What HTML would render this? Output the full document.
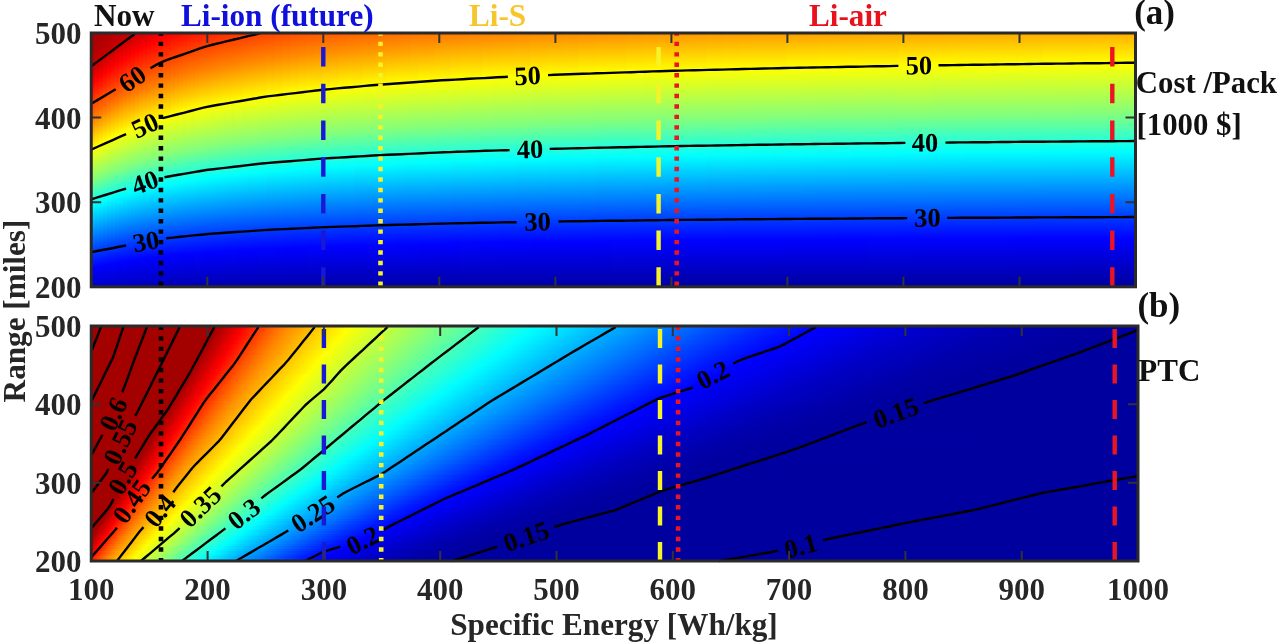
<!DOCTYPE html><html><head><meta charset="utf-8"><title>fig</title><style>html,body{margin:0;padding:0;background:#fff}body{width:1280px;height:644px;position:relative;overflow:hidden}</style></head><body><svg width="1280" height="644" viewBox="0 0 1280 644" style="position:absolute;left:0;top:0">
<defs><linearGradient id="t0" x1="0" y1="0" x2="0" y2="1"><stop offset="0" stop-color="#a60000"/><stop offset="0.07087" stop-color="#b10000"/><stop offset="0.1181" stop-color="#c20000"/><stop offset="0.1496" stop-color="#d30000"/><stop offset="0.1969" stop-color="#fd0000"/><stop offset="0.3307" stop-color="#ff7500"/><stop offset="0.4567" stop-color="#fdff02"/><stop offset="0.5827" stop-color="#80ff7f"/><stop offset="0.6772" stop-color="#03fffc"/><stop offset="0.8583" stop-color="#003eff"/><stop offset="0.9213" stop-color="#0003ff"/><stop offset="0.9291" stop-color="#0000fc"/><stop offset="1" stop-color="#0000cd"/></linearGradient><linearGradient id="t1" x1="0" y1="0" x2="0" y2="1"><stop offset="0" stop-color="#a80000"/><stop offset="0.06299" stop-color="#b40000"/><stop offset="0.1024" stop-color="#c20000"/><stop offset="0.1339" stop-color="#d30000"/><stop offset="0.189" stop-color="#ff0300"/><stop offset="0.3228" stop-color="#ff7900"/><stop offset="0.4409" stop-color="#fffb00"/><stop offset="0.4488" stop-color="#fbff04"/><stop offset="0.5748" stop-color="#80ff7f"/><stop offset="0.6614" stop-color="#0efff1"/><stop offset="0.6772" stop-color="#00faff"/><stop offset="0.8504" stop-color="#0042ff"/><stop offset="0.9213" stop-color="#0001ff"/><stop offset="1" stop-color="#0000cb"/></linearGradient><linearGradient id="t2" x1="0" y1="0" x2="0" y2="1"><stop offset="0" stop-color="#ab0000"/><stop offset="0.05512" stop-color="#b60000"/><stop offset="0.1024" stop-color="#c90000"/><stop offset="0.126" stop-color="#d70000"/><stop offset="0.1732" stop-color="#ff0100"/><stop offset="0.3071" stop-color="#ff7500"/><stop offset="0.4331" stop-color="#fffc00"/><stop offset="0.4409" stop-color="#faff05"/><stop offset="0.5669" stop-color="#81ff7e"/><stop offset="0.6535" stop-color="#10ffef"/><stop offset="0.6693" stop-color="#00fcff"/><stop offset="0.8504" stop-color="#003eff"/><stop offset="0.9134" stop-color="#0004ff"/><stop offset="0.9213" stop-color="#0000fd"/><stop offset="1" stop-color="#0000ca"/></linearGradient><linearGradient id="t3" x1="0" y1="0" x2="0" y2="1"><stop offset="0" stop-color="#ad0000"/><stop offset="0.04724" stop-color="#b80000"/><stop offset="0.09449" stop-color="#cc0000"/><stop offset="0.1575" stop-color="#fe0000"/><stop offset="0.2992" stop-color="#ff7700"/><stop offset="0.4252" stop-color="#fffd00"/><stop offset="0.4331" stop-color="#f9ff06"/><stop offset="0.5591" stop-color="#82ff7d"/><stop offset="0.6614" stop-color="#00ffff"/><stop offset="0.8425" stop-color="#0042ff"/><stop offset="0.9134" stop-color="#0001ff"/><stop offset="1" stop-color="#0000c8"/></linearGradient><linearGradient id="t4" x1="0" y1="0" x2="0" y2="1"><stop offset="0" stop-color="#b00000"/><stop offset="0.03937" stop-color="#ba0000"/><stop offset="0.07874" stop-color="#cb0000"/><stop offset="0.1496" stop-color="#ff0300"/><stop offset="0.2913" stop-color="#ff7900"/><stop offset="0.4173" stop-color="#fffe00"/><stop offset="0.4252" stop-color="#f8ff07"/><stop offset="0.5512" stop-color="#83ff7c"/><stop offset="0.6535" stop-color="#02fffd"/><stop offset="0.8425" stop-color="#003eff"/><stop offset="0.9055" stop-color="#0005ff"/><stop offset="0.9134" stop-color="#0000fe"/><stop offset="1" stop-color="#0000c6"/></linearGradient><linearGradient id="t5" x1="0" y1="0" x2="0" y2="1"><stop offset="0" stop-color="#b30000"/><stop offset="0.07087" stop-color="#cd0000"/><stop offset="0.1339" stop-color="#ff0000"/><stop offset="0.2756" stop-color="#ff7400"/><stop offset="0.4094" stop-color="#fffe00"/><stop offset="0.4173" stop-color="#f8ff07"/><stop offset="0.5433" stop-color="#84ff7b"/><stop offset="0.6378" stop-color="#0ffff0"/><stop offset="0.6535" stop-color="#00fbff"/><stop offset="0.8346" stop-color="#0043ff"/><stop offset="0.9055" stop-color="#0003ff"/><stop offset="1" stop-color="#0000c5"/></linearGradient><linearGradient id="t6" x1="0" y1="0" x2="0" y2="1"><stop offset="0" stop-color="#b60000"/><stop offset="0.06299" stop-color="#d00000"/><stop offset="0.126" stop-color="#ff0300"/><stop offset="0.2677" stop-color="#ff7500"/><stop offset="0.4016" stop-color="#fffe00"/><stop offset="0.4094" stop-color="#f9ff06"/><stop offset="0.5433" stop-color="#7eff81"/><stop offset="0.6457" stop-color="#00ffff"/><stop offset="0.8346" stop-color="#003fff"/><stop offset="0.9055" stop-color="#0001ff"/><stop offset="1" stop-color="#0000c3"/></linearGradient><linearGradient id="t7" x1="0" y1="0" x2="0" y2="1"><stop offset="0" stop-color="#ba0000"/><stop offset="0.04724" stop-color="#ce0000"/><stop offset="0.1102" stop-color="#fe0000"/><stop offset="0.1181" stop-color="#ff0500"/><stop offset="0.2598" stop-color="#ff7600"/><stop offset="0.3937" stop-color="#fffd00"/><stop offset="0.4016" stop-color="#f9ff06"/><stop offset="0.5276" stop-color="#88ff77"/><stop offset="0.5591" stop-color="#65ff9a"/><stop offset="0.6378" stop-color="#03fffc"/><stop offset="0.6457" stop-color="#00f9ff"/><stop offset="0.8346" stop-color="#003cff"/><stop offset="0.8976" stop-color="#0005ff"/><stop offset="0.9055" stop-color="#0000fe"/><stop offset="1" stop-color="#0000c2"/></linearGradient><linearGradient id="t8" x1="0" y1="0" x2="0" y2="1"><stop offset="0" stop-color="#be0000"/><stop offset="0.04724" stop-color="#d50000"/><stop offset="0.1024" stop-color="#ff0100"/><stop offset="0.252" stop-color="#ff7700"/><stop offset="0.3858" stop-color="#fffd00"/><stop offset="0.3937" stop-color="#faff05"/><stop offset="0.5276" stop-color="#83ff7c"/><stop offset="0.6378" stop-color="#00fdff"/><stop offset="0.8268" stop-color="#0041ff"/><stop offset="0.8976" stop-color="#0003ff"/><stop offset="1" stop-color="#0000c1"/></linearGradient><linearGradient id="t9" x1="0" y1="0" x2="0" y2="1"><stop offset="0" stop-color="#c30000"/><stop offset="0.0315" stop-color="#d10000"/><stop offset="0.09449" stop-color="#ff0200"/><stop offset="0.2441" stop-color="#ff7700"/><stop offset="0.378" stop-color="#fffb00"/><stop offset="0.3858" stop-color="#fbff04"/><stop offset="0.5276" stop-color="#7dff82"/><stop offset="0.6299" stop-color="#02fffd"/><stop offset="0.8346" stop-color="#0037ff"/><stop offset="0.8976" stop-color="#0001ff"/><stop offset="1" stop-color="#0000bf"/></linearGradient><linearGradient id="t10" x1="0" y1="0" x2="0" y2="1"><stop offset="0" stop-color="#c70000"/><stop offset="0.0315" stop-color="#d80000"/><stop offset="0.07874" stop-color="#fd0000"/><stop offset="0.08661" stop-color="#ff0400"/><stop offset="0.2441" stop-color="#ff7e00"/><stop offset="0.378" stop-color="#fcff03"/><stop offset="0.5197" stop-color="#80ff7f"/><stop offset="0.6142" stop-color="#0ffff0"/><stop offset="0.6299" stop-color="#00fcff"/><stop offset="0.8189" stop-color="#0043ff"/><stop offset="0.8898" stop-color="#0005ff"/><stop offset="0.8976" stop-color="#0000fe"/><stop offset="1" stop-color="#0000be"/></linearGradient><linearGradient id="t11" x1="0" y1="0" x2="0" y2="1"><stop offset="0" stop-color="#cc0000"/><stop offset="0.07087" stop-color="#fe0000"/><stop offset="0.07874" stop-color="#ff0500"/><stop offset="0.2362" stop-color="#ff7e00"/><stop offset="0.3701" stop-color="#feff01"/><stop offset="0.5118" stop-color="#83ff7c"/><stop offset="0.622" stop-color="#02fffd"/><stop offset="0.8268" stop-color="#0039ff"/><stop offset="0.8898" stop-color="#0003ff"/><stop offset="0.8976" stop-color="#0000fd"/><stop offset="1" stop-color="#0000bd"/></linearGradient><linearGradient id="t12" x1="0" y1="0" x2="0" y2="1"><stop offset="0" stop-color="#d10000"/><stop offset="0.06299" stop-color="#ff0000"/><stop offset="0.2205" stop-color="#ff7600"/><stop offset="0.3622" stop-color="#fffe00"/><stop offset="0.3701" stop-color="#f9ff06"/><stop offset="0.5118" stop-color="#7eff81"/><stop offset="0.6063" stop-color="#0ffff0"/><stop offset="0.622" stop-color="#00fdff"/><stop offset="0.8189" stop-color="#003eff"/><stop offset="0.8898" stop-color="#0002ff"/><stop offset="1" stop-color="#0000bc"/></linearGradient><linearGradient id="t13" x1="0" y1="0" x2="0" y2="1"><stop offset="0" stop-color="#d60000"/><stop offset="0.05512" stop-color="#ff0000"/><stop offset="0.2205" stop-color="#ff7c00"/><stop offset="0.3543" stop-color="#fffc00"/><stop offset="0.3622" stop-color="#fbff04"/><stop offset="0.5039" stop-color="#82ff7d"/><stop offset="0.6142" stop-color="#02fffd"/><stop offset="0.8189" stop-color="#003cff"/><stop offset="0.8898" stop-color="#0000ff"/><stop offset="1" stop-color="#0000bb"/></linearGradient><linearGradient id="t14" x1="0" y1="0" x2="0" y2="1"><stop offset="0" stop-color="#dc0000"/><stop offset="0.04724" stop-color="#ff0100"/><stop offset="0.1181" stop-color="#ff3300"/><stop offset="0.2283" stop-color="#ff8900"/><stop offset="0.3543" stop-color="#fdff02"/><stop offset="0.4961" stop-color="#85ff7a"/><stop offset="0.6142" stop-color="#00fdff"/><stop offset="0.811" stop-color="#0041ff"/><stop offset="0.8819" stop-color="#0005ff"/><stop offset="0.8898" stop-color="#0000fe"/><stop offset="1" stop-color="#0000ba"/></linearGradient><linearGradient id="t15" x1="0" y1="0" x2="0" y2="1"><stop offset="0" stop-color="#e20000"/><stop offset="0.03937" stop-color="#ff0100"/><stop offset="0.1181" stop-color="#ff3800"/><stop offset="0.2126" stop-color="#ff8100"/><stop offset="0.3465" stop-color="#ffff00"/><stop offset="0.3543" stop-color="#f8ff07"/><stop offset="0.4961" stop-color="#81ff7e"/><stop offset="0.5984" stop-color="#0cfff3"/><stop offset="0.6142" stop-color="#00faff"/><stop offset="0.811" stop-color="#003fff"/><stop offset="0.8819" stop-color="#0003ff"/><stop offset="0.8898" stop-color="#0000fd"/><stop offset="1" stop-color="#0000b9"/></linearGradient><linearGradient id="t16" x1="0" y1="0" x2="0" y2="1"><stop offset="0" stop-color="#e80000"/><stop offset="0.0315" stop-color="#ff0100"/><stop offset="0.1417" stop-color="#ff4e00"/><stop offset="0.2126" stop-color="#ff8600"/><stop offset="0.3307" stop-color="#fff500"/><stop offset="0.3465" stop-color="#fbff04"/><stop offset="0.4961" stop-color="#7dff82"/><stop offset="0.6063" stop-color="#00ffff"/><stop offset="0.811" stop-color="#003dff"/><stop offset="0.8819" stop-color="#0002ff"/><stop offset="1" stop-color="#0000b8"/></linearGradient><linearGradient id="t17" x1="0" y1="0" x2="0" y2="1"><stop offset="0" stop-color="#ee0000"/><stop offset="0.02362" stop-color="#ff0000"/><stop offset="0.1575" stop-color="#ff5f00"/><stop offset="0.2205" stop-color="#ff9200"/><stop offset="0.3386" stop-color="#fdff02"/><stop offset="0.4882" stop-color="#81ff7e"/><stop offset="0.5906" stop-color="#0dfff2"/><stop offset="0.6063" stop-color="#00fbff"/><stop offset="0.811" stop-color="#003bff"/><stop offset="0.8819" stop-color="#0001ff"/><stop offset="1" stop-color="#0000b7"/></linearGradient><linearGradient id="t18" x1="0" y1="0" x2="0" y2="1"><stop offset="0" stop-color="#f40000"/><stop offset="0.01575" stop-color="#ff0000"/><stop offset="0.1575" stop-color="#ff6400"/><stop offset="0.2205" stop-color="#ff9700"/><stop offset="0.3307" stop-color="#fffe00"/><stop offset="0.3386" stop-color="#f9ff06"/><stop offset="0.4882" stop-color="#7eff81"/><stop offset="0.5984" stop-color="#01fffe"/><stop offset="0.811" stop-color="#0039ff"/><stop offset="0.8819" stop-color="#0000ff"/><stop offset="1" stop-color="#0000b7"/></linearGradient><linearGradient id="t19" x1="0" y1="0" x2="0" y2="1"><stop offset="0" stop-color="#f90000"/><stop offset="0.01575" stop-color="#ff0500"/><stop offset="0.1654" stop-color="#ff6e00"/><stop offset="0.3307" stop-color="#fcff03"/><stop offset="0.4803" stop-color="#82ff7d"/><stop offset="0.5984" stop-color="#00fdff"/><stop offset="0.8031" stop-color="#003fff"/><stop offset="0.874" stop-color="#0004ff"/><stop offset="0.8819" stop-color="#0000fe"/><stop offset="1" stop-color="#0000b6"/></linearGradient><linearGradient id="t20" x1="0" y1="0" x2="0" y2="1"><stop offset="0" stop-color="#fe0000"/><stop offset="0.1654" stop-color="#ff7200"/><stop offset="0.2126" stop-color="#ff9900"/><stop offset="0.3228" stop-color="#ffff00"/><stop offset="0.3307" stop-color="#f8ff07"/><stop offset="0.4724" stop-color="#86ff79"/><stop offset="0.5039" stop-color="#66ff99"/><stop offset="0.5827" stop-color="#0cfff3"/><stop offset="0.5984" stop-color="#00faff"/><stop offset="0.8031" stop-color="#003dff"/><stop offset="0.874" stop-color="#0003ff"/><stop offset="1" stop-color="#0000b5"/></linearGradient><linearGradient id="t21" x1="0" y1="0" x2="0" y2="1"><stop offset="0" stop-color="#ff0300"/><stop offset="0.1732" stop-color="#ff7c00"/><stop offset="0.315" stop-color="#fffc00"/><stop offset="0.4173" stop-color="#b1ff4e"/><stop offset="0.4724" stop-color="#83ff7c"/><stop offset="0.5906" stop-color="#01fffe"/><stop offset="0.8031" stop-color="#003cff"/><stop offset="0.874" stop-color="#0002ff"/><stop offset="1" stop-color="#0000b5"/></linearGradient><linearGradient id="t22" x1="0" y1="0" x2="0" y2="1"><stop offset="0" stop-color="#ff0700"/><stop offset="0.1732" stop-color="#ff8000"/><stop offset="0.315" stop-color="#ffff00"/><stop offset="0.4724" stop-color="#80ff7f"/><stop offset="0.5827" stop-color="#06fff9"/><stop offset="0.5906" stop-color="#00fdff"/><stop offset="0.8031" stop-color="#003aff"/><stop offset="0.874" stop-color="#0001ff"/><stop offset="1" stop-color="#0000b4"/></linearGradient><linearGradient id="t23" x1="0" y1="0" x2="0" y2="1"><stop offset="0" stop-color="#ff0b00"/><stop offset="0.1654" stop-color="#ff7e00"/><stop offset="0.3071" stop-color="#fffc00"/><stop offset="0.4646" stop-color="#84ff7b"/><stop offset="0.5827" stop-color="#03fffc"/><stop offset="0.5906" stop-color="#00faff"/><stop offset="0.811" stop-color="#0032ff"/><stop offset="0.874" stop-color="#0000ff"/><stop offset="1" stop-color="#0000b3"/></linearGradient><linearGradient id="t24" x1="0" y1="0" x2="0" y2="1"><stop offset="0" stop-color="#ff0f00"/><stop offset="0.1654" stop-color="#ff8200"/><stop offset="0.3071" stop-color="#ffff00"/><stop offset="0.4646" stop-color="#81ff7e"/><stop offset="0.5827" stop-color="#01fffe"/><stop offset="0.7953" stop-color="#003eff"/><stop offset="0.8661" stop-color="#0005ff"/><stop offset="0.874" stop-color="#0000fe"/><stop offset="1" stop-color="#0000b3"/></linearGradient><linearGradient id="t25" x1="0" y1="0" x2="0" y2="1"><stop offset="0" stop-color="#ff1300"/><stop offset="0.1575" stop-color="#ff7f00"/><stop offset="0.2992" stop-color="#fffc00"/><stop offset="0.4567" stop-color="#86ff79"/><stop offset="0.4882" stop-color="#67ff98"/><stop offset="0.5748" stop-color="#06fff9"/><stop offset="0.5827" stop-color="#00feff"/><stop offset="0.7953" stop-color="#003dff"/><stop offset="0.8661" stop-color="#0004ff"/><stop offset="0.874" stop-color="#0000fd"/><stop offset="1" stop-color="#0000b2"/></linearGradient><linearGradient id="t26" x1="0" y1="0" x2="0" y2="1"><stop offset="0" stop-color="#ff1600"/><stop offset="0.1575" stop-color="#ff8300"/><stop offset="0.2992" stop-color="#ffff00"/><stop offset="0.4567" stop-color="#83ff7c"/><stop offset="0.5748" stop-color="#04fffb"/><stop offset="0.5827" stop-color="#00fbff"/><stop offset="0.8031" stop-color="#0035ff"/><stop offset="0.8661" stop-color="#0003ff"/><stop offset="1" stop-color="#0000b2"/></linearGradient><linearGradient id="t27" x1="0" y1="0" x2="0" y2="1"><stop offset="0" stop-color="#ff1a00"/><stop offset="0.1496" stop-color="#ff8000"/><stop offset="0.2835" stop-color="#fff500"/><stop offset="0.2992" stop-color="#fcff03"/><stop offset="0.4567" stop-color="#81ff7e"/><stop offset="0.5748" stop-color="#02fffd"/><stop offset="0.7953" stop-color="#003aff"/><stop offset="0.8661" stop-color="#0002ff"/><stop offset="1" stop-color="#0000b1"/></linearGradient><linearGradient id="t28" x1="0" y1="0" x2="0" y2="1"><stop offset="0" stop-color="#ff1d00"/><stop offset="0.1496" stop-color="#ff8300"/><stop offset="0.2913" stop-color="#fffe00"/><stop offset="0.4488" stop-color="#85ff7a"/><stop offset="0.4803" stop-color="#67ff98"/><stop offset="0.5669" stop-color="#08fff7"/><stop offset="0.5748" stop-color="#00ffff"/><stop offset="0.7953" stop-color="#0039ff"/><stop offset="0.8661" stop-color="#0001ff"/><stop offset="1" stop-color="#0000b1"/></linearGradient><linearGradient id="t29" x1="0" y1="0" x2="0" y2="1"><stop offset="0" stop-color="#ff2000"/><stop offset="0.1417" stop-color="#ff8000"/><stop offset="0.2913" stop-color="#fdff02"/><stop offset="0.4488" stop-color="#83ff7c"/><stop offset="0.5669" stop-color="#05fffa"/><stop offset="0.5748" stop-color="#00fdff"/><stop offset="0.7953" stop-color="#0038ff"/><stop offset="0.8661" stop-color="#0000ff"/><stop offset="1" stop-color="#0000b0"/></linearGradient><linearGradient id="t30" x1="0" y1="0" x2="0" y2="1"><stop offset="0" stop-color="#ff2300"/><stop offset="0.1417" stop-color="#ff8300"/><stop offset="0.2835" stop-color="#fffd00"/><stop offset="0.3937" stop-color="#aeff51"/><stop offset="0.4488" stop-color="#81ff7e"/><stop offset="0.5669" stop-color="#03fffc"/><stop offset="0.5748" stop-color="#00fbff"/><stop offset="0.8031" stop-color="#0030ff"/><stop offset="0.8661" stop-color="#0000ff"/><stop offset="1" stop-color="#0000b0"/></linearGradient><linearGradient id="t31" x1="0" y1="0" x2="0" y2="1"><stop offset="0" stop-color="#ff2600"/><stop offset="0.1417" stop-color="#ff8600"/><stop offset="0.2835" stop-color="#feff01"/><stop offset="0.4488" stop-color="#7fff80"/><stop offset="0.5669" stop-color="#01fffe"/><stop offset="0.7953" stop-color="#0036ff"/><stop offset="0.8583" stop-color="#0004ff"/><stop offset="0.8661" stop-color="#0000fe"/><stop offset="1" stop-color="#0000b0"/></linearGradient><linearGradient id="t32" x1="0" y1="0" x2="0" y2="1"><stop offset="0" stop-color="#ff2900"/><stop offset="0.1339" stop-color="#ff8300"/><stop offset="0.2677" stop-color="#fff500"/><stop offset="0.2835" stop-color="#fcff03"/><stop offset="0.4409" stop-color="#83ff7c"/><stop offset="0.5591" stop-color="#07fff8"/><stop offset="0.5669" stop-color="#00ffff"/><stop offset="0.7874" stop-color="#003cff"/><stop offset="0.8583" stop-color="#0004ff"/><stop offset="0.8661" stop-color="#0000fd"/><stop offset="1" stop-color="#0000af"/></linearGradient><linearGradient id="t33" x1="0" y1="0" x2="0" y2="1"><stop offset="0" stop-color="#ff2b00"/><stop offset="0.1339" stop-color="#ff8600"/><stop offset="0.2756" stop-color="#fffe00"/><stop offset="0.4409" stop-color="#81ff7e"/><stop offset="0.5591" stop-color="#05fffa"/><stop offset="0.5669" stop-color="#00fdff"/><stop offset="0.7874" stop-color="#003aff"/><stop offset="0.8583" stop-color="#0003ff"/><stop offset="1" stop-color="#0000af"/></linearGradient><linearGradient id="t34" x1="0" y1="0" x2="0" y2="1"><stop offset="0" stop-color="#ff2e00"/><stop offset="0.126" stop-color="#ff8200"/><stop offset="0.2756" stop-color="#feff01"/><stop offset="0.4409" stop-color="#7fff80"/><stop offset="0.5591" stop-color="#04fffb"/><stop offset="0.5669" stop-color="#00fbff"/><stop offset="0.7953" stop-color="#0033ff"/><stop offset="0.8583" stop-color="#0002ff"/><stop offset="1" stop-color="#0000ae"/></linearGradient><linearGradient id="t35" x1="0" y1="0" x2="0" y2="1"><stop offset="0" stop-color="#ff3000"/><stop offset="0.126" stop-color="#ff8500"/><stop offset="0.2677" stop-color="#fffc00"/><stop offset="0.4331" stop-color="#84ff7b"/><stop offset="0.5591" stop-color="#02fffd"/><stop offset="0.7874" stop-color="#0039ff"/><stop offset="0.8583" stop-color="#0002ff"/><stop offset="1" stop-color="#0000ae"/></linearGradient><linearGradient id="t36" x1="0" y1="0" x2="0" y2="1"><stop offset="0" stop-color="#ff3300"/><stop offset="0.126" stop-color="#ff8700"/><stop offset="0.2677" stop-color="#ffff00"/><stop offset="0.4331" stop-color="#83ff7c"/><stop offset="0.5591" stop-color="#00ffff"/><stop offset="0.7874" stop-color="#0038ff"/><stop offset="0.8583" stop-color="#0001ff"/><stop offset="1" stop-color="#0000ae"/></linearGradient><linearGradient id="t37" x1="0" y1="0" x2="0" y2="1"><stop offset="0" stop-color="#ff3500"/><stop offset="0.1181" stop-color="#ff8400"/><stop offset="0.2677" stop-color="#fdff02"/><stop offset="0.4331" stop-color="#81ff7e"/><stop offset="0.5512" stop-color="#06fff9"/><stop offset="0.5591" stop-color="#00feff"/><stop offset="0.7874" stop-color="#0037ff"/><stop offset="0.8583" stop-color="#0000ff"/><stop offset="1" stop-color="#0000ad"/></linearGradient><linearGradient id="t38" x1="0" y1="0" x2="0" y2="1"><stop offset="0" stop-color="#ff3700"/><stop offset="0.1181" stop-color="#ff8600"/><stop offset="0.2598" stop-color="#fffd00"/><stop offset="0.4252" stop-color="#86ff79"/><stop offset="0.4646" stop-color="#61ff9e"/><stop offset="0.5512" stop-color="#05fffa"/><stop offset="0.5591" stop-color="#00fcff"/><stop offset="0.7953" stop-color="#002fff"/><stop offset="0.8583" stop-color="#0000ff"/><stop offset="1" stop-color="#0000ad"/></linearGradient><linearGradient id="t39" x1="0" y1="0" x2="0" y2="1"><stop offset="0" stop-color="#ff3900"/><stop offset="0.1181" stop-color="#ff8900"/><stop offset="0.2598" stop-color="#ffff00"/><stop offset="0.4252" stop-color="#84ff7b"/><stop offset="0.5512" stop-color="#03fffc"/><stop offset="0.7953" stop-color="#002fff"/><stop offset="0.8583" stop-color="#0000fe"/><stop offset="1" stop-color="#0000ad"/></linearGradient><linearGradient id="t40" x1="0" y1="0" x2="0" y2="1"><stop offset="0" stop-color="#ff3c00"/><stop offset="0.1181" stop-color="#ff8b00"/><stop offset="0.2598" stop-color="#feff01"/><stop offset="0.4252" stop-color="#83ff7c"/><stop offset="0.5512" stop-color="#02fffd"/><stop offset="0.7874" stop-color="#0034ff"/><stop offset="0.8504" stop-color="#0004ff"/><stop offset="0.8583" stop-color="#0000fe"/><stop offset="1" stop-color="#0000ad"/></linearGradient><linearGradient id="t41" x1="0" y1="0" x2="0" y2="1"><stop offset="0" stop-color="#ff3e00"/><stop offset="0.1102" stop-color="#ff8700"/><stop offset="0.2441" stop-color="#fff600"/><stop offset="0.2598" stop-color="#fcff03"/><stop offset="0.4252" stop-color="#81ff7e"/><stop offset="0.5512" stop-color="#00ffff"/><stop offset="0.7795" stop-color="#003aff"/><stop offset="0.8504" stop-color="#0004ff"/><stop offset="0.8583" stop-color="#0000fd"/><stop offset="1" stop-color="#0000ac"/></linearGradient><linearGradient id="t42" x1="0" y1="0" x2="0" y2="1"><stop offset="0" stop-color="#ff4000"/><stop offset="0.1102" stop-color="#ff8900"/><stop offset="0.252" stop-color="#fffe00"/><stop offset="0.4252" stop-color="#7fff80"/><stop offset="0.5433" stop-color="#06fff9"/><stop offset="0.5512" stop-color="#00feff"/><stop offset="0.7795" stop-color="#0039ff"/><stop offset="0.8504" stop-color="#0003ff"/><stop offset="1" stop-color="#0000ac"/></linearGradient><linearGradient id="t43" x1="0" y1="0" x2="0" y2="1"><stop offset="0" stop-color="#ff4200"/><stop offset="0.1102" stop-color="#ff8b00"/><stop offset="0.252" stop-color="#feff01"/><stop offset="0.4173" stop-color="#85ff7a"/><stop offset="0.5433" stop-color="#05fffa"/><stop offset="0.5512" stop-color="#00fdff"/><stop offset="0.7795" stop-color="#0039ff"/><stop offset="0.8504" stop-color="#0002ff"/><stop offset="1" stop-color="#0000ac"/></linearGradient><linearGradient id="t44" x1="0" y1="0" x2="0" y2="1"><stop offset="0" stop-color="#ff4400"/><stop offset="0.1024" stop-color="#ff8800"/><stop offset="0.2362" stop-color="#fff600"/><stop offset="0.252" stop-color="#fcff03"/><stop offset="0.4173" stop-color="#82ff7d"/><stop offset="0.5433" stop-color="#03fffc"/><stop offset="0.7874" stop-color="#0031ff"/><stop offset="0.8504" stop-color="#0002ff"/><stop offset="1" stop-color="#0000ab"/></linearGradient><linearGradient id="t45" x1="0" y1="0" x2="0" y2="1"><stop offset="0" stop-color="#ff4800"/><stop offset="0.1024" stop-color="#ff8c00"/><stop offset="0.2441" stop-color="#feff01"/><stop offset="0.4173" stop-color="#80ff7f"/><stop offset="0.5433" stop-color="#01fffe"/><stop offset="0.7795" stop-color="#0036ff"/><stop offset="0.8504" stop-color="#0001ff"/><stop offset="1" stop-color="#0000ab"/></linearGradient><linearGradient id="t46" x1="0" y1="0" x2="0" y2="1"><stop offset="0" stop-color="#ff4b00"/><stop offset="0.09449" stop-color="#ff8a00"/><stop offset="0.2283" stop-color="#fff600"/><stop offset="0.2441" stop-color="#fbff04"/><stop offset="0.4094" stop-color="#84ff7b"/><stop offset="0.5354" stop-color="#06fff9"/><stop offset="0.5433" stop-color="#00fdff"/><stop offset="0.7795" stop-color="#0035ff"/><stop offset="0.8504" stop-color="#0000ff"/><stop offset="1" stop-color="#0000ab"/></linearGradient><linearGradient id="t47" x1="0" y1="0" x2="0" y2="1"><stop offset="0" stop-color="#ff4f00"/><stop offset="0.09449" stop-color="#ff8e00"/><stop offset="0.2362" stop-color="#feff01"/><stop offset="0.4094" stop-color="#81ff7e"/><stop offset="0.5354" stop-color="#03fffc"/><stop offset="0.5433" stop-color="#00fbff"/><stop offset="0.7795" stop-color="#0034ff"/><stop offset="0.8425" stop-color="#0004ff"/><stop offset="0.8504" stop-color="#0000fe"/><stop offset="1" stop-color="#0000aa"/></linearGradient><linearGradient id="t48" x1="0" y1="0" x2="0" y2="1"><stop offset="0" stop-color="#ff5200"/><stop offset="0.08661" stop-color="#ff8b00"/><stop offset="0.2205" stop-color="#fff600"/><stop offset="0.2362" stop-color="#fcff03"/><stop offset="0.4094" stop-color="#7fff80"/><stop offset="0.5354" stop-color="#01fffe"/><stop offset="0.7717" stop-color="#0039ff"/><stop offset="0.8425" stop-color="#0004ff"/><stop offset="0.8504" stop-color="#0000fd"/><stop offset="1" stop-color="#0000aa"/></linearGradient><linearGradient id="t49" x1="0" y1="0" x2="0" y2="1"><stop offset="0" stop-color="#ff5500"/><stop offset="0.08661" stop-color="#ff8e00"/><stop offset="0.2283" stop-color="#ffff00"/><stop offset="0.4016" stop-color="#83ff7c"/><stop offset="0.5276" stop-color="#06fff9"/><stop offset="0.5354" stop-color="#00feff"/><stop offset="0.7717" stop-color="#0038ff"/><stop offset="0.8425" stop-color="#0003ff"/><stop offset="1" stop-color="#0000a9"/></linearGradient><linearGradient id="t50" x1="0" y1="0" x2="0" y2="1"><stop offset="0" stop-color="#ff5700"/><stop offset="0.07874" stop-color="#ff8b00"/><stop offset="0.2283" stop-color="#fcff03"/><stop offset="0.4016" stop-color="#81ff7e"/><stop offset="0.5276" stop-color="#04fffb"/><stop offset="0.5354" stop-color="#00fcff"/><stop offset="0.7717" stop-color="#0037ff"/><stop offset="0.8425" stop-color="#0002ff"/><stop offset="1" stop-color="#0000a9"/></linearGradient><linearGradient id="t51" x1="0" y1="0" x2="0" y2="1"><stop offset="0" stop-color="#ff5a00"/><stop offset="0.08661" stop-color="#ff9400"/><stop offset="0.2205" stop-color="#fffe00"/><stop offset="0.3937" stop-color="#85ff7a"/><stop offset="0.4331" stop-color="#62ff9d"/><stop offset="0.5276" stop-color="#03fffc"/><stop offset="0.7717" stop-color="#0036ff"/><stop offset="0.8425" stop-color="#0001ff"/><stop offset="1" stop-color="#0000a9"/></linearGradient><linearGradient id="t52" x1="0" y1="0" x2="0" y2="1"><stop offset="0" stop-color="#ff5d00"/><stop offset="0.07874" stop-color="#ff9100"/><stop offset="0.2205" stop-color="#feff01"/><stop offset="0.3937" stop-color="#83ff7c"/><stop offset="0.5276" stop-color="#01fffe"/><stop offset="0.7717" stop-color="#0035ff"/><stop offset="0.8425" stop-color="#0001ff"/><stop offset="1" stop-color="#0000a9"/></linearGradient><linearGradient id="t53" x1="0" y1="0" x2="0" y2="1"><stop offset="0" stop-color="#ff5f00"/><stop offset="0.07087" stop-color="#ff8e00"/><stop offset="0.2047" stop-color="#fff700"/><stop offset="0.2205" stop-color="#fbff04"/><stop offset="0.3937" stop-color="#81ff7e"/><stop offset="0.5197" stop-color="#06fff9"/><stop offset="0.5276" stop-color="#00feff"/><stop offset="0.7717" stop-color="#0034ff"/><stop offset="0.8425" stop-color="#0000ff"/><stop offset="1" stop-color="#0000a8"/></linearGradient><linearGradient id="t54" x1="0" y1="0" x2="0" y2="1"><stop offset="0" stop-color="#ff6200"/><stop offset="0.07874" stop-color="#ff9600"/><stop offset="0.2126" stop-color="#ffff00"/><stop offset="0.3937" stop-color="#80ff7f"/><stop offset="0.5197" stop-color="#05fffa"/><stop offset="0.5276" stop-color="#00fdff"/><stop offset="0.7795" stop-color="#002dff"/><stop offset="0.8425" stop-color="#0000fe"/><stop offset="1" stop-color="#0000a8"/></linearGradient><linearGradient id="t55" x1="0" y1="0" x2="0" y2="1"><stop offset="0" stop-color="#ff6400"/><stop offset="0.07087" stop-color="#ff9300"/><stop offset="0.2126" stop-color="#fdff02"/><stop offset="0.3858" stop-color="#84ff7b"/><stop offset="0.5197" stop-color="#03fffc"/><stop offset="0.7717" stop-color="#0032ff"/><stop offset="0.8346" stop-color="#0004ff"/><stop offset="0.8425" stop-color="#0000fe"/><stop offset="1" stop-color="#0000a8"/></linearGradient><linearGradient id="t56" x1="0" y1="0" x2="0" y2="1"><stop offset="0" stop-color="#ff6600"/><stop offset="0.07087" stop-color="#ff9500"/><stop offset="0.2047" stop-color="#fffd00"/><stop offset="0.3307" stop-color="#acff53"/><stop offset="0.3858" stop-color="#83ff7c"/><stop offset="0.5197" stop-color="#02fffd"/><stop offset="0.7638" stop-color="#0038ff"/><stop offset="0.8346" stop-color="#0003ff"/><stop offset="0.8425" stop-color="#0000fd"/><stop offset="1" stop-color="#0000a8"/></linearGradient><linearGradient id="t57" x1="0" y1="0" x2="0" y2="1"><stop offset="0" stop-color="#ff6800"/><stop offset="0.07087" stop-color="#ff9700"/><stop offset="0.2047" stop-color="#ffff00"/><stop offset="0.3858" stop-color="#81ff7e"/><stop offset="0.5197" stop-color="#00ffff"/><stop offset="0.7638" stop-color="#0037ff"/><stop offset="0.8346" stop-color="#0003ff"/><stop offset="1" stop-color="#0000a7"/></linearGradient><linearGradient id="t58" x1="0" y1="0" x2="0" y2="1"><stop offset="0" stop-color="#ff6a00"/><stop offset="0.06299" stop-color="#ff9400"/><stop offset="0.2047" stop-color="#fdff02"/><stop offset="0.3858" stop-color="#7fff80"/><stop offset="0.5118" stop-color="#06fff9"/><stop offset="0.5197" stop-color="#00feff"/><stop offset="0.7638" stop-color="#0036ff"/><stop offset="0.8346" stop-color="#0002ff"/><stop offset="1" stop-color="#0000a7"/></linearGradient><linearGradient id="t59" x1="0" y1="0" x2="0" y2="1"><stop offset="0" stop-color="#ff6c00"/><stop offset="0.07087" stop-color="#ff9c00"/><stop offset="0.1969" stop-color="#fffd00"/><stop offset="0.2047" stop-color="#fbff04"/><stop offset="0.378" stop-color="#84ff7b"/><stop offset="0.4173" stop-color="#62ff9d"/><stop offset="0.5118" stop-color="#05fffa"/><stop offset="0.5197" stop-color="#00fdff"/><stop offset="0.7638" stop-color="#0035ff"/><stop offset="0.8346" stop-color="#0002ff"/><stop offset="1" stop-color="#0000a7"/></linearGradient><linearGradient id="t60" x1="0" y1="0" x2="0" y2="1"><stop offset="0" stop-color="#ff6e00"/><stop offset="0.06299" stop-color="#ff9800"/><stop offset="0.1969" stop-color="#ffff00"/><stop offset="0.378" stop-color="#83ff7c"/><stop offset="0.5118" stop-color="#03fffc"/><stop offset="0.5197" stop-color="#00fbff"/><stop offset="0.7717" stop-color="#002eff"/><stop offset="0.8346" stop-color="#0001ff"/><stop offset="1" stop-color="#0000a7"/></linearGradient><linearGradient id="t61" x1="0" y1="0" x2="0" y2="1"><stop offset="0" stop-color="#ff7000"/><stop offset="0.06299" stop-color="#ff9a00"/><stop offset="0.1969" stop-color="#feff01"/><stop offset="0.378" stop-color="#82ff7d"/><stop offset="0.5118" stop-color="#02fffd"/><stop offset="0.7638" stop-color="#0034ff"/><stop offset="0.8346" stop-color="#0001ff"/><stop offset="1" stop-color="#0000a7"/></linearGradient><linearGradient id="t62" x1="0" y1="0" x2="0" y2="1"><stop offset="0" stop-color="#ff7100"/><stop offset="0.1969" stop-color="#fcff03"/><stop offset="0.378" stop-color="#80ff7f"/><stop offset="0.5118" stop-color="#01fffe"/><stop offset="0.7638" stop-color="#0033ff"/><stop offset="0.8346" stop-color="#0001ff"/><stop offset="1" stop-color="#0000a6"/></linearGradient><linearGradient id="t63" x1="0" y1="0" x2="0" y2="1"><stop offset="0" stop-color="#ff7300"/><stop offset="0.06299" stop-color="#ff9e00"/><stop offset="0.189" stop-color="#fffe00"/><stop offset="0.3701" stop-color="#85ff7a"/><stop offset="0.4094" stop-color="#63ff9c"/><stop offset="0.5118" stop-color="#00ffff"/><stop offset="0.7638" stop-color="#0033ff"/><stop offset="0.8346" stop-color="#0000ff"/><stop offset="1" stop-color="#0000a6"/></linearGradient><linearGradient id="t64" x1="0" y1="0" x2="0" y2="1"><stop offset="0" stop-color="#ff7500"/><stop offset="0.06299" stop-color="#ff9f00"/><stop offset="0.189" stop-color="#ffff00"/><stop offset="0.3701" stop-color="#84ff7b"/><stop offset="0.4094" stop-color="#62ff9d"/><stop offset="0.5039" stop-color="#06fff9"/><stop offset="0.5118" stop-color="#00feff"/><stop offset="0.7638" stop-color="#0032ff"/><stop offset="0.8346" stop-color="#0000ff"/><stop offset="1" stop-color="#0000a6"/></linearGradient><linearGradient id="t65" x1="0" y1="0" x2="0" y2="1"><stop offset="0" stop-color="#ff7600"/><stop offset="0.189" stop-color="#feff01"/><stop offset="0.3701" stop-color="#83ff7c"/><stop offset="0.5039" stop-color="#05fffa"/><stop offset="0.5118" stop-color="#00fdff"/><stop offset="0.7717" stop-color="#002bff"/><stop offset="0.8346" stop-color="#0000fe"/><stop offset="1" stop-color="#0000a6"/></linearGradient><linearGradient id="t66" x1="0" y1="0" x2="0" y2="1"><stop offset="0" stop-color="#ff7800"/><stop offset="0.189" stop-color="#fcff03"/><stop offset="0.3701" stop-color="#82ff7d"/><stop offset="0.5039" stop-color="#04fffb"/><stop offset="0.5118" stop-color="#00fcff"/><stop offset="0.7638" stop-color="#0031ff"/><stop offset="0.8268" stop-color="#0004ff"/><stop offset="0.8346" stop-color="#0000fe"/><stop offset="1" stop-color="#0000a6"/></linearGradient><linearGradient id="t67" x1="0" y1="0" x2="0" y2="1"><stop offset="0" stop-color="#ff7900"/><stop offset="0.1811" stop-color="#fffd00"/><stop offset="0.3071" stop-color="#aeff51"/><stop offset="0.3701" stop-color="#81ff7e"/><stop offset="0.5039" stop-color="#03fffc"/><stop offset="0.7638" stop-color="#0030ff"/><stop offset="0.8268" stop-color="#0003ff"/><stop offset="0.8346" stop-color="#0000fe"/><stop offset="1" stop-color="#0000a6"/></linearGradient><linearGradient id="t68" x1="0" y1="0" x2="0" y2="1"><stop offset="0" stop-color="#ff7a00"/><stop offset="0.1811" stop-color="#ffff00"/><stop offset="0.3701" stop-color="#7fff80"/><stop offset="0.5039" stop-color="#02fffd"/><stop offset="0.7559" stop-color="#0036ff"/><stop offset="0.8268" stop-color="#0003ff"/><stop offset="1" stop-color="#0000a6"/></linearGradient><linearGradient id="t69" x1="0" y1="0" x2="0" y2="1"><stop offset="0" stop-color="#ff7c00"/><stop offset="0.1811" stop-color="#feff01"/><stop offset="0.3701" stop-color="#7eff81"/><stop offset="0.5039" stop-color="#01fffe"/><stop offset="0.7559" stop-color="#0036ff"/><stop offset="0.8268" stop-color="#0003ff"/><stop offset="1" stop-color="#0000a5"/></linearGradient><linearGradient id="t70" x1="0" y1="0" x2="0" y2="1"><stop offset="0" stop-color="#ff7d00"/><stop offset="0.1811" stop-color="#fdff02"/><stop offset="0.3622" stop-color="#84ff7b"/><stop offset="0.5039" stop-color="#00ffff"/><stop offset="0.7559" stop-color="#0035ff"/><stop offset="0.8268" stop-color="#0002ff"/><stop offset="1" stop-color="#0000a5"/></linearGradient><linearGradient id="t71" x1="0" y1="0" x2="0" y2="1"><stop offset="0" stop-color="#ff7e00"/><stop offset="0.1732" stop-color="#fffd00"/><stop offset="0.1811" stop-color="#fcff03"/><stop offset="0.3622" stop-color="#83ff7c"/><stop offset="0.4961" stop-color="#06fff9"/><stop offset="0.5039" stop-color="#00feff"/><stop offset="0.7559" stop-color="#0035ff"/><stop offset="0.8268" stop-color="#0002ff"/><stop offset="1" stop-color="#0000a5"/></linearGradient><linearGradient id="t72" x1="0" y1="0" x2="0" y2="1"><stop offset="0" stop-color="#ff8000"/><stop offset="0.1732" stop-color="#fffe00"/><stop offset="0.3622" stop-color="#82ff7d"/><stop offset="0.4961" stop-color="#05fffa"/><stop offset="0.5039" stop-color="#00fdff"/><stop offset="0.7559" stop-color="#0034ff"/><stop offset="0.8268" stop-color="#0002ff"/><stop offset="1" stop-color="#0000a5"/></linearGradient><linearGradient id="t73" x1="0" y1="0" x2="0" y2="1"><stop offset="0" stop-color="#ff8100"/><stop offset="0.1732" stop-color="#ffff00"/><stop offset="0.3622" stop-color="#80ff7f"/><stop offset="0.4961" stop-color="#04fffb"/><stop offset="0.5039" stop-color="#00fcff"/><stop offset="0.7638" stop-color="#002dff"/><stop offset="0.8268" stop-color="#0001ff"/><stop offset="1" stop-color="#0000a5"/></linearGradient><linearGradient id="t74" x1="0" y1="0" x2="0" y2="1"><stop offset="0" stop-color="#ff8400"/><stop offset="0.1732" stop-color="#fdff02"/><stop offset="0.3622" stop-color="#7fff80"/><stop offset="0.4961" stop-color="#02fffd"/><stop offset="0.7559" stop-color="#0033ff"/><stop offset="0.8268" stop-color="#0001ff"/><stop offset="1" stop-color="#0000a5"/></linearGradient><linearGradient id="t75" x1="0" y1="0" x2="0" y2="1"><stop offset="0" stop-color="#ff8600"/><stop offset="0.1654" stop-color="#fffe00"/><stop offset="0.3543" stop-color="#83ff7c"/><stop offset="0.4961" stop-color="#01fffe"/><stop offset="0.7559" stop-color="#0032ff"/><stop offset="0.8268" stop-color="#0000ff"/><stop offset="1" stop-color="#0000a5"/></linearGradient><linearGradient id="t76" x1="0" y1="0" x2="0" y2="1"><stop offset="0" stop-color="#ff8800"/><stop offset="0.1654" stop-color="#feff01"/><stop offset="0.3543" stop-color="#82ff7d"/><stop offset="0.4961" stop-color="#00feff"/><stop offset="0.7559" stop-color="#0031ff"/><stop offset="0.8268" stop-color="#0000ff"/><stop offset="1" stop-color="#0000a5"/></linearGradient><linearGradient id="t77" x1="0" y1="0" x2="0" y2="1"><stop offset="0" stop-color="#ff8a00"/><stop offset="0.1654" stop-color="#fdff02"/><stop offset="0.3543" stop-color="#80ff7f"/><stop offset="0.4882" stop-color="#05fffa"/><stop offset="0.4961" stop-color="#00fdff"/><stop offset="0.7638" stop-color="#002bff"/><stop offset="0.8268" stop-color="#0000fe"/><stop offset="1" stop-color="#0000a4"/></linearGradient><linearGradient id="t78" x1="0" y1="0" x2="0" y2="1"><stop offset="0" stop-color="#ff8c00"/><stop offset="0.1496" stop-color="#fff800"/><stop offset="0.1654" stop-color="#fbff04"/><stop offset="0.3543" stop-color="#7fff80"/><stop offset="0.4882" stop-color="#04fffb"/><stop offset="0.4961" stop-color="#00fcff"/><stop offset="0.7559" stop-color="#0030ff"/><stop offset="0.8189" stop-color="#0004ff"/><stop offset="0.8268" stop-color="#0000fe"/><stop offset="1" stop-color="#0000a4"/></linearGradient><linearGradient id="t79" x1="0" y1="0" x2="0" y2="1"><stop offset="0" stop-color="#ff8e00"/><stop offset="0.1575" stop-color="#ffff00"/><stop offset="0.3465" stop-color="#83ff7c"/><stop offset="0.4882" stop-color="#02fffd"/><stop offset="0.7559" stop-color="#002fff"/><stop offset="0.8189" stop-color="#0003ff"/><stop offset="0.8268" stop-color="#0000fd"/><stop offset="1" stop-color="#0000a4"/></linearGradient><linearGradient id="t80" x1="0" y1="0" x2="0" y2="1"><stop offset="0" stop-color="#ff8f00"/><stop offset="0.1575" stop-color="#feff01"/><stop offset="0.3465" stop-color="#82ff7d"/><stop offset="0.4882" stop-color="#01fffe"/><stop offset="0.748" stop-color="#0035ff"/><stop offset="0.8189" stop-color="#0003ff"/><stop offset="1" stop-color="#0000a4"/></linearGradient><linearGradient id="t81" x1="0" y1="0" x2="0" y2="1"><stop offset="0" stop-color="#ff9100"/><stop offset="0.1417" stop-color="#fff700"/><stop offset="0.1575" stop-color="#fcff03"/><stop offset="0.3465" stop-color="#81ff7e"/><stop offset="0.4882" stop-color="#00ffff"/><stop offset="0.748" stop-color="#0034ff"/><stop offset="0.8189" stop-color="#0002ff"/><stop offset="1" stop-color="#0000a4"/></linearGradient><linearGradient id="t82" x1="0" y1="0" x2="0" y2="1"><stop offset="0" stop-color="#ff9300"/><stop offset="0.1496" stop-color="#fffe00"/><stop offset="0.3386" stop-color="#86ff79"/><stop offset="0.378" stop-color="#66ff99"/><stop offset="0.4882" stop-color="#00feff"/><stop offset="0.748" stop-color="#0033ff"/><stop offset="0.8189" stop-color="#0002ff"/><stop offset="1" stop-color="#0000a4"/></linearGradient><linearGradient id="t83" x1="0" y1="0" x2="0" y2="1"><stop offset="0" stop-color="#ff9400"/><stop offset="0.1496" stop-color="#ffff00"/><stop offset="0.3465" stop-color="#7fff80"/><stop offset="0.4803" stop-color="#05fffa"/><stop offset="0.4882" stop-color="#00fdff"/><stop offset="0.748" stop-color="#0033ff"/><stop offset="0.8189" stop-color="#0002ff"/><stop offset="1" stop-color="#0000a4"/></linearGradient><linearGradient id="t84" x1="0" y1="0" x2="0" y2="1"><stop offset="0" stop-color="#ff9600"/><stop offset="0.1496" stop-color="#feff01"/><stop offset="0.3386" stop-color="#84ff7b"/><stop offset="0.378" stop-color="#63ff9c"/><stop offset="0.4803" stop-color="#04fffb"/><stop offset="0.4882" stop-color="#00fcff"/><stop offset="0.7559" stop-color="#002dff"/><stop offset="0.8189" stop-color="#0001ff"/><stop offset="0.9685" stop-color="#0000b0"/><stop offset="1" stop-color="#0000a4"/></linearGradient><linearGradient id="t85" x1="0" y1="0" x2="0" y2="1"><stop offset="0" stop-color="#ff9700"/><stop offset="0.1496" stop-color="#fdff02"/><stop offset="0.3386" stop-color="#83ff7c"/><stop offset="0.4803" stop-color="#03fffc"/><stop offset="0.4882" stop-color="#00fcff"/><stop offset="0.748" stop-color="#0032ff"/><stop offset="0.8189" stop-color="#0001ff"/><stop offset="0.9685" stop-color="#0000b0"/><stop offset="1" stop-color="#0000a4"/></linearGradient><linearGradient id="t86" x1="0" y1="0" x2="0" y2="1"><stop offset="0" stop-color="#ff9800"/><stop offset="0.1339" stop-color="#fff800"/><stop offset="0.1496" stop-color="#fbff04"/><stop offset="0.3386" stop-color="#82ff7d"/><stop offset="0.4803" stop-color="#02fffd"/><stop offset="0.748" stop-color="#0032ff"/><stop offset="0.8189" stop-color="#0001ff"/><stop offset="0.9685" stop-color="#0000b0"/><stop offset="1" stop-color="#0000a3"/></linearGradient><linearGradient id="t87" x1="0" y1="0" x2="0" y2="1"><stop offset="0" stop-color="#ff9a00"/><stop offset="0.1417" stop-color="#fffe00"/><stop offset="0.3307" stop-color="#87ff78"/><stop offset="0.378" stop-color="#60ff9f"/><stop offset="0.4724" stop-color="#08fff7"/><stop offset="0.4882" stop-color="#00faff"/><stop offset="0.748" stop-color="#0031ff"/><stop offset="0.8189" stop-color="#0000ff"/><stop offset="0.9685" stop-color="#0000b0"/><stop offset="1" stop-color="#0000a3"/></linearGradient><linearGradient id="t88" x1="0" y1="0" x2="0" y2="1"><stop offset="0" stop-color="#ff9b00"/><stop offset="0.1417" stop-color="#ffff00"/><stop offset="0.3386" stop-color="#80ff7f"/><stop offset="0.4803" stop-color="#01fffe"/><stop offset="0.748" stop-color="#0031ff"/><stop offset="0.8189" stop-color="#0000ff"/><stop offset="0.9685" stop-color="#0000b0"/><stop offset="1" stop-color="#0000a3"/></linearGradient><linearGradient id="t89" x1="0" y1="0" x2="0" y2="1"><stop offset="0" stop-color="#ff9c00"/><stop offset="0.1417" stop-color="#feff01"/><stop offset="0.3386" stop-color="#7fff80"/><stop offset="0.4803" stop-color="#00ffff"/><stop offset="0.748" stop-color="#0030ff"/><stop offset="0.8189" stop-color="#0000ff"/><stop offset="0.9685" stop-color="#0000b0"/><stop offset="1" stop-color="#0000a3"/></linearGradient><linearGradient id="t90" x1="0" y1="0" x2="0" y2="1"><stop offset="0" stop-color="#ff9d00"/><stop offset="0.1417" stop-color="#fdff02"/><stop offset="0.3307" stop-color="#84ff7b"/><stop offset="0.4803" stop-color="#00feff"/><stop offset="0.748" stop-color="#0030ff"/><stop offset="0.8189" stop-color="#0000ff"/><stop offset="0.9685" stop-color="#0000af"/><stop offset="1" stop-color="#0000a3"/></linearGradient><linearGradient id="t91" x1="0" y1="0" x2="0" y2="1"><stop offset="0" stop-color="#ff9e00"/><stop offset="0.126" stop-color="#fff800"/><stop offset="0.1417" stop-color="#fcff03"/><stop offset="0.3307" stop-color="#84ff7b"/><stop offset="0.4803" stop-color="#00feff"/><stop offset="0.748" stop-color="#0030ff"/><stop offset="0.8189" stop-color="#0000fe"/><stop offset="0.9685" stop-color="#0000af"/><stop offset="1" stop-color="#0000a3"/></linearGradient><linearGradient id="t92" x1="0" y1="0" x2="0" y2="1"><stop offset="0" stop-color="#ff9f00"/><stop offset="0.126" stop-color="#fff800"/><stop offset="0.1417" stop-color="#fbff04"/><stop offset="0.3307" stop-color="#83ff7c"/><stop offset="0.4803" stop-color="#00fdff"/><stop offset="0.748" stop-color="#002fff"/><stop offset="0.8189" stop-color="#0000fe"/><stop offset="0.9685" stop-color="#0000af"/><stop offset="1" stop-color="#0000a3"/></linearGradient><linearGradient id="t93" x1="0" y1="0" x2="0" y2="1"><stop offset="0" stop-color="#ffa000"/><stop offset="0.1339" stop-color="#ffff00"/><stop offset="0.3307" stop-color="#82ff7d"/><stop offset="0.4803" stop-color="#00fcff"/><stop offset="0.7402" stop-color="#0035ff"/><stop offset="0.811" stop-color="#0004ff"/><stop offset="0.8189" stop-color="#0000fe"/><stop offset="0.9685" stop-color="#0000af"/><stop offset="1" stop-color="#0000a3"/></linearGradient><linearGradient id="t94" x1="0" y1="0" x2="0" y2="1"><stop offset="0" stop-color="#ffa100"/><stop offset="0.1339" stop-color="#ffff00"/><stop offset="0.3307" stop-color="#82ff7d"/><stop offset="0.4646" stop-color="#0afff5"/><stop offset="0.4803" stop-color="#00fcff"/><stop offset="0.7402" stop-color="#0034ff"/><stop offset="0.811" stop-color="#0003ff"/><stop offset="0.8189" stop-color="#0000fe"/><stop offset="0.9685" stop-color="#0000af"/><stop offset="1" stop-color="#0000a3"/></linearGradient><linearGradient id="t95" x1="0" y1="0" x2="0" y2="1"><stop offset="0" stop-color="#ffa200"/><stop offset="0.1339" stop-color="#feff01"/><stop offset="0.3228" stop-color="#87ff78"/><stop offset="0.3701" stop-color="#61ff9e"/><stop offset="0.4646" stop-color="#09fff6"/><stop offset="0.4803" stop-color="#00fbff"/><stop offset="0.7402" stop-color="#0034ff"/><stop offset="0.811" stop-color="#0003ff"/><stop offset="0.8189" stop-color="#0000fe"/><stop offset="0.9685" stop-color="#0000af"/><stop offset="1" stop-color="#0000a3"/></linearGradient><linearGradient id="t96" x1="0" y1="0" x2="0" y2="1"><stop offset="0" stop-color="#ffa300"/><stop offset="0.1339" stop-color="#fdff02"/><stop offset="0.3228" stop-color="#86ff79"/><stop offset="0.3701" stop-color="#60ff9f"/><stop offset="0.4646" stop-color="#09fff6"/><stop offset="0.4803" stop-color="#00fbff"/><stop offset="0.7402" stop-color="#0034ff"/><stop offset="0.811" stop-color="#0003ff"/><stop offset="0.9685" stop-color="#0000af"/><stop offset="1" stop-color="#0000a3"/></linearGradient><linearGradient id="t97" x1="0" y1="0" x2="0" y2="1"><stop offset="0" stop-color="#ffa400"/><stop offset="0.1339" stop-color="#fcff03"/><stop offset="0.3228" stop-color="#85ff7a"/><stop offset="0.3701" stop-color="#5fffa0"/><stop offset="0.4646" stop-color="#08fff7"/><stop offset="0.4803" stop-color="#00faff"/><stop offset="0.7402" stop-color="#0034ff"/><stop offset="0.811" stop-color="#0003ff"/><stop offset="0.9685" stop-color="#0000af"/><stop offset="1" stop-color="#0000a3"/></linearGradient><linearGradient id="t98" x1="0" y1="0" x2="0" y2="1"><stop offset="0" stop-color="#ffa500"/><stop offset="0.1181" stop-color="#fff800"/><stop offset="0.1339" stop-color="#fcff03"/><stop offset="0.2677" stop-color="#aaff55"/><stop offset="0.3307" stop-color="#7fff80"/><stop offset="0.4724" stop-color="#01fffe"/><stop offset="0.7402" stop-color="#0033ff"/><stop offset="0.811" stop-color="#0003ff"/><stop offset="0.9685" stop-color="#0000ae"/><stop offset="1" stop-color="#0000a3"/></linearGradient><linearGradient id="t99" x1="0" y1="0" x2="0" y2="1"><stop offset="0" stop-color="#ffa600"/><stop offset="0.1181" stop-color="#fff800"/><stop offset="0.1339" stop-color="#fbff04"/><stop offset="0.2677" stop-color="#aaff55"/><stop offset="0.3307" stop-color="#7fff80"/><stop offset="0.4724" stop-color="#01fffe"/><stop offset="0.7402" stop-color="#0033ff"/><stop offset="0.811" stop-color="#0002ff"/><stop offset="0.9685" stop-color="#0000ae"/><stop offset="1" stop-color="#0000a3"/></linearGradient><linearGradient id="t100" x1="0" y1="0" x2="0" y2="1"><stop offset="0" stop-color="#ffa600"/><stop offset="0.126" stop-color="#fffe00"/><stop offset="0.3228" stop-color="#84ff7b"/><stop offset="0.4724" stop-color="#00ffff"/><stop offset="0.7402" stop-color="#0033ff"/><stop offset="0.811" stop-color="#0002ff"/><stop offset="0.9685" stop-color="#0000ae"/><stop offset="1" stop-color="#0000a3"/></linearGradient><linearGradient id="t101" x1="0" y1="0" x2="0" y2="1"><stop offset="0" stop-color="#ffa700"/><stop offset="0.126" stop-color="#ffff00"/><stop offset="0.3228" stop-color="#83ff7c"/><stop offset="0.4724" stop-color="#00ffff"/><stop offset="0.7402" stop-color="#0032ff"/><stop offset="0.811" stop-color="#0002ff"/><stop offset="0.9685" stop-color="#0000ae"/><stop offset="1" stop-color="#0000a3"/></linearGradient><linearGradient id="t102" x1="0" y1="0" x2="0" y2="1"><stop offset="0" stop-color="#ffa800"/><stop offset="0.126" stop-color="#feff01"/><stop offset="0.3228" stop-color="#83ff7c"/><stop offset="0.4724" stop-color="#00feff"/><stop offset="0.7402" stop-color="#0032ff"/><stop offset="0.811" stop-color="#0002ff"/><stop offset="0.9685" stop-color="#0000ae"/><stop offset="1" stop-color="#0000a3"/></linearGradient><linearGradient id="t103" x1="0" y1="0" x2="0" y2="1"><stop offset="0" stop-color="#ffa900"/><stop offset="0.126" stop-color="#feff01"/><stop offset="0.3228" stop-color="#82ff7d"/><stop offset="0.4724" stop-color="#00feff"/><stop offset="0.7402" stop-color="#0032ff"/><stop offset="0.811" stop-color="#0002ff"/><stop offset="0.9685" stop-color="#0000ae"/><stop offset="1" stop-color="#0000a3"/></linearGradient><linearGradient id="t104" x1="0" y1="0" x2="0" y2="1"><stop offset="0" stop-color="#ffa900"/><stop offset="0.126" stop-color="#fdff02"/><stop offset="0.3228" stop-color="#82ff7d"/><stop offset="0.4724" stop-color="#00fdff"/><stop offset="0.7402" stop-color="#0032ff"/><stop offset="0.811" stop-color="#0002ff"/><stop offset="0.9685" stop-color="#0000ae"/><stop offset="1" stop-color="#0000a3"/></linearGradient><linearGradient id="t105" x1="0" y1="0" x2="0" y2="1"><stop offset="0" stop-color="#ffaa00"/><stop offset="0.126" stop-color="#fdff02"/><stop offset="0.3228" stop-color="#81ff7e"/><stop offset="0.4724" stop-color="#00fdff"/><stop offset="0.7402" stop-color="#0032ff"/><stop offset="0.811" stop-color="#0001ff"/><stop offset="0.9685" stop-color="#0000ae"/><stop offset="1" stop-color="#0000a3"/></linearGradient><linearGradient id="t106" x1="0" y1="0" x2="0" y2="1"><stop offset="0" stop-color="#ffab00"/><stop offset="0.126" stop-color="#fcff03"/><stop offset="0.3228" stop-color="#81ff7e"/><stop offset="0.4724" stop-color="#00fdff"/><stop offset="0.7402" stop-color="#0031ff"/><stop offset="0.811" stop-color="#0001ff"/><stop offset="0.9685" stop-color="#0000ae"/><stop offset="1" stop-color="#0000a2"/></linearGradient><linearGradient id="t107" x1="0" y1="0" x2="0" y2="1"><stop offset="0" stop-color="#ffab00"/><stop offset="0.1102" stop-color="#fff800"/><stop offset="0.126" stop-color="#fcff03"/><stop offset="0.315" stop-color="#86ff79"/><stop offset="0.3622" stop-color="#60ff9f"/><stop offset="0.4567" stop-color="#0afff5"/><stop offset="0.4724" stop-color="#00fcff"/><stop offset="0.7402" stop-color="#0031ff"/><stop offset="0.811" stop-color="#0001ff"/><stop offset="0.9685" stop-color="#0000ae"/><stop offset="1" stop-color="#0000a2"/></linearGradient><linearGradient id="t108" x1="0" y1="0" x2="0" y2="1"><stop offset="0" stop-color="#ffac00"/><stop offset="0.1102" stop-color="#fff800"/><stop offset="0.126" stop-color="#fbff04"/><stop offset="0.315" stop-color="#86ff79"/><stop offset="0.3622" stop-color="#60ff9f"/><stop offset="0.4567" stop-color="#0afff5"/><stop offset="0.4724" stop-color="#00fcff"/><stop offset="0.7402" stop-color="#0031ff"/><stop offset="0.811" stop-color="#0001ff"/><stop offset="0.9685" stop-color="#0000ae"/><stop offset="1" stop-color="#0000a2"/></linearGradient><linearGradient id="t109" x1="0" y1="0" x2="0" y2="1"><stop offset="0" stop-color="#ffac00"/><stop offset="0.1181" stop-color="#fffe00"/><stop offset="0.126" stop-color="#fbff04"/><stop offset="0.315" stop-color="#85ff7a"/><stop offset="0.3622" stop-color="#5fffa0"/><stop offset="0.4567" stop-color="#09fff6"/><stop offset="0.4724" stop-color="#00fbff"/><stop offset="0.7402" stop-color="#0031ff"/><stop offset="0.811" stop-color="#0001ff"/><stop offset="0.9685" stop-color="#0000ad"/><stop offset="1" stop-color="#0000a2"/></linearGradient><linearGradient id="t110" x1="0" y1="0" x2="0" y2="1"><stop offset="0" stop-color="#ffad00"/><stop offset="0.1181" stop-color="#ffff00"/><stop offset="0.315" stop-color="#85ff7a"/><stop offset="0.3622" stop-color="#5fffa0"/><stop offset="0.4567" stop-color="#09fff6"/><stop offset="0.4724" stop-color="#00fbff"/><stop offset="0.7402" stop-color="#0031ff"/><stop offset="0.811" stop-color="#0001ff"/><stop offset="0.9685" stop-color="#0000ad"/><stop offset="1" stop-color="#0000a2"/></linearGradient><linearGradient id="t111" x1="0" y1="0" x2="0" y2="1"><stop offset="0" stop-color="#ffae00"/><stop offset="0.1181" stop-color="#ffff00"/><stop offset="0.315" stop-color="#85ff7a"/><stop offset="0.3622" stop-color="#5fffa0"/><stop offset="0.4567" stop-color="#09fff6"/><stop offset="0.4724" stop-color="#00fbff"/><stop offset="0.7402" stop-color="#0030ff"/><stop offset="0.811" stop-color="#0001ff"/><stop offset="0.9685" stop-color="#0000ad"/><stop offset="1" stop-color="#0000a2"/></linearGradient><linearGradient id="t112" x1="0" y1="0" x2="0" y2="1"><stop offset="0" stop-color="#ffae00"/><stop offset="0.1181" stop-color="#ffff00"/><stop offset="0.315" stop-color="#84ff7b"/><stop offset="0.3622" stop-color="#5effa1"/><stop offset="0.4567" stop-color="#08fff7"/><stop offset="0.4724" stop-color="#00faff"/><stop offset="0.7402" stop-color="#0030ff"/><stop offset="0.811" stop-color="#0001ff"/><stop offset="0.9685" stop-color="#0000ad"/><stop offset="1" stop-color="#0000a2"/></linearGradient><linearGradient id="b0" x1="0" y1="0" x2="1" y2="0"><stop offset="0" stop-color="#a30000"/><stop offset="0.1205" stop-color="#a40000"/><stop offset="0.1453" stop-color="#ff0100"/><stop offset="0.1702" stop-color="#ff5700"/><stop offset="0.1874" stop-color="#ff8900"/><stop offset="0.2141" stop-color="#ffc400"/><stop offset="0.2467" stop-color="#fcff03"/><stop offset="0.2696" stop-color="#d7ff28"/><stop offset="0.3824" stop-color="#37ffc8"/><stop offset="0.4264" stop-color="#00fdff"/><stop offset="0.4933" stop-color="#00b4ff"/><stop offset="0.6061" stop-color="#0046ff"/><stop offset="0.652" stop-color="#001eff"/><stop offset="0.696" stop-color="#0001ff"/><stop offset="0.7839" stop-color="#0000d2"/><stop offset="0.8547" stop-color="#0000b7"/><stop offset="0.9293" stop-color="#0000a5"/><stop offset="1" stop-color="#00009e"/></linearGradient><linearGradient id="b1" x1="0" y1="0" x2="1" y2="0"><stop offset="0" stop-color="#a30000"/><stop offset="0.1185" stop-color="#a30000"/><stop offset="0.1434" stop-color="#ff0000"/><stop offset="0.1702" stop-color="#ff5d00"/><stop offset="0.1874" stop-color="#ff8e00"/><stop offset="0.2141" stop-color="#ffc800"/><stop offset="0.2428" stop-color="#ffff00"/><stop offset="0.2447" stop-color="#fcff03"/><stop offset="0.2677" stop-color="#d6ff29"/><stop offset="0.3786" stop-color="#38ffc7"/><stop offset="0.4226" stop-color="#00feff"/><stop offset="0.4895" stop-color="#00b4ff"/><stop offset="0.6023" stop-color="#0045ff"/><stop offset="0.6482" stop-color="#001dff"/><stop offset="0.6922" stop-color="#0000ff"/><stop offset="0.7782" stop-color="#0000d2"/><stop offset="0.8509" stop-color="#0000b6"/><stop offset="0.9293" stop-color="#0000a4"/><stop offset="1" stop-color="#00009e"/></linearGradient><linearGradient id="b2" x1="0" y1="0" x2="1" y2="0"><stop offset="0" stop-color="#a30000"/><stop offset="0.1166" stop-color="#a30000"/><stop offset="0.1185" stop-color="#a70000"/><stop offset="0.1415" stop-color="#fd0000"/><stop offset="0.1683" stop-color="#ff5c00"/><stop offset="0.1836" stop-color="#ff8900"/><stop offset="0.2046" stop-color="#ffb900"/><stop offset="0.2409" stop-color="#ffff00"/><stop offset="0.2811" stop-color="#c0ff3f"/><stop offset="0.3843" stop-color="#2cffd3"/><stop offset="0.4187" stop-color="#00feff"/><stop offset="0.4837" stop-color="#00b6ff"/><stop offset="0.5985" stop-color="#0044ff"/><stop offset="0.6444" stop-color="#001cff"/><stop offset="0.6864" stop-color="#0000ff"/><stop offset="0.7744" stop-color="#0000d2"/><stop offset="0.8489" stop-color="#0000b5"/><stop offset="0.9293" stop-color="#0000a3"/><stop offset="1" stop-color="#00009e"/></linearGradient><linearGradient id="b3" x1="0" y1="0" x2="1" y2="0"><stop offset="0" stop-color="#a30000"/><stop offset="0.1147" stop-color="#a30000"/><stop offset="0.1166" stop-color="#a50000"/><stop offset="0.1396" stop-color="#fc0000"/><stop offset="0.1415" stop-color="#ff0300"/><stop offset="0.1683" stop-color="#ff6100"/><stop offset="0.1836" stop-color="#ff8d00"/><stop offset="0.2046" stop-color="#ffbd00"/><stop offset="0.239" stop-color="#ffff00"/><stop offset="0.2772" stop-color="#c2ff3d"/><stop offset="0.3805" stop-color="#2dffd2"/><stop offset="0.4149" stop-color="#00ffff"/><stop offset="0.4799" stop-color="#00b6ff"/><stop offset="0.5927" stop-color="#0045ff"/><stop offset="0.6386" stop-color="#001dff"/><stop offset="0.6807" stop-color="#0001ff"/><stop offset="0.7706" stop-color="#0000d1"/><stop offset="0.8451" stop-color="#0000b4"/><stop offset="0.9273" stop-color="#0000a2"/><stop offset="1" stop-color="#00009e"/></linearGradient><linearGradient id="b4" x1="0" y1="0" x2="1" y2="0"><stop offset="0" stop-color="#a30000"/><stop offset="0.1147" stop-color="#a30000"/><stop offset="0.1396" stop-color="#ff0200"/><stop offset="0.1644" stop-color="#ff5a00"/><stop offset="0.1797" stop-color="#ff8800"/><stop offset="0.2027" stop-color="#ffbd00"/><stop offset="0.2371" stop-color="#feff01"/><stop offset="0.2734" stop-color="#c4ff3b"/><stop offset="0.3767" stop-color="#2effd1"/><stop offset="0.4111" stop-color="#00ffff"/><stop offset="0.478" stop-color="#00b3ff"/><stop offset="0.5889" stop-color="#0044ff"/><stop offset="0.6348" stop-color="#001cff"/><stop offset="0.6769" stop-color="#0000ff"/><stop offset="0.7667" stop-color="#0000d0"/><stop offset="0.8432" stop-color="#0000b3"/><stop offset="0.9254" stop-color="#0000a1"/><stop offset="1" stop-color="#00009e"/></linearGradient><linearGradient id="b5" x1="0" y1="0" x2="1" y2="0"><stop offset="0" stop-color="#a30000"/><stop offset="0.1128" stop-color="#a30000"/><stop offset="0.1377" stop-color="#ff0100"/><stop offset="0.1625" stop-color="#ff5a00"/><stop offset="0.1797" stop-color="#ff8c00"/><stop offset="0.2027" stop-color="#ffc100"/><stop offset="0.2352" stop-color="#feff01"/><stop offset="0.2581" stop-color="#d7ff28"/><stop offset="0.3671" stop-color="#37ffc8"/><stop offset="0.4092" stop-color="#00fdff"/><stop offset="0.4742" stop-color="#00b3ff"/><stop offset="0.5851" stop-color="#0044ff"/><stop offset="0.6291" stop-color="#001dff"/><stop offset="0.6711" stop-color="#0000ff"/><stop offset="0.761" stop-color="#0000d0"/><stop offset="0.8394" stop-color="#0000b2"/><stop offset="0.9235" stop-color="#0000a1"/><stop offset="1" stop-color="#00009e"/></linearGradient><linearGradient id="b6" x1="0" y1="0" x2="1" y2="0"><stop offset="0" stop-color="#a30000"/><stop offset="0.1109" stop-color="#a30000"/><stop offset="0.1128" stop-color="#a60000"/><stop offset="0.1358" stop-color="#fe0000"/><stop offset="0.1606" stop-color="#ff5900"/><stop offset="0.1778" stop-color="#ff8c00"/><stop offset="0.2008" stop-color="#ffc100"/><stop offset="0.2333" stop-color="#fdff02"/><stop offset="0.2562" stop-color="#d7ff28"/><stop offset="0.3633" stop-color="#38ffc7"/><stop offset="0.4054" stop-color="#00feff"/><stop offset="0.4685" stop-color="#00b5ff"/><stop offset="0.5793" stop-color="#0045ff"/><stop offset="0.6233" stop-color="#001eff"/><stop offset="0.6654" stop-color="#0001ff"/><stop offset="0.7591" stop-color="#0000ce"/><stop offset="0.8375" stop-color="#0000b1"/><stop offset="0.9216" stop-color="#0000a0"/><stop offset="1" stop-color="#00009e"/></linearGradient><linearGradient id="b7" x1="0" y1="0" x2="1" y2="0"><stop offset="0" stop-color="#a30000"/><stop offset="0.1109" stop-color="#a40000"/><stop offset="0.1338" stop-color="#fd0000"/><stop offset="0.1606" stop-color="#ff5e00"/><stop offset="0.1759" stop-color="#ff8c00"/><stop offset="0.1989" stop-color="#ffc100"/><stop offset="0.2314" stop-color="#fdff02"/><stop offset="0.2543" stop-color="#d6ff29"/><stop offset="0.3595" stop-color="#39ffc6"/><stop offset="0.4015" stop-color="#00feff"/><stop offset="0.4646" stop-color="#00b5ff"/><stop offset="0.5755" stop-color="#0044ff"/><stop offset="0.6214" stop-color="#001bff"/><stop offset="0.6616" stop-color="#0000ff"/><stop offset="0.7533" stop-color="#0000ce"/><stop offset="0.8337" stop-color="#0000b0"/><stop offset="0.9197" stop-color="#00009f"/><stop offset="1" stop-color="#00009e"/></linearGradient><linearGradient id="b8" x1="0" y1="0" x2="1" y2="0"><stop offset="0" stop-color="#a30000"/><stop offset="0.109" stop-color="#a30000"/><stop offset="0.1319" stop-color="#fb0000"/><stop offset="0.1338" stop-color="#ff0300"/><stop offset="0.1587" stop-color="#ff5e00"/><stop offset="0.174" stop-color="#ff8b00"/><stop offset="0.1989" stop-color="#ffc500"/><stop offset="0.2294" stop-color="#fdff02"/><stop offset="0.2524" stop-color="#d5ff2a"/><stop offset="0.3556" stop-color="#3affc5"/><stop offset="0.3977" stop-color="#00ffff"/><stop offset="0.4608" stop-color="#00b5ff"/><stop offset="0.5698" stop-color="#0045ff"/><stop offset="0.6138" stop-color="#001dff"/><stop offset="0.6558" stop-color="#0000ff"/><stop offset="0.7495" stop-color="#0000cd"/><stop offset="0.8298" stop-color="#0000b0"/><stop offset="0.9159" stop-color="#00009f"/><stop offset="1" stop-color="#00009e"/></linearGradient><linearGradient id="b9" x1="0" y1="0" x2="1" y2="0"><stop offset="0" stop-color="#a30000"/><stop offset="0.1071" stop-color="#a30000"/><stop offset="0.109" stop-color="#a70000"/><stop offset="0.1319" stop-color="#ff0200"/><stop offset="0.1568" stop-color="#ff5d00"/><stop offset="0.1721" stop-color="#ff8b00"/><stop offset="0.1969" stop-color="#ffc500"/><stop offset="0.2275" stop-color="#fcff03"/><stop offset="0.2524" stop-color="#d2ff2d"/><stop offset="0.3556" stop-color="#35ffca"/><stop offset="0.3958" stop-color="#00fdff"/><stop offset="0.457" stop-color="#00b5ff"/><stop offset="0.566" stop-color="#0044ff"/><stop offset="0.6099" stop-color="#001cff"/><stop offset="0.6501" stop-color="#0000ff"/><stop offset="0.7457" stop-color="#0000cc"/><stop offset="0.826" stop-color="#0000af"/><stop offset="0.914" stop-color="#00009f"/><stop offset="1" stop-color="#00009e"/></linearGradient><linearGradient id="b10" x1="0" y1="0" x2="1" y2="0"><stop offset="0" stop-color="#a30000"/><stop offset="0.1052" stop-color="#a30000"/><stop offset="0.1071" stop-color="#a50000"/><stop offset="0.13" stop-color="#ff0100"/><stop offset="0.1549" stop-color="#ff5c00"/><stop offset="0.1702" stop-color="#ff8b00"/><stop offset="0.195" stop-color="#ffc500"/><stop offset="0.2237" stop-color="#fffe00"/><stop offset="0.2256" stop-color="#fcff03"/><stop offset="0.2486" stop-color="#d4ff2b"/><stop offset="0.3518" stop-color="#37ffc8"/><stop offset="0.392" stop-color="#00feff"/><stop offset="0.4532" stop-color="#00b5ff"/><stop offset="0.5602" stop-color="#0045ff"/><stop offset="0.6042" stop-color="#001dff"/><stop offset="0.6444" stop-color="#0001ff"/><stop offset="0.74" stop-color="#0000cc"/><stop offset="0.8222" stop-color="#0000ae"/><stop offset="0.9101" stop-color="#00009e"/><stop offset="1" stop-color="#00009e"/></linearGradient><linearGradient id="b11" x1="0" y1="0" x2="1" y2="0"><stop offset="0" stop-color="#a30000"/><stop offset="0.1052" stop-color="#a30000"/><stop offset="0.1281" stop-color="#fe0000"/><stop offset="0.153" stop-color="#ff5b00"/><stop offset="0.1683" stop-color="#ff8a00"/><stop offset="0.195" stop-color="#ffc900"/><stop offset="0.2218" stop-color="#ffff00"/><stop offset="0.2237" stop-color="#fbff04"/><stop offset="0.2467" stop-color="#d4ff2b"/><stop offset="0.348" stop-color="#38ffc7"/><stop offset="0.3881" stop-color="#00feff"/><stop offset="0.4493" stop-color="#00b5ff"/><stop offset="0.5564" stop-color="#0045ff"/><stop offset="0.6004" stop-color="#001cff"/><stop offset="0.6405" stop-color="#0000ff"/><stop offset="0.7342" stop-color="#0000cc"/><stop offset="0.8184" stop-color="#0000ad"/><stop offset="0.9044" stop-color="#00009e"/><stop offset="1" stop-color="#00009e"/></linearGradient><linearGradient id="b12" x1="0" y1="0" x2="1" y2="0"><stop offset="0" stop-color="#a30000"/><stop offset="0.1033" stop-color="#a30000"/><stop offset="0.1262" stop-color="#fd0000"/><stop offset="0.1511" stop-color="#ff5b00"/><stop offset="0.1663" stop-color="#ff8a00"/><stop offset="0.1874" stop-color="#ffbd00"/><stop offset="0.2199" stop-color="#ffff00"/><stop offset="0.2428" stop-color="#d6ff29"/><stop offset="0.3423" stop-color="#3cffc3"/><stop offset="0.3843" stop-color="#00ffff"/><stop offset="0.4455" stop-color="#00b5ff"/><stop offset="0.5526" stop-color="#0044ff"/><stop offset="0.5946" stop-color="#001dff"/><stop offset="0.6348" stop-color="#0000ff"/><stop offset="0.7304" stop-color="#0000cb"/><stop offset="0.8145" stop-color="#0000ad"/><stop offset="0.8987" stop-color="#00009e"/><stop offset="1" stop-color="#00009e"/></linearGradient><linearGradient id="b13" x1="0" y1="0" x2="1" y2="0"><stop offset="0" stop-color="#a30000"/><stop offset="0.1013" stop-color="#a30000"/><stop offset="0.1033" stop-color="#a60000"/><stop offset="0.1243" stop-color="#fb0000"/><stop offset="0.1262" stop-color="#ff0300"/><stop offset="0.1511" stop-color="#ff6100"/><stop offset="0.1644" stop-color="#ff8a00"/><stop offset="0.1855" stop-color="#ffbd00"/><stop offset="0.218" stop-color="#feff01"/><stop offset="0.2543" stop-color="#c0ff3f"/><stop offset="0.348" stop-color="#2effd1"/><stop offset="0.3805" stop-color="#00ffff"/><stop offset="0.4417" stop-color="#00b5ff"/><stop offset="0.5468" stop-color="#0045ff"/><stop offset="0.5889" stop-color="#001eff"/><stop offset="0.6291" stop-color="#0001ff"/><stop offset="0.7266" stop-color="#0000ca"/><stop offset="0.8107" stop-color="#0000ac"/><stop offset="0.891" stop-color="#00009e"/><stop offset="1" stop-color="#00009e"/></linearGradient><linearGradient id="b14" x1="0" y1="0" x2="1" y2="0"><stop offset="0" stop-color="#a30000"/><stop offset="0.1013" stop-color="#a40000"/><stop offset="0.1243" stop-color="#ff0200"/><stop offset="0.1472" stop-color="#ff5900"/><stop offset="0.1625" stop-color="#ff8900"/><stop offset="0.1836" stop-color="#ffbd00"/><stop offset="0.2161" stop-color="#feff01"/><stop offset="0.2409" stop-color="#d2ff2d"/><stop offset="0.3403" stop-color="#35ffca"/><stop offset="0.3786" stop-color="#00fdff"/><stop offset="0.4379" stop-color="#00b5ff"/><stop offset="0.543" stop-color="#0044ff"/><stop offset="0.587" stop-color="#001bff"/><stop offset="0.6252" stop-color="#0000ff"/><stop offset="0.7208" stop-color="#0000ca"/><stop offset="0.8069" stop-color="#0000ab"/><stop offset="0.8853" stop-color="#00009e"/><stop offset="1" stop-color="#00009e"/></linearGradient><linearGradient id="b15" x1="0" y1="0" x2="1" y2="0"><stop offset="0" stop-color="#a30000"/><stop offset="0.09943" stop-color="#a30000"/><stop offset="0.1224" stop-color="#ff0100"/><stop offset="0.1453" stop-color="#ff5800"/><stop offset="0.1606" stop-color="#ff8900"/><stop offset="0.1836" stop-color="#ffc100"/><stop offset="0.2141" stop-color="#fdff02"/><stop offset="0.239" stop-color="#d1ff2e"/><stop offset="0.3365" stop-color="#36ffc9"/><stop offset="0.3748" stop-color="#00feff"/><stop offset="0.434" stop-color="#00b5ff"/><stop offset="0.5373" stop-color="#0045ff"/><stop offset="0.5793" stop-color="#001dff"/><stop offset="0.6195" stop-color="#0000ff"/><stop offset="0.7151" stop-color="#0000ca"/><stop offset="0.8011" stop-color="#0000ab"/><stop offset="0.8776" stop-color="#00009e"/><stop offset="1" stop-color="#00009e"/></linearGradient><linearGradient id="b16" x1="0" y1="0" x2="1" y2="0"><stop offset="0" stop-color="#a30000"/><stop offset="0.09751" stop-color="#a30000"/><stop offset="0.1205" stop-color="#fe0000"/><stop offset="0.1434" stop-color="#ff5800"/><stop offset="0.1587" stop-color="#ff8900"/><stop offset="0.1816" stop-color="#ffc100"/><stop offset="0.2122" stop-color="#fdff02"/><stop offset="0.2352" stop-color="#d4ff2b"/><stop offset="0.3327" stop-color="#37ffc8"/><stop offset="0.3709" stop-color="#00feff"/><stop offset="0.4302" stop-color="#00b5ff"/><stop offset="0.5335" stop-color="#0045ff"/><stop offset="0.5755" stop-color="#001dff"/><stop offset="0.6138" stop-color="#0000ff"/><stop offset="0.7113" stop-color="#0000c9"/><stop offset="0.7973" stop-color="#0000ab"/><stop offset="0.87" stop-color="#00009e"/><stop offset="1" stop-color="#00009e"/></linearGradient><linearGradient id="b17" x1="0" y1="0" x2="1" y2="0"><stop offset="0" stop-color="#a30000"/><stop offset="0.0956" stop-color="#a30000"/><stop offset="0.09751" stop-color="#a60000"/><stop offset="0.1185" stop-color="#fd0000"/><stop offset="0.1434" stop-color="#ff5e00"/><stop offset="0.1587" stop-color="#ff8e00"/><stop offset="0.1816" stop-color="#ffc500"/><stop offset="0.2103" stop-color="#fcff03"/><stop offset="0.2333" stop-color="#d3ff2c"/><stop offset="0.3289" stop-color="#38ffc7"/><stop offset="0.3671" stop-color="#00ffff"/><stop offset="0.4264" stop-color="#00b5ff"/><stop offset="0.5296" stop-color="#0044ff"/><stop offset="0.5717" stop-color="#001cff"/><stop offset="0.6099" stop-color="#0000ff"/><stop offset="0.7075" stop-color="#0000c8"/><stop offset="0.7935" stop-color="#0000aa"/><stop offset="0.8642" stop-color="#00009e"/><stop offset="1" stop-color="#00009e"/></linearGradient><linearGradient id="b18" x1="0" y1="0" x2="1" y2="0"><stop offset="0" stop-color="#a30000"/><stop offset="0.0956" stop-color="#a40000"/><stop offset="0.1166" stop-color="#fb0000"/><stop offset="0.1185" stop-color="#ff0400"/><stop offset="0.1434" stop-color="#ff6400"/><stop offset="0.1568" stop-color="#ff8d00"/><stop offset="0.1797" stop-color="#ffc500"/><stop offset="0.2084" stop-color="#fcff03"/><stop offset="0.2314" stop-color="#d2ff2d"/><stop offset="0.325" stop-color="#3affc5"/><stop offset="0.3633" stop-color="#00ffff"/><stop offset="0.4226" stop-color="#00b5ff"/><stop offset="0.5239" stop-color="#0045ff"/><stop offset="0.566" stop-color="#001cff"/><stop offset="0.6042" stop-color="#0000ff"/><stop offset="0.7017" stop-color="#0000c8"/><stop offset="0.7897" stop-color="#0000a9"/><stop offset="0.8566" stop-color="#00009e"/><stop offset="1" stop-color="#00009e"/></linearGradient><linearGradient id="b19" x1="0" y1="0" x2="1" y2="0"><stop offset="0" stop-color="#a30000"/><stop offset="0.09369" stop-color="#a30000"/><stop offset="0.1166" stop-color="#ff0200"/><stop offset="0.1396" stop-color="#ff5c00"/><stop offset="0.1549" stop-color="#ff8d00"/><stop offset="0.1797" stop-color="#ffca00"/><stop offset="0.2046" stop-color="#ffff00"/><stop offset="0.2065" stop-color="#fbff04"/><stop offset="0.2294" stop-color="#d2ff2d"/><stop offset="0.325" stop-color="#34ffcb"/><stop offset="0.3614" stop-color="#00fdff"/><stop offset="0.4187" stop-color="#00b5ff"/><stop offset="0.5201" stop-color="#0044ff"/><stop offset="0.5602" stop-color="#001dff"/><stop offset="0.5985" stop-color="#0000ff"/><stop offset="0.6979" stop-color="#0000c7"/><stop offset="0.7839" stop-color="#0000a9"/><stop offset="0.8509" stop-color="#00009e"/><stop offset="1" stop-color="#00009e"/></linearGradient><linearGradient id="b20" x1="0" y1="0" x2="1" y2="0"><stop offset="0" stop-color="#a30000"/><stop offset="0.09178" stop-color="#a30000"/><stop offset="0.09369" stop-color="#a70000"/><stop offset="0.1147" stop-color="#ff0100"/><stop offset="0.1358" stop-color="#ff5400"/><stop offset="0.1511" stop-color="#ff8700"/><stop offset="0.1702" stop-color="#ffb900"/><stop offset="0.2027" stop-color="#ffff00"/><stop offset="0.2256" stop-color="#d4ff2b"/><stop offset="0.3193" stop-color="#39ffc6"/><stop offset="0.3576" stop-color="#00feff"/><stop offset="0.4149" stop-color="#00b5ff"/><stop offset="0.5143" stop-color="#0045ff"/><stop offset="0.5545" stop-color="#001eff"/><stop offset="0.5927" stop-color="#0001ff"/><stop offset="0.6922" stop-color="#0000c7"/><stop offset="0.7801" stop-color="#0000a8"/><stop offset="0.8432" stop-color="#00009e"/><stop offset="1" stop-color="#00009e"/></linearGradient><linearGradient id="b21" x1="0" y1="0" x2="1" y2="0"><stop offset="0" stop-color="#a30000"/><stop offset="0.08987" stop-color="#a30000"/><stop offset="0.09178" stop-color="#a50000"/><stop offset="0.1128" stop-color="#fe0000"/><stop offset="0.1358" stop-color="#ff5b00"/><stop offset="0.1491" stop-color="#ff8700"/><stop offset="0.1702" stop-color="#ffbd00"/><stop offset="0.2008" stop-color="#feff01"/><stop offset="0.2237" stop-color="#d4ff2b"/><stop offset="0.3155" stop-color="#3affc5"/><stop offset="0.3537" stop-color="#00feff"/><stop offset="0.4111" stop-color="#00b5ff"/><stop offset="0.5105" stop-color="#0045ff"/><stop offset="0.5507" stop-color="#001dff"/><stop offset="0.5889" stop-color="#0000ff"/><stop offset="0.6864" stop-color="#0000c7"/><stop offset="0.7744" stop-color="#0000a8"/><stop offset="0.8356" stop-color="#00009e"/><stop offset="1" stop-color="#00009e"/></linearGradient><linearGradient id="b22" x1="0" y1="0" x2="1" y2="0"><stop offset="0" stop-color="#a30000"/><stop offset="0.08987" stop-color="#a30000"/><stop offset="0.1109" stop-color="#fd0000"/><stop offset="0.1358" stop-color="#ff6100"/><stop offset="0.1491" stop-color="#ff8c00"/><stop offset="0.1702" stop-color="#ffc200"/><stop offset="0.1989" stop-color="#feff01"/><stop offset="0.2218" stop-color="#d3ff2c"/><stop offset="0.3117" stop-color="#3bffc4"/><stop offset="0.3499" stop-color="#00ffff"/><stop offset="0.4054" stop-color="#00b7ff"/><stop offset="0.5048" stop-color="#0046ff"/><stop offset="0.5449" stop-color="#001eff"/><stop offset="0.5832" stop-color="#0000ff"/><stop offset="0.6826" stop-color="#0000c6"/><stop offset="0.7706" stop-color="#0000a8"/><stop offset="0.8298" stop-color="#00009e"/><stop offset="1" stop-color="#00009e"/></linearGradient><linearGradient id="b23" x1="0" y1="0" x2="1" y2="0"><stop offset="0" stop-color="#a30000"/><stop offset="0.08795" stop-color="#a30000"/><stop offset="0.109" stop-color="#fc0000"/><stop offset="0.1109" stop-color="#ff0400"/><stop offset="0.1338" stop-color="#ff6000"/><stop offset="0.1472" stop-color="#ff8c00"/><stop offset="0.1683" stop-color="#ffc200"/><stop offset="0.1969" stop-color="#fdff02"/><stop offset="0.2199" stop-color="#d2ff2d"/><stop offset="0.3117" stop-color="#36ffc9"/><stop offset="0.348" stop-color="#00fdff"/><stop offset="0.4034" stop-color="#00b5ff"/><stop offset="0.501" stop-color="#0045ff"/><stop offset="0.5411" stop-color="#001dff"/><stop offset="0.5774" stop-color="#0001ff"/><stop offset="0.6788" stop-color="#0000c5"/><stop offset="0.7667" stop-color="#0000a7"/><stop offset="0.8222" stop-color="#00009e"/><stop offset="1" stop-color="#00009e"/></linearGradient><linearGradient id="b24" x1="0" y1="0" x2="1" y2="0"><stop offset="0" stop-color="#a30000"/><stop offset="0.08604" stop-color="#a30000"/><stop offset="0.08795" stop-color="#a70000"/><stop offset="0.1071" stop-color="#fa0000"/><stop offset="0.109" stop-color="#ff0300"/><stop offset="0.13" stop-color="#ff5800"/><stop offset="0.1453" stop-color="#ff8c00"/><stop offset="0.1663" stop-color="#ffc200"/><stop offset="0.195" stop-color="#fdff02"/><stop offset="0.218" stop-color="#d1ff2e"/><stop offset="0.3098" stop-color="#34ffcb"/><stop offset="0.3442" stop-color="#00fdff"/><stop offset="0.3996" stop-color="#00b5ff"/><stop offset="0.4971" stop-color="#0044ff"/><stop offset="0.5373" stop-color="#001cff"/><stop offset="0.5736" stop-color="#0000ff"/><stop offset="0.6711" stop-color="#0000c6"/><stop offset="0.761" stop-color="#0000a7"/><stop offset="0.8145" stop-color="#00009e"/><stop offset="1" stop-color="#00009e"/></linearGradient><linearGradient id="b25" x1="0" y1="0" x2="1" y2="0"><stop offset="0" stop-color="#a30000"/><stop offset="0.08604" stop-color="#a50000"/><stop offset="0.1071" stop-color="#ff0100"/><stop offset="0.1281" stop-color="#ff5700"/><stop offset="0.1434" stop-color="#ff8b00"/><stop offset="0.1663" stop-color="#ffc600"/><stop offset="0.1931" stop-color="#fcff03"/><stop offset="0.3059" stop-color="#35ffca"/><stop offset="0.3403" stop-color="#00feff"/><stop offset="0.3939" stop-color="#00b7ff"/><stop offset="0.4914" stop-color="#0045ff"/><stop offset="0.5315" stop-color="#001cff"/><stop offset="0.5679" stop-color="#0000ff"/><stop offset="0.6654" stop-color="#0000c6"/><stop offset="0.7553" stop-color="#0000a6"/><stop offset="0.8088" stop-color="#00009e"/><stop offset="1" stop-color="#00009e"/></linearGradient><linearGradient id="b26" x1="0" y1="0" x2="1" y2="0"><stop offset="0" stop-color="#a30000"/><stop offset="0.08413" stop-color="#a30000"/><stop offset="0.1052" stop-color="#ff0000"/><stop offset="0.1262" stop-color="#ff5700"/><stop offset="0.1415" stop-color="#ff8b00"/><stop offset="0.1644" stop-color="#ffc700"/><stop offset="0.1893" stop-color="#fffe00"/><stop offset="0.1912" stop-color="#fcff03"/><stop offset="0.3021" stop-color="#36ffc9"/><stop offset="0.3365" stop-color="#00feff"/><stop offset="0.3901" stop-color="#00b7ff"/><stop offset="0.4876" stop-color="#0045ff"/><stop offset="0.5258" stop-color="#001dff"/><stop offset="0.5621" stop-color="#0000ff"/><stop offset="0.6616" stop-color="#0000c5"/><stop offset="0.7514" stop-color="#0000a6"/><stop offset="0.8011" stop-color="#00009e"/><stop offset="1" stop-color="#00009e"/></linearGradient><linearGradient id="b27" x1="0" y1="0" x2="1" y2="0"><stop offset="0" stop-color="#a30000"/><stop offset="0.08222" stop-color="#a30000"/><stop offset="0.1033" stop-color="#fd0000"/><stop offset="0.1262" stop-color="#ff5d00"/><stop offset="0.1396" stop-color="#ff8b00"/><stop offset="0.1625" stop-color="#ffc700"/><stop offset="0.1874" stop-color="#ffff00"/><stop offset="0.1893" stop-color="#fbff04"/><stop offset="0.2983" stop-color="#37ffc8"/><stop offset="0.3327" stop-color="#00ffff"/><stop offset="0.3862" stop-color="#00b7ff"/><stop offset="0.4837" stop-color="#0044ff"/><stop offset="0.5239" stop-color="#001bff"/><stop offset="0.5583" stop-color="#0000fe"/><stop offset="0.6558" stop-color="#0000c5"/><stop offset="0.7457" stop-color="#0000a6"/><stop offset="0.7954" stop-color="#00009e"/><stop offset="1" stop-color="#00009e"/></linearGradient><linearGradient id="b28" x1="0" y1="0" x2="1" y2="0"><stop offset="0" stop-color="#a30000"/><stop offset="0.08031" stop-color="#a30000"/><stop offset="0.08222" stop-color="#a60000"/><stop offset="0.1013" stop-color="#fc0000"/><stop offset="0.1243" stop-color="#ff5c00"/><stop offset="0.1377" stop-color="#ff8a00"/><stop offset="0.1568" stop-color="#ffbe00"/><stop offset="0.1855" stop-color="#ffff00"/><stop offset="0.2084" stop-color="#d2ff2d"/><stop offset="0.2964" stop-color="#35ffca"/><stop offset="0.3308" stop-color="#00fdff"/><stop offset="0.3843" stop-color="#00b4ff"/><stop offset="0.478" stop-color="#0045ff"/><stop offset="0.5163" stop-color="#001dff"/><stop offset="0.5526" stop-color="#0000ff"/><stop offset="0.6501" stop-color="#0000c5"/><stop offset="0.74" stop-color="#0000a5"/><stop offset="0.7878" stop-color="#00009e"/><stop offset="1" stop-color="#00009e"/></linearGradient><linearGradient id="b29" x1="0" y1="0" x2="1" y2="0"><stop offset="0" stop-color="#a30000"/><stop offset="0.08031" stop-color="#a40000"/><stop offset="0.09943" stop-color="#fa0000"/><stop offset="0.1013" stop-color="#ff0300"/><stop offset="0.1243" stop-color="#ff6300"/><stop offset="0.1358" stop-color="#ff8a00"/><stop offset="0.1549" stop-color="#ffbe00"/><stop offset="0.1836" stop-color="#feff01"/><stop offset="0.2065" stop-color="#d1ff2e"/><stop offset="0.2925" stop-color="#37ffc8"/><stop offset="0.327" stop-color="#00fdff"/><stop offset="0.3805" stop-color="#00b4ff"/><stop offset="0.4742" stop-color="#0044ff"/><stop offset="0.5124" stop-color="#001cff"/><stop offset="0.5468" stop-color="#0000ff"/><stop offset="0.6463" stop-color="#0000c4"/><stop offset="0.7361" stop-color="#0000a5"/><stop offset="0.7801" stop-color="#00009e"/><stop offset="1" stop-color="#00009e"/></linearGradient><linearGradient id="b30" x1="0" y1="0" x2="1" y2="0"><stop offset="0" stop-color="#a30000"/><stop offset="0.07839" stop-color="#a30000"/><stop offset="0.09943" stop-color="#ff0200"/><stop offset="0.1205" stop-color="#ff5b00"/><stop offset="0.1338" stop-color="#ff8a00"/><stop offset="0.153" stop-color="#ffbe00"/><stop offset="0.1816" stop-color="#feff01"/><stop offset="0.2887" stop-color="#38ffc7"/><stop offset="0.3231" stop-color="#00feff"/><stop offset="0.3748" stop-color="#00b7ff"/><stop offset="0.4685" stop-color="#0045ff"/><stop offset="0.5067" stop-color="#001dff"/><stop offset="0.5411" stop-color="#0001ff"/><stop offset="0.6405" stop-color="#0000c4"/><stop offset="0.7304" stop-color="#0000a5"/><stop offset="0.7744" stop-color="#00009e"/><stop offset="1" stop-color="#00009e"/></linearGradient><linearGradient id="b31" x1="0" y1="0" x2="1" y2="0"><stop offset="0" stop-color="#a30000"/><stop offset="0.07648" stop-color="#a30000"/><stop offset="0.07839" stop-color="#a80000"/><stop offset="0.09751" stop-color="#ff0000"/><stop offset="0.1185" stop-color="#ff5a00"/><stop offset="0.1319" stop-color="#ff8a00"/><stop offset="0.153" stop-color="#ffc300"/><stop offset="0.1797" stop-color="#fdff02"/><stop offset="0.2849" stop-color="#39ffc6"/><stop offset="0.3193" stop-color="#00ffff"/><stop offset="0.3709" stop-color="#00b7ff"/><stop offset="0.4646" stop-color="#0044ff"/><stop offset="0.5029" stop-color="#001cff"/><stop offset="0.5373" stop-color="#0000ff"/><stop offset="0.6348" stop-color="#0000c3"/><stop offset="0.6788" stop-color="#0000b1"/><stop offset="0.7247" stop-color="#0000a4"/><stop offset="0.7667" stop-color="#00009e"/><stop offset="1" stop-color="#00009e"/></linearGradient><linearGradient id="b32" x1="0" y1="0" x2="1" y2="0"><stop offset="0" stop-color="#a30000"/><stop offset="0.07457" stop-color="#a30000"/><stop offset="0.07648" stop-color="#a60000"/><stop offset="0.0956" stop-color="#fe0000"/><stop offset="0.1166" stop-color="#ff5900"/><stop offset="0.13" stop-color="#ff8900"/><stop offset="0.1511" stop-color="#ffc300"/><stop offset="0.1778" stop-color="#fcff03"/><stop offset="0.2811" stop-color="#3affc5"/><stop offset="0.3155" stop-color="#00ffff"/><stop offset="0.3671" stop-color="#00b7ff"/><stop offset="0.4589" stop-color="#0046ff"/><stop offset="0.4971" stop-color="#001dff"/><stop offset="0.5315" stop-color="#0000ff"/><stop offset="0.631" stop-color="#0000c2"/><stop offset="0.675" stop-color="#0000b0"/><stop offset="0.7208" stop-color="#0000a4"/><stop offset="0.7591" stop-color="#00009e"/><stop offset="1" stop-color="#00009e"/></linearGradient><linearGradient id="b33" x1="0" y1="0" x2="1" y2="0"><stop offset="0" stop-color="#a30000"/><stop offset="0.07457" stop-color="#a40000"/><stop offset="0.09369" stop-color="#fd0000"/><stop offset="0.1166" stop-color="#ff6000"/><stop offset="0.13" stop-color="#ff8f00"/><stop offset="0.1511" stop-color="#ffc800"/><stop offset="0.174" stop-color="#fffe00"/><stop offset="0.1759" stop-color="#fcff03"/><stop offset="0.2811" stop-color="#35ffca"/><stop offset="0.3136" stop-color="#00fdff"/><stop offset="0.3633" stop-color="#00b7ff"/><stop offset="0.4551" stop-color="#0045ff"/><stop offset="0.4914" stop-color="#001dff"/><stop offset="0.5258" stop-color="#0000ff"/><stop offset="0.6252" stop-color="#0000c2"/><stop offset="0.6692" stop-color="#0000b0"/><stop offset="0.7151" stop-color="#0000a4"/><stop offset="0.7533" stop-color="#00009e"/><stop offset="1" stop-color="#00009e"/></linearGradient><linearGradient id="b34" x1="0" y1="0" x2="1" y2="0"><stop offset="0" stop-color="#a30000"/><stop offset="0.07266" stop-color="#a30000"/><stop offset="0.09178" stop-color="#fb0000"/><stop offset="0.09369" stop-color="#ff0400"/><stop offset="0.1147" stop-color="#ff6000"/><stop offset="0.1281" stop-color="#ff8f00"/><stop offset="0.1511" stop-color="#ffcd00"/><stop offset="0.1721" stop-color="#fffe00"/><stop offset="0.174" stop-color="#fbff04"/><stop offset="0.2772" stop-color="#36ffc9"/><stop offset="0.3098" stop-color="#00fdff"/><stop offset="0.3595" stop-color="#00b7ff"/><stop offset="0.4512" stop-color="#0044ff"/><stop offset="0.4895" stop-color="#001bff"/><stop offset="0.522" stop-color="#0000ff"/><stop offset="0.6195" stop-color="#0000c2"/><stop offset="0.6635" stop-color="#0000b0"/><stop offset="0.7094" stop-color="#0000a3"/><stop offset="0.7457" stop-color="#00009e"/><stop offset="1" stop-color="#00009e"/></linearGradient><linearGradient id="b35" x1="0" y1="0" x2="1" y2="0"><stop offset="0" stop-color="#a30000"/><stop offset="0.07075" stop-color="#a30000"/><stop offset="0.07266" stop-color="#a80000"/><stop offset="0.08795" stop-color="#f10000"/><stop offset="0.09178" stop-color="#ff0300"/><stop offset="0.1109" stop-color="#ff5700"/><stop offset="0.1243" stop-color="#ff8900"/><stop offset="0.1415" stop-color="#ffba00"/><stop offset="0.1702" stop-color="#ffff00"/><stop offset="0.1931" stop-color="#cfff30"/><stop offset="0.2734" stop-color="#37ffc8"/><stop offset="0.3059" stop-color="#00feff"/><stop offset="0.3556" stop-color="#00b7ff"/><stop offset="0.4455" stop-color="#0045ff"/><stop offset="0.4818" stop-color="#001dff"/><stop offset="0.5163" stop-color="#0000ff"/><stop offset="0.6138" stop-color="#0000c2"/><stop offset="0.6577" stop-color="#0000b0"/><stop offset="0.7036" stop-color="#0000a3"/><stop offset="0.738" stop-color="#00009e"/><stop offset="1" stop-color="#00009e"/></linearGradient><linearGradient id="b36" x1="0" y1="0" x2="1" y2="0"><stop offset="0" stop-color="#a30000"/><stop offset="0.06883" stop-color="#a30000"/><stop offset="0.07075" stop-color="#a60000"/><stop offset="0.08987" stop-color="#ff0100"/><stop offset="0.109" stop-color="#ff5600"/><stop offset="0.1224" stop-color="#ff8800"/><stop offset="0.1396" stop-color="#ffba00"/><stop offset="0.1683" stop-color="#feff01"/><stop offset="0.2696" stop-color="#39ffc6"/><stop offset="0.3021" stop-color="#00ffff"/><stop offset="0.3518" stop-color="#00b7ff"/><stop offset="0.4417" stop-color="#0044ff"/><stop offset="0.478" stop-color="#001cff"/><stop offset="0.5105" stop-color="#0000ff"/><stop offset="0.608" stop-color="#0000c2"/><stop offset="0.652" stop-color="#0000b0"/><stop offset="0.6979" stop-color="#0000a3"/><stop offset="0.7323" stop-color="#00009e"/><stop offset="1" stop-color="#00009e"/></linearGradient><linearGradient id="b37" x1="0" y1="0" x2="1" y2="0"><stop offset="0" stop-color="#a30000"/><stop offset="0.06883" stop-color="#a30000"/><stop offset="0.08795" stop-color="#ff0000"/><stop offset="0.1071" stop-color="#ff5600"/><stop offset="0.1205" stop-color="#ff8800"/><stop offset="0.1396" stop-color="#ffbf00"/><stop offset="0.1663" stop-color="#feff01"/><stop offset="0.2658" stop-color="#3affc5"/><stop offset="0.2983" stop-color="#00ffff"/><stop offset="0.348" stop-color="#00b7ff"/><stop offset="0.4379" stop-color="#0043ff"/><stop offset="0.4742" stop-color="#001bff"/><stop offset="0.5067" stop-color="#0000fe"/><stop offset="0.6023" stop-color="#0000c2"/><stop offset="0.6463" stop-color="#0000af"/><stop offset="0.6922" stop-color="#0000a3"/><stop offset="0.7247" stop-color="#00009e"/><stop offset="1" stop-color="#00009e"/></linearGradient><linearGradient id="b38" x1="0" y1="0" x2="1" y2="0"><stop offset="0" stop-color="#a30000"/><stop offset="0.06692" stop-color="#a30000"/><stop offset="0.08604" stop-color="#fd0000"/><stop offset="0.1071" stop-color="#ff5d00"/><stop offset="0.1205" stop-color="#ff8e00"/><stop offset="0.1396" stop-color="#ffc400"/><stop offset="0.1644" stop-color="#fdff02"/><stop offset="0.2658" stop-color="#34ffcb"/><stop offset="0.2964" stop-color="#00fdff"/><stop offset="0.3442" stop-color="#00b6ff"/><stop offset="0.4321" stop-color="#0045ff"/><stop offset="0.4685" stop-color="#001cff"/><stop offset="0.501" stop-color="#0000ff"/><stop offset="0.5966" stop-color="#0000c2"/><stop offset="0.6405" stop-color="#0000af"/><stop offset="0.6864" stop-color="#0000a3"/><stop offset="0.717" stop-color="#00009e"/><stop offset="1" stop-color="#00009e"/></linearGradient><linearGradient id="b39" x1="0" y1="0" x2="1" y2="0"><stop offset="0" stop-color="#a30000"/><stop offset="0.06501" stop-color="#a30000"/><stop offset="0.06692" stop-color="#a80000"/><stop offset="0.08413" stop-color="#fc0000"/><stop offset="0.1071" stop-color="#ff6400"/><stop offset="0.1185" stop-color="#ff8e00"/><stop offset="0.1377" stop-color="#ffc400"/><stop offset="0.1625" stop-color="#fcff03"/><stop offset="0.262" stop-color="#35ffca"/><stop offset="0.2925" stop-color="#00fdff"/><stop offset="0.3403" stop-color="#00b6ff"/><stop offset="0.4283" stop-color="#0044ff"/><stop offset="0.4627" stop-color="#001dff"/><stop offset="0.4952" stop-color="#0000ff"/><stop offset="0.5927" stop-color="#0000c1"/><stop offset="0.6367" stop-color="#0000ae"/><stop offset="0.6807" stop-color="#0000a2"/><stop offset="0.7113" stop-color="#00009e"/><stop offset="1" stop-color="#00009e"/></linearGradient><linearGradient id="b40" x1="0" y1="0" x2="1" y2="0"><stop offset="0" stop-color="#a30000"/><stop offset="0.0631" stop-color="#a30000"/><stop offset="0.06501" stop-color="#a60000"/><stop offset="0.08222" stop-color="#fa0000"/><stop offset="0.08413" stop-color="#ff0400"/><stop offset="0.1052" stop-color="#ff6300"/><stop offset="0.1166" stop-color="#ff8e00"/><stop offset="0.1377" stop-color="#ffca00"/><stop offset="0.1587" stop-color="#fffe00"/><stop offset="0.1606" stop-color="#fcff03"/><stop offset="0.2581" stop-color="#37ffc8"/><stop offset="0.2887" stop-color="#00feff"/><stop offset="0.3365" stop-color="#00b6ff"/><stop offset="0.4226" stop-color="#0045ff"/><stop offset="0.457" stop-color="#001eff"/><stop offset="0.4895" stop-color="#0001ff"/><stop offset="0.587" stop-color="#0000c1"/><stop offset="0.631" stop-color="#0000ae"/><stop offset="0.6769" stop-color="#0000a2"/><stop offset="0.7036" stop-color="#00009e"/><stop offset="1" stop-color="#00009e"/></linearGradient><linearGradient id="b41" x1="0" y1="0" x2="1" y2="0"><stop offset="0" stop-color="#a30000"/><stop offset="0.0631" stop-color="#a30000"/><stop offset="0.08222" stop-color="#ff0200"/><stop offset="0.1013" stop-color="#ff5b00"/><stop offset="0.1147" stop-color="#ff8d00"/><stop offset="0.1358" stop-color="#ffca00"/><stop offset="0.1568" stop-color="#ffff00"/><stop offset="0.1587" stop-color="#fbff04"/><stop offset="0.2543" stop-color="#38ffc7"/><stop offset="0.2849" stop-color="#00ffff"/><stop offset="0.3327" stop-color="#00b6ff"/><stop offset="0.4187" stop-color="#0044ff"/><stop offset="0.4551" stop-color="#001bff"/><stop offset="0.4857" stop-color="#0000ff"/><stop offset="0.5373" stop-color="#0000da"/><stop offset="0.5813" stop-color="#0000c0"/><stop offset="0.6252" stop-color="#0000ae"/><stop offset="0.6711" stop-color="#0000a2"/><stop offset="0.696" stop-color="#00009e"/><stop offset="1" stop-color="#00009e"/></linearGradient><linearGradient id="b42" x1="0" y1="0" x2="1" y2="0"><stop offset="0" stop-color="#a30000"/><stop offset="0.06119" stop-color="#a30000"/><stop offset="0.08031" stop-color="#ff0100"/><stop offset="0.09943" stop-color="#ff5a00"/><stop offset="0.1109" stop-color="#ff8700"/><stop offset="0.1281" stop-color="#ffbb00"/><stop offset="0.1549" stop-color="#ffff00"/><stop offset="0.2543" stop-color="#32ffcd"/><stop offset="0.283" stop-color="#00fcff"/><stop offset="0.3289" stop-color="#00b6ff"/><stop offset="0.4149" stop-color="#0043ff"/><stop offset="0.4493" stop-color="#001bff"/><stop offset="0.4799" stop-color="#0000ff"/><stop offset="0.5315" stop-color="#0000da"/><stop offset="0.5755" stop-color="#0000c0"/><stop offset="0.6195" stop-color="#0000ae"/><stop offset="0.6654" stop-color="#0000a2"/><stop offset="0.6902" stop-color="#00009e"/><stop offset="1" stop-color="#00009e"/></linearGradient><linearGradient id="b43" x1="0" y1="0" x2="1" y2="0"><stop offset="0" stop-color="#a30000"/><stop offset="0.05927" stop-color="#a30000"/><stop offset="0.06119" stop-color="#a80000"/><stop offset="0.07839" stop-color="#fe0000"/><stop offset="0.09751" stop-color="#ff5900"/><stop offset="0.1109" stop-color="#ff8d00"/><stop offset="0.1281" stop-color="#ffc000"/><stop offset="0.153" stop-color="#feff01"/><stop offset="0.2505" stop-color="#33ffcc"/><stop offset="0.2792" stop-color="#00fdff"/><stop offset="0.325" stop-color="#00b6ff"/><stop offset="0.4092" stop-color="#0045ff"/><stop offset="0.4436" stop-color="#001cff"/><stop offset="0.4742" stop-color="#0000ff"/><stop offset="0.5277" stop-color="#0000d9"/><stop offset="0.5717" stop-color="#0000bf"/><stop offset="0.6157" stop-color="#0000ad"/><stop offset="0.6597" stop-color="#0000a1"/><stop offset="1" stop-color="#00009e"/></linearGradient><linearGradient id="b44" x1="0" y1="0" x2="1" y2="0"><stop offset="0" stop-color="#a30000"/><stop offset="0.05736" stop-color="#a30000"/><stop offset="0.05927" stop-color="#a60000"/><stop offset="0.07648" stop-color="#fd0000"/><stop offset="0.09751" stop-color="#ff6100"/><stop offset="0.109" stop-color="#ff8d00"/><stop offset="0.1262" stop-color="#ffc000"/><stop offset="0.1511" stop-color="#fdff02"/><stop offset="0.2467" stop-color="#34ffcb"/><stop offset="0.2753" stop-color="#00feff"/><stop offset="0.3212" stop-color="#00b6ff"/><stop offset="0.4054" stop-color="#0044ff"/><stop offset="0.4398" stop-color="#001bff"/><stop offset="0.4704" stop-color="#0000fe"/><stop offset="0.522" stop-color="#0000d9"/><stop offset="0.566" stop-color="#0000bf"/><stop offset="0.6099" stop-color="#0000ac"/><stop offset="0.6539" stop-color="#0000a1"/><stop offset="1" stop-color="#00009e"/></linearGradient><linearGradient id="b45" x1="0" y1="0" x2="1" y2="0"><stop offset="0" stop-color="#a30000"/><stop offset="0.05736" stop-color="#a30000"/><stop offset="0.07457" stop-color="#fb0000"/><stop offset="0.07648" stop-color="#ff0500"/><stop offset="0.0956" stop-color="#ff6000"/><stop offset="0.1071" stop-color="#ff8d00"/><stop offset="0.1262" stop-color="#ffc600"/><stop offset="0.1491" stop-color="#fdff02"/><stop offset="0.2428" stop-color="#36ffc9"/><stop offset="0.2715" stop-color="#00feff"/><stop offset="0.3174" stop-color="#00b6ff"/><stop offset="0.3996" stop-color="#0045ff"/><stop offset="0.434" stop-color="#001cff"/><stop offset="0.4646" stop-color="#0000ff"/><stop offset="0.5163" stop-color="#0000d9"/><stop offset="0.5583" stop-color="#0000c0"/><stop offset="0.6023" stop-color="#0000ad"/><stop offset="0.6463" stop-color="#0000a1"/><stop offset="1" stop-color="#00009e"/></linearGradient><linearGradient id="b46" x1="0" y1="0" x2="1" y2="0"><stop offset="0" stop-color="#a30000"/><stop offset="0.05545" stop-color="#a30000"/><stop offset="0.07266" stop-color="#fa0000"/><stop offset="0.07457" stop-color="#ff0400"/><stop offset="0.09178" stop-color="#ff5700"/><stop offset="0.1052" stop-color="#ff8c00"/><stop offset="0.1243" stop-color="#ffc600"/><stop offset="0.1472" stop-color="#fcff03"/><stop offset="0.239" stop-color="#37ffc8"/><stop offset="0.2677" stop-color="#00ffff"/><stop offset="0.3117" stop-color="#00b9ff"/><stop offset="0.3939" stop-color="#0047ff"/><stop offset="0.4283" stop-color="#001dff"/><stop offset="0.4589" stop-color="#0000ff"/><stop offset="0.5105" stop-color="#0000d9"/><stop offset="0.5526" stop-color="#0000c0"/><stop offset="0.5966" stop-color="#0000ad"/><stop offset="0.6405" stop-color="#0000a1"/><stop offset="1" stop-color="#00009e"/></linearGradient><linearGradient id="b47" x1="0" y1="0" x2="1" y2="0"><stop offset="0" stop-color="#a30000"/><stop offset="0.05354" stop-color="#a30000"/><stop offset="0.05545" stop-color="#a80000"/><stop offset="0.07266" stop-color="#ff0200"/><stop offset="0.09178" stop-color="#ff5f00"/><stop offset="0.1033" stop-color="#ff8c00"/><stop offset="0.1243" stop-color="#ffcc00"/><stop offset="0.1434" stop-color="#fffe00"/><stop offset="0.1453" stop-color="#fbff04"/><stop offset="0.239" stop-color="#31ffce"/><stop offset="0.2658" stop-color="#00fcff"/><stop offset="0.3098" stop-color="#00b6ff"/><stop offset="0.392" stop-color="#0043ff"/><stop offset="0.4264" stop-color="#001aff"/><stop offset="0.4551" stop-color="#0000fe"/><stop offset="0.5048" stop-color="#0000d9"/><stop offset="0.5488" stop-color="#0000bf"/><stop offset="0.5908" stop-color="#0000ac"/><stop offset="0.6348" stop-color="#0000a1"/><stop offset="1" stop-color="#00009e"/></linearGradient><linearGradient id="b48" x1="0" y1="0" x2="1" y2="0"><stop offset="0" stop-color="#a30000"/><stop offset="0.05354" stop-color="#a60000"/><stop offset="0.07075" stop-color="#ff0100"/><stop offset="0.08987" stop-color="#ff5e00"/><stop offset="0.1013" stop-color="#ff8c00"/><stop offset="0.1224" stop-color="#ffcc00"/><stop offset="0.1415" stop-color="#ffff00"/><stop offset="0.1434" stop-color="#faff05"/><stop offset="0.2352" stop-color="#32ffcd"/><stop offset="0.262" stop-color="#00fdff"/><stop offset="0.3059" stop-color="#00b6ff"/><stop offset="0.3862" stop-color="#0045ff"/><stop offset="0.4187" stop-color="#001dff"/><stop offset="0.4493" stop-color="#0000ff"/><stop offset="0.499" stop-color="#0000d9"/><stop offset="0.543" stop-color="#0000be"/><stop offset="0.5851" stop-color="#0000ac"/><stop offset="0.6291" stop-color="#0000a1"/><stop offset="1" stop-color="#00009e"/></linearGradient><linearGradient id="b49" x1="0" y1="0" x2="1" y2="0"><stop offset="0" stop-color="#a30000"/><stop offset="0.05163" stop-color="#a30000"/><stop offset="0.06883" stop-color="#fe0000"/><stop offset="0.08795" stop-color="#ff5d00"/><stop offset="0.09943" stop-color="#ff8c00"/><stop offset="0.1147" stop-color="#ffbc00"/><stop offset="0.1396" stop-color="#feff01"/><stop offset="0.2294" stop-color="#38ffc7"/><stop offset="0.2581" stop-color="#00feff"/><stop offset="0.3021" stop-color="#00b6ff"/><stop offset="0.3805" stop-color="#0046ff"/><stop offset="0.413" stop-color="#001eff"/><stop offset="0.4436" stop-color="#0000ff"/><stop offset="0.4952" stop-color="#0000d8"/><stop offset="0.5373" stop-color="#0000be"/><stop offset="0.5793" stop-color="#0000ac"/><stop offset="0.6233" stop-color="#0000a0"/><stop offset="1" stop-color="#00009e"/></linearGradient><linearGradient id="b50" x1="0" y1="0" x2="1" y2="0"><stop offset="0" stop-color="#a30000"/><stop offset="0.04971" stop-color="#a30000"/><stop offset="0.06692" stop-color="#fd0000"/><stop offset="0.08604" stop-color="#ff5d00"/><stop offset="0.09751" stop-color="#ff8c00"/><stop offset="0.1147" stop-color="#ffc200"/><stop offset="0.1377" stop-color="#feff01"/><stop offset="0.2275" stop-color="#35ffca"/><stop offset="0.2543" stop-color="#00feff"/><stop offset="0.2983" stop-color="#00b6ff"/><stop offset="0.3767" stop-color="#0045ff"/><stop offset="0.4092" stop-color="#001cff"/><stop offset="0.4379" stop-color="#0001ff"/><stop offset="0.4895" stop-color="#0000d8"/><stop offset="0.5315" stop-color="#0000be"/><stop offset="0.5736" stop-color="#0000ac"/><stop offset="0.6176" stop-color="#0000a0"/><stop offset="1" stop-color="#00009e"/></linearGradient><linearGradient id="b51" x1="0" y1="0" x2="1" y2="0"><stop offset="0" stop-color="#a30000"/><stop offset="0.0478" stop-color="#a30000"/><stop offset="0.04971" stop-color="#a80000"/><stop offset="0.06501" stop-color="#fb0000"/><stop offset="0.06692" stop-color="#ff0600"/><stop offset="0.08604" stop-color="#ff6500"/><stop offset="0.0956" stop-color="#ff8b00"/><stop offset="0.1128" stop-color="#ffc200"/><stop offset="0.1358" stop-color="#fdff02"/><stop offset="0.2237" stop-color="#36ffc9"/><stop offset="0.2505" stop-color="#00ffff"/><stop offset="0.2945" stop-color="#00b6ff"/><stop offset="0.3728" stop-color="#0044ff"/><stop offset="0.4054" stop-color="#001bff"/><stop offset="0.434" stop-color="#0000fe"/><stop offset="0.4837" stop-color="#0000d8"/><stop offset="0.5258" stop-color="#0000be"/><stop offset="0.5679" stop-color="#0000ab"/><stop offset="0.6119" stop-color="#0000a0"/><stop offset="1" stop-color="#00009e"/></linearGradient><linearGradient id="b52" x1="0" y1="0" x2="1" y2="0"><stop offset="0" stop-color="#a30000"/><stop offset="0.04589" stop-color="#a30000"/><stop offset="0.0478" stop-color="#a60000"/><stop offset="0.0631" stop-color="#f90000"/><stop offset="0.06501" stop-color="#ff0400"/><stop offset="0.08413" stop-color="#ff6400"/><stop offset="0.0956" stop-color="#ff9200"/><stop offset="0.1147" stop-color="#ffce00"/><stop offset="0.1338" stop-color="#fcff03"/><stop offset="0.2218" stop-color="#34ffcb"/><stop offset="0.2428" stop-color="#08fff7"/><stop offset="0.2486" stop-color="#00fcff"/><stop offset="0.2906" stop-color="#00b6ff"/><stop offset="0.3671" stop-color="#0046ff"/><stop offset="0.3996" stop-color="#001cff"/><stop offset="0.4283" stop-color="#0000ff"/><stop offset="0.478" stop-color="#0000d8"/><stop offset="0.5201" stop-color="#0000be"/><stop offset="0.5621" stop-color="#0000ab"/><stop offset="0.6061" stop-color="#0000a0"/><stop offset="1" stop-color="#00009e"/></linearGradient><linearGradient id="b53" x1="0" y1="0" x2="1" y2="0"><stop offset="0" stop-color="#a30000"/><stop offset="0.04589" stop-color="#a30000"/><stop offset="0.0631" stop-color="#ff0200"/><stop offset="0.08031" stop-color="#ff5b00"/><stop offset="0.09178" stop-color="#ff8b00"/><stop offset="0.1109" stop-color="#ffc900"/><stop offset="0.13" stop-color="#fffe00"/><stop offset="0.1319" stop-color="#fbff04"/><stop offset="0.2199" stop-color="#31ffce"/><stop offset="0.2447" stop-color="#00fdff"/><stop offset="0.2868" stop-color="#00b6ff"/><stop offset="0.3633" stop-color="#0045ff"/><stop offset="0.3939" stop-color="#001dff"/><stop offset="0.4226" stop-color="#0000ff"/><stop offset="0.4723" stop-color="#0000d8"/><stop offset="0.5143" stop-color="#0000be"/><stop offset="0.5564" stop-color="#0000ab"/><stop offset="0.5985" stop-color="#0000a0"/><stop offset="1" stop-color="#00009e"/></linearGradient><linearGradient id="b54" x1="0" y1="0" x2="1" y2="0"><stop offset="0" stop-color="#a30000"/><stop offset="0.04398" stop-color="#a30000"/><stop offset="0.06119" stop-color="#ff0100"/><stop offset="0.07839" stop-color="#ff5a00"/><stop offset="0.08987" stop-color="#ff8b00"/><stop offset="0.1109" stop-color="#ffce00"/><stop offset="0.1281" stop-color="#ffff00"/><stop offset="0.13" stop-color="#faff05"/><stop offset="0.2161" stop-color="#32ffcd"/><stop offset="0.2409" stop-color="#00feff"/><stop offset="0.283" stop-color="#00b6ff"/><stop offset="0.3595" stop-color="#0044ff"/><stop offset="0.392" stop-color="#001aff"/><stop offset="0.4187" stop-color="#0000fe"/><stop offset="0.4665" stop-color="#0000d8"/><stop offset="0.5086" stop-color="#0000bd"/><stop offset="0.5507" stop-color="#0000ab"/><stop offset="0.5927" stop-color="#0000a0"/><stop offset="1" stop-color="#00009e"/></linearGradient><linearGradient id="b55" x1="0" y1="0" x2="1" y2="0"><stop offset="0" stop-color="#a30000"/><stop offset="0.04207" stop-color="#a30000"/><stop offset="0.04398" stop-color="#a90000"/><stop offset="0.05927" stop-color="#fe0000"/><stop offset="0.07648" stop-color="#ff5900"/><stop offset="0.08795" stop-color="#ff8b00"/><stop offset="0.1033" stop-color="#ffbe00"/><stop offset="0.1262" stop-color="#ffff00"/><stop offset="0.2103" stop-color="#38ffc7"/><stop offset="0.2371" stop-color="#00feff"/><stop offset="0.2772" stop-color="#00b9ff"/><stop offset="0.3537" stop-color="#0045ff"/><stop offset="0.3843" stop-color="#001dff"/><stop offset="0.413" stop-color="#0000ff"/><stop offset="0.4608" stop-color="#0000d8"/><stop offset="0.5029" stop-color="#0000bd"/><stop offset="0.5449" stop-color="#0000aa"/><stop offset="0.587" stop-color="#0000a0"/><stop offset="1" stop-color="#00009e"/></linearGradient><linearGradient id="b56" x1="0" y1="0" x2="1" y2="0"><stop offset="0" stop-color="#a30000"/><stop offset="0.04015" stop-color="#a30000"/><stop offset="0.04207" stop-color="#a60000"/><stop offset="0.05736" stop-color="#fd0000"/><stop offset="0.07648" stop-color="#ff6200"/><stop offset="0.08604" stop-color="#ff8b00"/><stop offset="0.1013" stop-color="#ffbe00"/><stop offset="0.1243" stop-color="#feff01"/><stop offset="0.2065" stop-color="#3affc5"/><stop offset="0.2333" stop-color="#00ffff"/><stop offset="0.2734" stop-color="#00b9ff"/><stop offset="0.348" stop-color="#0047ff"/><stop offset="0.3786" stop-color="#001eff"/><stop offset="0.4073" stop-color="#0000ff"/><stop offset="0.457" stop-color="#0000d7"/><stop offset="0.4971" stop-color="#0000bd"/><stop offset="0.5392" stop-color="#0000aa"/><stop offset="0.5813" stop-color="#00009f"/><stop offset="1" stop-color="#00009e"/></linearGradient><linearGradient id="b57" x1="0" y1="0" x2="1" y2="0"><stop offset="0" stop-color="#a30000"/><stop offset="0.04015" stop-color="#a40000"/><stop offset="0.05545" stop-color="#fb0000"/><stop offset="0.05736" stop-color="#ff0600"/><stop offset="0.07457" stop-color="#ff6100"/><stop offset="0.08413" stop-color="#ff8a00"/><stop offset="0.1013" stop-color="#ffc400"/><stop offset="0.1224" stop-color="#fdff02"/><stop offset="0.2065" stop-color="#32ffcd"/><stop offset="0.2314" stop-color="#00fcff"/><stop offset="0.2715" stop-color="#00b6ff"/><stop offset="0.3461" stop-color="#0043ff"/><stop offset="0.3767" stop-color="#001aff"/><stop offset="0.4034" stop-color="#0000fe"/><stop offset="0.4512" stop-color="#0000d7"/><stop offset="0.4914" stop-color="#0000bd"/><stop offset="0.5335" stop-color="#0000aa"/><stop offset="0.5755" stop-color="#00009f"/><stop offset="1" stop-color="#00009e"/></linearGradient><linearGradient id="b58" x1="0" y1="0" x2="1" y2="0"><stop offset="0" stop-color="#a30000"/><stop offset="0.03824" stop-color="#a30000"/><stop offset="0.05354" stop-color="#f90000"/><stop offset="0.05545" stop-color="#ff0500"/><stop offset="0.07457" stop-color="#ff6a00"/><stop offset="0.08413" stop-color="#ff9200"/><stop offset="0.1013" stop-color="#ffcb00"/><stop offset="0.1205" stop-color="#fcff03"/><stop offset="0.2027" stop-color="#34ffcb"/><stop offset="0.2275" stop-color="#00fdff"/><stop offset="0.2677" stop-color="#00b6ff"/><stop offset="0.3403" stop-color="#0045ff"/><stop offset="0.3709" stop-color="#001bff"/><stop offset="0.3977" stop-color="#0000fe"/><stop offset="0.4455" stop-color="#0000d7"/><stop offset="0.4857" stop-color="#0000bd"/><stop offset="0.5258" stop-color="#0000aa"/><stop offset="0.5679" stop-color="#00009f"/><stop offset="1" stop-color="#00009e"/></linearGradient><linearGradient id="b59" x1="0" y1="0" x2="1" y2="0"><stop offset="0" stop-color="#a30000"/><stop offset="0.03633" stop-color="#a30000"/><stop offset="0.03824" stop-color="#a90000"/><stop offset="0.04971" stop-color="#ed0000"/><stop offset="0.05354" stop-color="#ff0300"/><stop offset="0.06883" stop-color="#ff5600"/><stop offset="0.08031" stop-color="#ff8a00"/><stop offset="0.09943" stop-color="#ffcb00"/><stop offset="0.1166" stop-color="#fffe00"/><stop offset="0.1185" stop-color="#fbff04"/><stop offset="0.1989" stop-color="#36ffc9"/><stop offset="0.2237" stop-color="#00feff"/><stop offset="0.262" stop-color="#00b9ff"/><stop offset="0.3346" stop-color="#0046ff"/><stop offset="0.3652" stop-color="#001cff"/><stop offset="0.392" stop-color="#0000ff"/><stop offset="0.4398" stop-color="#0000d7"/><stop offset="0.4799" stop-color="#0000bc"/><stop offset="0.5201" stop-color="#0000aa"/><stop offset="0.5621" stop-color="#00009f"/><stop offset="1" stop-color="#00009e"/></linearGradient><linearGradient id="b60" x1="0" y1="0" x2="1" y2="0"><stop offset="0" stop-color="#a30000"/><stop offset="0.03442" stop-color="#a30000"/><stop offset="0.03633" stop-color="#a70000"/><stop offset="0.05163" stop-color="#ff0100"/><stop offset="0.06883" stop-color="#ff5f00"/><stop offset="0.08031" stop-color="#ff9200"/><stop offset="0.1013" stop-color="#ffd700"/><stop offset="0.1147" stop-color="#ffff00"/><stop offset="0.1166" stop-color="#faff05"/><stop offset="0.195" stop-color="#37ffc8"/><stop offset="0.2199" stop-color="#00ffff"/><stop offset="0.2581" stop-color="#00b9ff"/><stop offset="0.3308" stop-color="#0045ff"/><stop offset="0.3595" stop-color="#001dff"/><stop offset="0.3862" stop-color="#0000ff"/><stop offset="0.434" stop-color="#0000d7"/><stop offset="0.4742" stop-color="#0000bc"/><stop offset="0.5143" stop-color="#0000aa"/><stop offset="0.5564" stop-color="#00009f"/><stop offset="1" stop-color="#00009e"/></linearGradient><linearGradient id="b61" x1="0" y1="0" x2="1" y2="0"><stop offset="0" stop-color="#a30000"/><stop offset="0.03442" stop-color="#a40000"/><stop offset="0.04971" stop-color="#ff0000"/><stop offset="0.06501" stop-color="#ff5500"/><stop offset="0.07648" stop-color="#ff8a00"/><stop offset="0.08987" stop-color="#ffba00"/><stop offset="0.1128" stop-color="#feff01"/><stop offset="0.1912" stop-color="#39ffc6"/><stop offset="0.2161" stop-color="#00ffff"/><stop offset="0.2562" stop-color="#00b5ff"/><stop offset="0.327" stop-color="#0044ff"/><stop offset="0.3576" stop-color="#001aff"/><stop offset="0.3824" stop-color="#0000fe"/><stop offset="0.4283" stop-color="#0000d7"/><stop offset="0.4685" stop-color="#0000bc"/><stop offset="0.5086" stop-color="#0000a9"/><stop offset="0.5507" stop-color="#00009f"/><stop offset="1" stop-color="#00009e"/></linearGradient><linearGradient id="b62" x1="0" y1="0" x2="1" y2="0"><stop offset="0" stop-color="#a30000"/><stop offset="0.0325" stop-color="#a30000"/><stop offset="0.0478" stop-color="#fd0000"/><stop offset="0.06501" stop-color="#ff5e00"/><stop offset="0.07457" stop-color="#ff8a00"/><stop offset="0.08987" stop-color="#ffc000"/><stop offset="0.1109" stop-color="#fdff02"/><stop offset="0.1912" stop-color="#31ffce"/><stop offset="0.2141" stop-color="#00fcff"/><stop offset="0.2524" stop-color="#00b5ff"/><stop offset="0.3212" stop-color="#0046ff"/><stop offset="0.3499" stop-color="#001dff"/><stop offset="0.3767" stop-color="#0000ff"/><stop offset="0.4226" stop-color="#0000d7"/><stop offset="0.4627" stop-color="#0000bc"/><stop offset="0.5029" stop-color="#0000a9"/><stop offset="0.543" stop-color="#00009f"/><stop offset="1" stop-color="#00009e"/></linearGradient><linearGradient id="b63" x1="0" y1="0" x2="1" y2="0"><stop offset="0" stop-color="#a30000"/><stop offset="0.03059" stop-color="#a30000"/><stop offset="0.0325" stop-color="#aa0000"/><stop offset="0.04589" stop-color="#fb0000"/><stop offset="0.0478" stop-color="#ff0700"/><stop offset="0.0631" stop-color="#ff5d00"/><stop offset="0.07266" stop-color="#ff8a00"/><stop offset="0.08795" stop-color="#ffc100"/><stop offset="0.109" stop-color="#fcff03"/><stop offset="0.1874" stop-color="#33ffcc"/><stop offset="0.2103" stop-color="#00fdff"/><stop offset="0.2467" stop-color="#00b9ff"/><stop offset="0.3174" stop-color="#0045ff"/><stop offset="0.3461" stop-color="#001cff"/><stop offset="0.3709" stop-color="#0000ff"/><stop offset="0.4187" stop-color="#0000d6"/><stop offset="0.457" stop-color="#0000bc"/><stop offset="0.4971" stop-color="#0000a9"/><stop offset="0.5373" stop-color="#00009f"/><stop offset="1" stop-color="#00009e"/></linearGradient><linearGradient id="b64" x1="0" y1="0" x2="1" y2="0"><stop offset="0" stop-color="#a30000"/><stop offset="0.02868" stop-color="#a30000"/><stop offset="0.03059" stop-color="#a80000"/><stop offset="0.04398" stop-color="#fa0000"/><stop offset="0.04589" stop-color="#ff0500"/><stop offset="0.0631" stop-color="#ff6600"/><stop offset="0.07266" stop-color="#ff9100"/><stop offset="0.08987" stop-color="#ffce00"/><stop offset="0.1052" stop-color="#fffd00"/><stop offset="0.1071" stop-color="#fbff04"/><stop offset="0.1836" stop-color="#34ffcb"/><stop offset="0.2065" stop-color="#00feff"/><stop offset="0.2428" stop-color="#00b8ff"/><stop offset="0.3136" stop-color="#0043ff"/><stop offset="0.3423" stop-color="#001aff"/><stop offset="0.3671" stop-color="#0000fe"/><stop offset="0.413" stop-color="#0000d6"/><stop offset="0.4512" stop-color="#0000bb"/><stop offset="0.4914" stop-color="#0000a9"/><stop offset="0.5315" stop-color="#00009f"/><stop offset="1" stop-color="#00009e"/></linearGradient><linearGradient id="b65" x1="0" y1="0" x2="1" y2="0"><stop offset="0" stop-color="#a30000"/><stop offset="0.02868" stop-color="#a50000"/><stop offset="0.04207" stop-color="#f80000"/><stop offset="0.04398" stop-color="#ff0400"/><stop offset="0.05927" stop-color="#ff5c00"/><stop offset="0.07075" stop-color="#ff9100"/><stop offset="0.08987" stop-color="#ffd400"/><stop offset="0.1033" stop-color="#fffe00"/><stop offset="0.1052" stop-color="#faff05"/><stop offset="0.1797" stop-color="#36ffc9"/><stop offset="0.2027" stop-color="#00ffff"/><stop offset="0.239" stop-color="#00b8ff"/><stop offset="0.3078" stop-color="#0045ff"/><stop offset="0.3365" stop-color="#001bff"/><stop offset="0.3614" stop-color="#0000fe"/><stop offset="0.4073" stop-color="#0000d6"/><stop offset="0.4455" stop-color="#0000bb"/><stop offset="0.4837" stop-color="#0000a9"/><stop offset="0.5239" stop-color="#00009f"/><stop offset="1" stop-color="#00009e"/></linearGradient><linearGradient id="b66" x1="0" y1="0" x2="1" y2="0"><stop offset="0" stop-color="#a30000"/><stop offset="0.02677" stop-color="#a30000"/><stop offset="0.04207" stop-color="#ff0200"/><stop offset="0.05736" stop-color="#ff5b00"/><stop offset="0.06883" stop-color="#ff9100"/><stop offset="0.08987" stop-color="#ffdb00"/><stop offset="0.1013" stop-color="#ffff00"/><stop offset="0.1033" stop-color="#f9ff06"/><stop offset="0.1797" stop-color="#2effd1"/><stop offset="0.1989" stop-color="#00ffff"/><stop offset="0.2008" stop-color="#00fbff"/><stop offset="0.2371" stop-color="#00b5ff"/><stop offset="0.304" stop-color="#0044ff"/><stop offset="0.3308" stop-color="#001cff"/><stop offset="0.3556" stop-color="#0000ff"/><stop offset="0.4015" stop-color="#0000d6"/><stop offset="0.4398" stop-color="#0000bb"/><stop offset="0.478" stop-color="#0000a9"/><stop offset="0.5182" stop-color="#00009e"/><stop offset="1" stop-color="#00009e"/></linearGradient><linearGradient id="b67" x1="0" y1="0" x2="1" y2="0"><stop offset="0" stop-color="#a30000"/><stop offset="0.02486" stop-color="#a30000"/><stop offset="0.02677" stop-color="#ab0000"/><stop offset="0.04015" stop-color="#ff0000"/><stop offset="0.05545" stop-color="#ff5b00"/><stop offset="0.06501" stop-color="#ff8900"/><stop offset="0.07839" stop-color="#ffbc00"/><stop offset="0.09943" stop-color="#feff01"/><stop offset="0.1759" stop-color="#2fffd0"/><stop offset="0.1969" stop-color="#00fcff"/><stop offset="0.2314" stop-color="#00b8ff"/><stop offset="0.2983" stop-color="#0046ff"/><stop offset="0.325" stop-color="#001dff"/><stop offset="0.3499" stop-color="#0001ff"/><stop offset="0.3958" stop-color="#0000d6"/><stop offset="0.434" stop-color="#0000bb"/><stop offset="0.4723" stop-color="#0000a8"/><stop offset="0.5124" stop-color="#00009e"/><stop offset="1" stop-color="#00009e"/></linearGradient><linearGradient id="b68" x1="0" y1="0" x2="1" y2="0"><stop offset="0" stop-color="#a30000"/><stop offset="0.02294" stop-color="#a30000"/><stop offset="0.02486" stop-color="#a80000"/><stop offset="0.03824" stop-color="#fe0000"/><stop offset="0.05354" stop-color="#ff5a00"/><stop offset="0.0631" stop-color="#ff8900"/><stop offset="0.07839" stop-color="#ffc300"/><stop offset="0.09751" stop-color="#fdff02"/><stop offset="0.1721" stop-color="#31ffce"/><stop offset="0.1931" stop-color="#00fdff"/><stop offset="0.2275" stop-color="#00b8ff"/><stop offset="0.2945" stop-color="#0044ff"/><stop offset="0.3231" stop-color="#0019ff"/><stop offset="0.3461" stop-color="#0000fe"/><stop offset="0.3901" stop-color="#0000d6"/><stop offset="0.4283" stop-color="#0000ba"/><stop offset="0.4665" stop-color="#0000a8"/><stop offset="0.5048" stop-color="#00009e"/><stop offset="1" stop-color="#00009e"/></linearGradient><linearGradient id="b69" x1="0" y1="0" x2="1" y2="0"><stop offset="0" stop-color="#a30000"/><stop offset="0.02294" stop-color="#a60000"/><stop offset="0.03633" stop-color="#fc0000"/><stop offset="0.05354" stop-color="#ff6400"/><stop offset="0.0631" stop-color="#ff9100"/><stop offset="0.07839" stop-color="#ffca00"/><stop offset="0.0956" stop-color="#fcff03"/><stop offset="0.1683" stop-color="#33ffcc"/><stop offset="0.1893" stop-color="#00feff"/><stop offset="0.2237" stop-color="#00b8ff"/><stop offset="0.2887" stop-color="#0046ff"/><stop offset="0.3155" stop-color="#001dff"/><stop offset="0.3403" stop-color="#0000ff"/><stop offset="0.3843" stop-color="#0000d6"/><stop offset="0.4226" stop-color="#0000ba"/><stop offset="0.4608" stop-color="#0000a8"/><stop offset="0.499" stop-color="#00009e"/><stop offset="1" stop-color="#00009e"/></linearGradient><linearGradient id="b70" x1="0" y1="0" x2="1" y2="0"><stop offset="0" stop-color="#a30000"/><stop offset="0.02103" stop-color="#a30000"/><stop offset="0.03442" stop-color="#fa0000"/><stop offset="0.03633" stop-color="#ff0700"/><stop offset="0.05163" stop-color="#ff6300"/><stop offset="0.06119" stop-color="#ff9100"/><stop offset="0.07839" stop-color="#ffd100"/><stop offset="0.09178" stop-color="#fffd00"/><stop offset="0.09369" stop-color="#fbff04"/><stop offset="0.1644" stop-color="#35ffca"/><stop offset="0.1855" stop-color="#00ffff"/><stop offset="0.2199" stop-color="#00b8ff"/><stop offset="0.2849" stop-color="#0045ff"/><stop offset="0.3098" stop-color="#001eff"/><stop offset="0.3346" stop-color="#0000ff"/><stop offset="0.3786" stop-color="#0000d6"/><stop offset="0.4149" stop-color="#0000bb"/><stop offset="0.4532" stop-color="#0000a8"/><stop offset="0.4914" stop-color="#00009e"/><stop offset="1" stop-color="#00009e"/></linearGradient><linearGradient id="b71" x1="0" y1="0" x2="1" y2="0"><stop offset="0" stop-color="#a30000"/><stop offset="0.01912" stop-color="#a30000"/><stop offset="0.0325" stop-color="#f90000"/><stop offset="0.03442" stop-color="#ff0500"/><stop offset="0.04971" stop-color="#ff6300"/><stop offset="0.05927" stop-color="#ff9100"/><stop offset="0.07839" stop-color="#ffd800"/><stop offset="0.08987" stop-color="#fffe00"/><stop offset="0.09178" stop-color="#faff05"/><stop offset="0.1625" stop-color="#31ffce"/><stop offset="0.1816" stop-color="#01fffe"/><stop offset="0.1836" stop-color="#00fbff"/><stop offset="0.218" stop-color="#00b5ff"/><stop offset="0.2811" stop-color="#0044ff"/><stop offset="0.3078" stop-color="#001aff"/><stop offset="0.3308" stop-color="#0000fe"/><stop offset="0.3728" stop-color="#0000d6"/><stop offset="0.4092" stop-color="#0000bb"/><stop offset="0.4474" stop-color="#0000a8"/><stop offset="0.4857" stop-color="#00009e"/><stop offset="1" stop-color="#00009e"/></linearGradient><linearGradient id="b72" x1="0" y1="0" x2="1" y2="0"><stop offset="0" stop-color="#a30000"/><stop offset="0.01721" stop-color="#a30000"/><stop offset="0.01912" stop-color="#aa0000"/><stop offset="0.03059" stop-color="#f70000"/><stop offset="0.0325" stop-color="#ff0300"/><stop offset="0.04589" stop-color="#ff5700"/><stop offset="0.05545" stop-color="#ff8900"/><stop offset="0.06883" stop-color="#ffbe00"/><stop offset="0.08795" stop-color="#ffff00"/><stop offset="0.1587" stop-color="#33ffcc"/><stop offset="0.1759" stop-color="#06fff9"/><stop offset="0.1797" stop-color="#00fcff"/><stop offset="0.2122" stop-color="#00b8ff"/><stop offset="0.2753" stop-color="#0046ff"/><stop offset="0.3021" stop-color="#001bff"/><stop offset="0.325" stop-color="#0000ff"/><stop offset="0.3671" stop-color="#0000d6"/><stop offset="0.4034" stop-color="#0000bb"/><stop offset="0.4398" stop-color="#0000a8"/><stop offset="0.478" stop-color="#00009e"/><stop offset="1" stop-color="#00009e"/></linearGradient><linearGradient id="b73" x1="0" y1="0" x2="1" y2="0"><stop offset="0" stop-color="#a30000"/><stop offset="0.0153" stop-color="#a30000"/><stop offset="0.01721" stop-color="#a70000"/><stop offset="0.03059" stop-color="#ff0200"/><stop offset="0.04398" stop-color="#ff5600"/><stop offset="0.05354" stop-color="#ff8900"/><stop offset="0.06692" stop-color="#ffbf00"/><stop offset="0.08604" stop-color="#fdff02"/><stop offset="0.1549" stop-color="#35ffca"/><stop offset="0.1759" stop-color="#00fdff"/><stop offset="0.2084" stop-color="#00b8ff"/><stop offset="0.2715" stop-color="#0044ff"/><stop offset="0.2964" stop-color="#001cff"/><stop offset="0.3193" stop-color="#0000ff"/><stop offset="0.3614" stop-color="#0000d6"/><stop offset="0.3977" stop-color="#0000ba"/><stop offset="0.434" stop-color="#0000a8"/><stop offset="0.4704" stop-color="#00009e"/><stop offset="1" stop-color="#00009e"/></linearGradient><linearGradient id="b74" x1="0" y1="0" x2="1" y2="0"><stop offset="0" stop-color="#a30000"/><stop offset="0.0153" stop-color="#a40000"/><stop offset="0.02868" stop-color="#ff0000"/><stop offset="0.04207" stop-color="#ff5600"/><stop offset="0.05163" stop-color="#ff8900"/><stop offset="0.06692" stop-color="#ffc600"/><stop offset="0.08413" stop-color="#fcff03"/><stop offset="0.1511" stop-color="#37ffc8"/><stop offset="0.1721" stop-color="#00feff"/><stop offset="0.2046" stop-color="#00b8ff"/><stop offset="0.2677" stop-color="#0043ff"/><stop offset="0.2945" stop-color="#0018ff"/><stop offset="0.3155" stop-color="#0000fe"/><stop offset="0.3556" stop-color="#0000d6"/><stop offset="0.392" stop-color="#0000ba"/><stop offset="0.4283" stop-color="#0000a8"/><stop offset="0.4646" stop-color="#00009e"/><stop offset="1" stop-color="#00009e"/></linearGradient><linearGradient id="b75" x1="0" y1="0" x2="1" y2="0"><stop offset="0" stop-color="#a30000"/><stop offset="0.01338" stop-color="#a30000"/><stop offset="0.02677" stop-color="#fd0000"/><stop offset="0.04207" stop-color="#ff6000"/><stop offset="0.05163" stop-color="#ff9200"/><stop offset="0.06692" stop-color="#ffce00"/><stop offset="0.08031" stop-color="#fffd00"/><stop offset="0.08222" stop-color="#fbff04"/><stop offset="0.1472" stop-color="#39ffc6"/><stop offset="0.1683" stop-color="#00ffff"/><stop offset="0.2008" stop-color="#00b8ff"/><stop offset="0.262" stop-color="#0045ff"/><stop offset="0.2868" stop-color="#001cff"/><stop offset="0.3098" stop-color="#0000fe"/><stop offset="0.3499" stop-color="#0000d6"/><stop offset="0.3843" stop-color="#0000bb"/><stop offset="0.4207" stop-color="#0000a8"/><stop offset="0.457" stop-color="#00009e"/><stop offset="1" stop-color="#00009e"/></linearGradient><linearGradient id="b76" x1="0" y1="0" x2="1" y2="0"><stop offset="0" stop-color="#a30000"/><stop offset="0.01147" stop-color="#a30000"/><stop offset="0.01338" stop-color="#ab0000"/><stop offset="0.02486" stop-color="#fb0000"/><stop offset="0.02677" stop-color="#ff0900"/><stop offset="0.04015" stop-color="#ff6000"/><stop offset="0.04971" stop-color="#ff9200"/><stop offset="0.06692" stop-color="#ffd600"/><stop offset="0.07839" stop-color="#fffe00"/><stop offset="0.08031" stop-color="#faff05"/><stop offset="0.1472" stop-color="#2fffd0"/><stop offset="0.1644" stop-color="#01fffe"/><stop offset="0.1663" stop-color="#00fbff"/><stop offset="0.1969" stop-color="#00b8ff"/><stop offset="0.2581" stop-color="#0044ff"/><stop offset="0.283" stop-color="#001bff"/><stop offset="0.304" stop-color="#0000ff"/><stop offset="0.3442" stop-color="#0000d6"/><stop offset="0.3786" stop-color="#0000bb"/><stop offset="0.413" stop-color="#0000a9"/><stop offset="0.4493" stop-color="#00009e"/><stop offset="1" stop-color="#00009e"/></linearGradient><linearGradient id="b77" x1="0" y1="0" x2="1" y2="0"><stop offset="0" stop-color="#a30000"/><stop offset="0.00956" stop-color="#a30000"/><stop offset="0.01147" stop-color="#a80000"/><stop offset="0.02294" stop-color="#fa0000"/><stop offset="0.02486" stop-color="#ff0700"/><stop offset="0.03633" stop-color="#ff5300"/><stop offset="0.04589" stop-color="#ff8900"/><stop offset="0.05736" stop-color="#ffba00"/><stop offset="0.07648" stop-color="#ffff00"/><stop offset="0.1434" stop-color="#31ffce"/><stop offset="0.1587" stop-color="#07fff8"/><stop offset="0.1625" stop-color="#00fcff"/><stop offset="0.1931" stop-color="#00b8ff"/><stop offset="0.2524" stop-color="#0046ff"/><stop offset="0.2753" stop-color="#001fff"/><stop offset="0.2983" stop-color="#0000ff"/><stop offset="0.3403" stop-color="#0000d5"/><stop offset="0.3728" stop-color="#0000bb"/><stop offset="0.4073" stop-color="#0000a8"/><stop offset="0.4436" stop-color="#00009e"/><stop offset="1" stop-color="#00009e"/></linearGradient><linearGradient id="b78" x1="0" y1="0" x2="1" y2="0"><stop offset="0" stop-color="#a30000"/><stop offset="0.00956" stop-color="#a50000"/><stop offset="0.02103" stop-color="#f80000"/><stop offset="0.02294" stop-color="#ff0500"/><stop offset="0.03633" stop-color="#ff5f00"/><stop offset="0.04398" stop-color="#ff8900"/><stop offset="0.05736" stop-color="#ffc200"/><stop offset="0.07457" stop-color="#feff01"/><stop offset="0.1396" stop-color="#33ffcc"/><stop offset="0.1587" stop-color="#00fdff"/><stop offset="0.1893" stop-color="#00b8ff"/><stop offset="0.2486" stop-color="#0044ff"/><stop offset="0.2734" stop-color="#001aff"/><stop offset="0.2945" stop-color="#0000fe"/><stop offset="0.3327" stop-color="#0000d6"/><stop offset="0.3671" stop-color="#0000bb"/><stop offset="0.4015" stop-color="#0000a8"/><stop offset="0.4359" stop-color="#00009e"/><stop offset="1" stop-color="#00009e"/></linearGradient><linearGradient id="b79" x1="0" y1="0" x2="1" y2="0"><stop offset="0" stop-color="#a30000"/><stop offset="0.007648" stop-color="#a30000"/><stop offset="0.01912" stop-color="#f60000"/><stop offset="0.02103" stop-color="#ff0400"/><stop offset="0.03442" stop-color="#ff5e00"/><stop offset="0.04207" stop-color="#ff8900"/><stop offset="0.05545" stop-color="#ffc200"/><stop offset="0.07266" stop-color="#fcff03"/><stop offset="0.1358" stop-color="#35ffca"/><stop offset="0.1549" stop-color="#00feff"/><stop offset="0.1855" stop-color="#00b8ff"/><stop offset="0.2428" stop-color="#0046ff"/><stop offset="0.2677" stop-color="#001bff"/><stop offset="0.2887" stop-color="#0000ff"/><stop offset="0.327" stop-color="#0000d6"/><stop offset="0.3595" stop-color="#0000bc"/><stop offset="0.3939" stop-color="#0000a8"/><stop offset="0.4283" stop-color="#00009e"/><stop offset="1" stop-color="#00009e"/></linearGradient><linearGradient id="b80" x1="0" y1="0" x2="1" y2="0"><stop offset="0" stop-color="#a30000"/><stop offset="0.005736" stop-color="#a30000"/><stop offset="0.007648" stop-color="#ad0000"/><stop offset="0.01912" stop-color="#ff0200"/><stop offset="0.0325" stop-color="#ff5d00"/><stop offset="0.04015" stop-color="#ff8900"/><stop offset="0.05545" stop-color="#ffca00"/><stop offset="0.06883" stop-color="#fffc00"/><stop offset="0.07075" stop-color="#fbff04"/><stop offset="0.1319" stop-color="#37ffc8"/><stop offset="0.1511" stop-color="#00ffff"/><stop offset="0.1816" stop-color="#00b8ff"/><stop offset="0.239" stop-color="#0045ff"/><stop offset="0.262" stop-color="#001dff"/><stop offset="0.283" stop-color="#0000ff"/><stop offset="0.3231" stop-color="#0000d5"/><stop offset="0.3556" stop-color="#0000ba"/><stop offset="0.3881" stop-color="#0000a8"/><stop offset="0.4226" stop-color="#00009e"/><stop offset="1" stop-color="#00009e"/></linearGradient><linearGradient id="b81" x1="0" y1="0" x2="1" y2="0"><stop offset="0" stop-color="#a30000"/><stop offset="0.003824" stop-color="#a30000"/><stop offset="0.005736" stop-color="#aa0000"/><stop offset="0.01721" stop-color="#ff0000"/><stop offset="0.03059" stop-color="#ff5d00"/><stop offset="0.04015" stop-color="#ff9200"/><stop offset="0.05736" stop-color="#ffda00"/><stop offset="0.06692" stop-color="#fffe00"/><stop offset="0.06883" stop-color="#faff05"/><stop offset="0.1319" stop-color="#2dffd2"/><stop offset="0.1472" stop-color="#01fffe"/><stop offset="0.1491" stop-color="#00fbff"/><stop offset="0.1778" stop-color="#00b8ff"/><stop offset="0.2352" stop-color="#0043ff"/><stop offset="0.26" stop-color="#0018ff"/><stop offset="0.2792" stop-color="#0000fe"/><stop offset="0.3155" stop-color="#0000d6"/><stop offset="0.348" stop-color="#0000bb"/><stop offset="0.3805" stop-color="#0000a8"/><stop offset="0.4149" stop-color="#00009e"/><stop offset="1" stop-color="#00009e"/></linearGradient><linearGradient id="b82" x1="0" y1="0" x2="1" y2="0"><stop offset="0" stop-color="#a30000"/><stop offset="0.003824" stop-color="#a70000"/><stop offset="0.0153" stop-color="#fd0000"/><stop offset="0.02868" stop-color="#ff5c00"/><stop offset="0.03824" stop-color="#ff9200"/><stop offset="0.05736" stop-color="#ffe200"/><stop offset="0.06501" stop-color="#ffff00"/><stop offset="0.06692" stop-color="#f8ff07"/><stop offset="0.1281" stop-color="#2fffd0"/><stop offset="0.1434" stop-color="#02fffd"/><stop offset="0.1453" stop-color="#00fcff"/><stop offset="0.174" stop-color="#00b8ff"/><stop offset="0.2314" stop-color="#0042ff"/><stop offset="0.2543" stop-color="#0019ff"/><stop offset="0.2734" stop-color="#0000fe"/><stop offset="0.3098" stop-color="#0000d7"/><stop offset="0.3423" stop-color="#0000bb"/><stop offset="0.3748" stop-color="#0000a8"/><stop offset="0.4073" stop-color="#00009e"/><stop offset="1" stop-color="#00009e"/></linearGradient><linearGradient id="b83" x1="0" y1="0" x2="1" y2="0"><stop offset="0" stop-color="#a30000"/><stop offset="0.001912" stop-color="#a40000"/><stop offset="0.01338" stop-color="#fb0000"/><stop offset="0.0153" stop-color="#ff0a00"/><stop offset="0.02677" stop-color="#ff5b00"/><stop offset="0.03442" stop-color="#ff8900"/><stop offset="0.04589" stop-color="#ffbd00"/><stop offset="0.0631" stop-color="#feff01"/><stop offset="0.1243" stop-color="#31ffce"/><stop offset="0.1415" stop-color="#00fdff"/><stop offset="0.1702" stop-color="#00b8ff"/><stop offset="0.2256" stop-color="#0044ff"/><stop offset="0.2467" stop-color="#001eff"/><stop offset="0.2677" stop-color="#0000ff"/><stop offset="0.304" stop-color="#0000d7"/><stop offset="0.3365" stop-color="#0000bb"/><stop offset="0.369" stop-color="#0000a8"/><stop offset="0.4015" stop-color="#00009e"/><stop offset="1" stop-color="#00009e"/></linearGradient><linearGradient id="b84" x1="0" y1="0" x2="1" y2="0"><stop offset="0" stop-color="#a30000"/><stop offset="0.01147" stop-color="#f90000"/><stop offset="0.01338" stop-color="#ff0800"/><stop offset="0.02486" stop-color="#ff5b00"/><stop offset="0.0325" stop-color="#ff8900"/><stop offset="0.04589" stop-color="#ffc600"/><stop offset="0.06119" stop-color="#fcff03"/><stop offset="0.1205" stop-color="#33ffcc"/><stop offset="0.1377" stop-color="#00feff"/><stop offset="0.1663" stop-color="#00b8ff"/><stop offset="0.2218" stop-color="#0043ff"/><stop offset="0.2447" stop-color="#0019ff"/><stop offset="0.2639" stop-color="#0000fd"/><stop offset="0.3002" stop-color="#0000d5"/><stop offset="0.3308" stop-color="#0000ba"/><stop offset="0.3614" stop-color="#0000a8"/><stop offset="0.3939" stop-color="#00009e"/><stop offset="1" stop-color="#00009e"/></linearGradient><linearGradient id="b85" x1="0" y1="0" x2="1" y2="0"><stop offset="0" stop-color="#ac0000"/><stop offset="0.00956" stop-color="#f70000"/><stop offset="0.01147" stop-color="#ff0600"/><stop offset="0.02294" stop-color="#ff5a00"/><stop offset="0.0325" stop-color="#ff9300"/><stop offset="0.04589" stop-color="#ffcf00"/><stop offset="0.05736" stop-color="#fffc00"/><stop offset="0.05927" stop-color="#fbff04"/><stop offset="0.1166" stop-color="#35ffca"/><stop offset="0.1338" stop-color="#00ffff"/><stop offset="0.1625" stop-color="#00b8ff"/><stop offset="0.2161" stop-color="#0045ff"/><stop offset="0.239" stop-color="#001aff"/><stop offset="0.2581" stop-color="#0000fe"/><stop offset="0.2945" stop-color="#0000d5"/><stop offset="0.325" stop-color="#0000ba"/><stop offset="0.3556" stop-color="#0000a8"/><stop offset="0.3881" stop-color="#00009e"/><stop offset="1" stop-color="#00009e"/></linearGradient><linearGradient id="b86" x1="0" y1="0" x2="1" y2="0"><stop offset="0" stop-color="#b80000"/><stop offset="0.007648" stop-color="#f50000"/><stop offset="0.00956" stop-color="#ff0400"/><stop offset="0.02103" stop-color="#ff5a00"/><stop offset="0.03059" stop-color="#ff9300"/><stop offset="0.0478" stop-color="#ffdf00"/><stop offset="0.05545" stop-color="#fffd00"/><stop offset="0.05736" stop-color="#f9ff06"/><stop offset="0.1166" stop-color="#2bffd4"/><stop offset="0.13" stop-color="#01fffe"/><stop offset="0.1319" stop-color="#00fbff"/><stop offset="0.1587" stop-color="#00b8ff"/><stop offset="0.2122" stop-color="#0043ff"/><stop offset="0.2333" stop-color="#001bff"/><stop offset="0.2524" stop-color="#0000ff"/><stop offset="0.2868" stop-color="#0000d7"/><stop offset="0.3174" stop-color="#0000bb"/><stop offset="0.348" stop-color="#0000a8"/><stop offset="0.3805" stop-color="#00009e"/><stop offset="1" stop-color="#00009e"/></linearGradient><linearGradient id="b87" x1="0" y1="0" x2="1" y2="0"><stop offset="0" stop-color="#c50000"/><stop offset="0.007648" stop-color="#ff0300"/><stop offset="0.01912" stop-color="#ff5900"/><stop offset="0.02868" stop-color="#ff9300"/><stop offset="0.04971" stop-color="#fff000"/><stop offset="0.05354" stop-color="#ffff00"/><stop offset="0.05545" stop-color="#f8ff07"/><stop offset="0.1128" stop-color="#2dffd2"/><stop offset="0.1262" stop-color="#02fffd"/><stop offset="0.1281" stop-color="#00fcff"/><stop offset="0.1549" stop-color="#00b8ff"/><stop offset="0.2065" stop-color="#0046ff"/><stop offset="0.2275" stop-color="#001dff"/><stop offset="0.2467" stop-color="#0000ff"/><stop offset="0.283" stop-color="#0000d5"/><stop offset="0.3117" stop-color="#0000bb"/><stop offset="0.3423" stop-color="#0000a8"/><stop offset="0.3728" stop-color="#00009e"/><stop offset="1" stop-color="#00009e"/></linearGradient><linearGradient id="b88" x1="0" y1="0" x2="1" y2="0"><stop offset="0" stop-color="#d20000"/><stop offset="0.005736" stop-color="#ff0100"/><stop offset="0.01721" stop-color="#ff5800"/><stop offset="0.02486" stop-color="#ff8900"/><stop offset="0.03633" stop-color="#ffc100"/><stop offset="0.05163" stop-color="#fdff02"/><stop offset="0.1071" stop-color="#35ffca"/><stop offset="0.1243" stop-color="#00fdff"/><stop offset="0.1511" stop-color="#00b8ff"/><stop offset="0.2027" stop-color="#0044ff"/><stop offset="0.2256" stop-color="#0018ff"/><stop offset="0.2428" stop-color="#0000fe"/><stop offset="0.2772" stop-color="#0000d5"/><stop offset="0.3059" stop-color="#0000bb"/><stop offset="0.3365" stop-color="#0000a8"/><stop offset="0.3671" stop-color="#00009e"/><stop offset="1" stop-color="#00009e"/></linearGradient><linearGradient id="b89" x1="0" y1="0" x2="1" y2="0"><stop offset="0" stop-color="#df0000"/><stop offset="0.003824" stop-color="#fe0000"/><stop offset="0.005736" stop-color="#ff0e00"/><stop offset="0.01721" stop-color="#ff6500"/><stop offset="0.02486" stop-color="#ff9400"/><stop offset="0.03633" stop-color="#ffca00"/><stop offset="0.04971" stop-color="#fcff03"/><stop offset="0.1033" stop-color="#38ffc7"/><stop offset="0.1205" stop-color="#00feff"/><stop offset="0.1472" stop-color="#00b8ff"/><stop offset="0.1969" stop-color="#0046ff"/><stop offset="0.218" stop-color="#001cff"/><stop offset="0.2371" stop-color="#0000fe"/><stop offset="0.2715" stop-color="#0000d5"/><stop offset="0.3002" stop-color="#0000ba"/><stop offset="0.3289" stop-color="#0000a8"/><stop offset="0.3595" stop-color="#00009e"/><stop offset="1" stop-color="#00009e"/></linearGradient><linearGradient id="b90" x1="0" y1="0" x2="1" y2="0"><stop offset="0" stop-color="#ed0000"/><stop offset="0.001912" stop-color="#fc0000"/><stop offset="0.003824" stop-color="#ff0c00"/><stop offset="0.0153" stop-color="#ff6500"/><stop offset="0.02294" stop-color="#ff9400"/><stop offset="0.03633" stop-color="#ffd300"/><stop offset="0.04589" stop-color="#fffc00"/><stop offset="0.0478" stop-color="#faff05"/><stop offset="0.09943" stop-color="#3affc5"/><stop offset="0.1166" stop-color="#00ffff"/><stop offset="0.1434" stop-color="#00b7ff"/><stop offset="0.1931" stop-color="#0045ff"/><stop offset="0.2122" stop-color="#001eff"/><stop offset="0.2314" stop-color="#0000ff"/><stop offset="0.2639" stop-color="#0000d7"/><stop offset="0.2925" stop-color="#0000bb"/><stop offset="0.3212" stop-color="#0000a9"/><stop offset="0.3518" stop-color="#00009e"/><stop offset="1" stop-color="#00009e"/></linearGradient><linearGradient id="b91" x1="0" y1="0" x2="1" y2="0"><stop offset="0" stop-color="#fa0000"/><stop offset="0.001912" stop-color="#ff0a00"/><stop offset="0.01338" stop-color="#ff6400"/><stop offset="0.02103" stop-color="#ff9400"/><stop offset="0.03824" stop-color="#ffe500"/><stop offset="0.04398" stop-color="#fffe00"/><stop offset="0.04589" stop-color="#f8ff07"/><stop offset="0.09943" stop-color="#2effd1"/><stop offset="0.1128" stop-color="#01fffe"/><stop offset="0.1147" stop-color="#00faff"/><stop offset="0.1396" stop-color="#00b7ff"/><stop offset="0.1893" stop-color="#0043ff"/><stop offset="0.2103" stop-color="#0019ff"/><stop offset="0.2275" stop-color="#0000fd"/><stop offset="0.26" stop-color="#0000d5"/><stop offset="0.2887" stop-color="#0000ba"/><stop offset="0.3174" stop-color="#0000a7"/><stop offset="0.3461" stop-color="#00009e"/><stop offset="1" stop-color="#00009e"/></linearGradient><linearGradient id="b92" x1="0" y1="0" x2="1" y2="0"><stop offset="0" stop-color="#ff0800"/><stop offset="0.00956" stop-color="#ff5600"/><stop offset="0.01721" stop-color="#ff8900"/><stop offset="0.02677" stop-color="#ffbb00"/><stop offset="0.04207" stop-color="#ffff00"/><stop offset="0.09369" stop-color="#38ffc7"/><stop offset="0.109" stop-color="#03fffc"/><stop offset="0.1377" stop-color="#00b3ff"/><stop offset="0.1855" stop-color="#0041ff"/><stop offset="0.2046" stop-color="#001aff"/><stop offset="0.2218" stop-color="#0000fe"/><stop offset="0.2543" stop-color="#0000d5"/><stop offset="0.2811" stop-color="#0000bb"/><stop offset="0.3098" stop-color="#0000a8"/><stop offset="0.3384" stop-color="#00009e"/><stop offset="1" stop-color="#00009e"/></linearGradient><linearGradient id="b93" x1="0" y1="0" x2="1" y2="0"><stop offset="0" stop-color="#ff1600"/><stop offset="0.00956" stop-color="#ff6300"/><stop offset="0.01721" stop-color="#ff9500"/><stop offset="0.02677" stop-color="#ffc500"/><stop offset="0.04015" stop-color="#fdff02"/><stop offset="0.09178" stop-color="#33ffcc"/><stop offset="0.1071" stop-color="#00fdff"/><stop offset="0.1319" stop-color="#00b7ff"/><stop offset="0.1797" stop-color="#0044ff"/><stop offset="0.1989" stop-color="#001cff"/><stop offset="0.2161" stop-color="#0000ff"/><stop offset="0.2486" stop-color="#0000d5"/><stop offset="0.2753" stop-color="#0000bb"/><stop offset="0.3021" stop-color="#0000a8"/><stop offset="0.3308" stop-color="#00009e"/><stop offset="1" stop-color="#00009e"/></linearGradient><clipPath id="ct"><rect x="91.25" y="33" width="1044.25" height="253.8"/></clipPath><clipPath id="cb"><rect x="91.25" y="326" width="1046.75" height="235"/></clipPath></defs>
<g shape-rendering="crispEdges"><rect x="91.25" y="33.00" width="4.60" height="253.80" fill="url(#t0)"/><rect x="95.25" y="33.00" width="4.60" height="253.80" fill="url(#t1)"/><rect x="99.25" y="33.00" width="4.60" height="253.80" fill="url(#t2)"/><rect x="103.25" y="33.00" width="4.60" height="253.80" fill="url(#t3)"/><rect x="107.25" y="33.00" width="4.60" height="253.80" fill="url(#t4)"/><rect x="111.25" y="33.00" width="4.60" height="253.80" fill="url(#t5)"/><rect x="115.25" y="33.00" width="4.60" height="253.80" fill="url(#t6)"/><rect x="119.25" y="33.00" width="4.60" height="253.80" fill="url(#t7)"/><rect x="123.25" y="33.00" width="4.60" height="253.80" fill="url(#t8)"/><rect x="127.25" y="33.00" width="4.60" height="253.80" fill="url(#t9)"/><rect x="131.25" y="33.00" width="4.60" height="253.80" fill="url(#t10)"/><rect x="135.25" y="33.00" width="4.60" height="253.80" fill="url(#t11)"/><rect x="139.25" y="33.00" width="4.60" height="253.80" fill="url(#t12)"/><rect x="143.25" y="33.00" width="4.60" height="253.80" fill="url(#t13)"/><rect x="147.25" y="33.00" width="4.60" height="253.80" fill="url(#t14)"/><rect x="151.25" y="33.00" width="4.60" height="253.80" fill="url(#t15)"/><rect x="155.25" y="33.00" width="4.60" height="253.80" fill="url(#t16)"/><rect x="159.25" y="33.00" width="4.60" height="253.80" fill="url(#t17)"/><rect x="163.25" y="33.00" width="4.60" height="253.80" fill="url(#t18)"/><rect x="167.25" y="33.00" width="4.60" height="253.80" fill="url(#t19)"/><rect x="171.25" y="33.00" width="4.60" height="253.80" fill="url(#t20)"/><rect x="175.25" y="33.00" width="4.60" height="253.80" fill="url(#t21)"/><rect x="179.25" y="33.00" width="4.60" height="253.80" fill="url(#t22)"/><rect x="183.25" y="33.00" width="4.60" height="253.80" fill="url(#t23)"/><rect x="187.25" y="33.00" width="4.60" height="253.80" fill="url(#t24)"/><rect x="191.25" y="33.00" width="4.60" height="253.80" fill="url(#t25)"/><rect x="195.25" y="33.00" width="4.60" height="253.80" fill="url(#t26)"/><rect x="199.25" y="33.00" width="4.60" height="253.80" fill="url(#t27)"/><rect x="203.25" y="33.00" width="4.60" height="253.80" fill="url(#t28)"/><rect x="207.25" y="33.00" width="4.60" height="253.80" fill="url(#t29)"/><rect x="211.25" y="33.00" width="4.60" height="253.80" fill="url(#t30)"/><rect x="215.25" y="33.00" width="4.60" height="253.80" fill="url(#t31)"/><rect x="219.25" y="33.00" width="4.60" height="253.80" fill="url(#t32)"/><rect x="223.25" y="33.00" width="4.60" height="253.80" fill="url(#t33)"/><rect x="227.25" y="33.00" width="4.60" height="253.80" fill="url(#t34)"/><rect x="231.25" y="33.00" width="4.60" height="253.80" fill="url(#t35)"/><rect x="235.25" y="33.00" width="4.60" height="253.80" fill="url(#t36)"/><rect x="239.25" y="33.00" width="4.60" height="253.80" fill="url(#t37)"/><rect x="243.25" y="33.00" width="4.60" height="253.80" fill="url(#t38)"/><rect x="247.25" y="33.00" width="4.60" height="253.80" fill="url(#t39)"/><rect x="251.25" y="33.00" width="4.60" height="253.80" fill="url(#t40)"/><rect x="255.25" y="33.00" width="4.60" height="253.80" fill="url(#t41)"/><rect x="259.25" y="33.00" width="4.60" height="253.80" fill="url(#t42)"/><rect x="263.25" y="33.00" width="4.60" height="253.80" fill="url(#t43)"/><rect x="267.25" y="33.00" width="8.60" height="253.80" fill="url(#t44)"/><rect x="275.25" y="33.00" width="8.60" height="253.80" fill="url(#t45)"/><rect x="283.25" y="33.00" width="8.60" height="253.80" fill="url(#t46)"/><rect x="291.25" y="33.00" width="8.60" height="253.80" fill="url(#t47)"/><rect x="299.25" y="33.00" width="8.60" height="253.80" fill="url(#t48)"/><rect x="307.25" y="33.00" width="8.60" height="253.80" fill="url(#t49)"/><rect x="315.25" y="33.00" width="8.60" height="253.80" fill="url(#t50)"/><rect x="323.25" y="33.00" width="8.60" height="253.80" fill="url(#t51)"/><rect x="331.25" y="33.00" width="8.60" height="253.80" fill="url(#t52)"/><rect x="339.25" y="33.00" width="8.60" height="253.80" fill="url(#t53)"/><rect x="347.25" y="33.00" width="8.60" height="253.80" fill="url(#t54)"/><rect x="355.25" y="33.00" width="8.60" height="253.80" fill="url(#t55)"/><rect x="363.25" y="33.00" width="8.60" height="253.80" fill="url(#t56)"/><rect x="371.25" y="33.00" width="8.60" height="253.80" fill="url(#t57)"/><rect x="379.25" y="33.00" width="8.60" height="253.80" fill="url(#t58)"/><rect x="387.25" y="33.00" width="8.60" height="253.80" fill="url(#t59)"/><rect x="395.25" y="33.00" width="8.60" height="253.80" fill="url(#t60)"/><rect x="403.25" y="33.00" width="8.60" height="253.80" fill="url(#t61)"/><rect x="411.25" y="33.00" width="8.60" height="253.80" fill="url(#t62)"/><rect x="419.25" y="33.00" width="8.60" height="253.80" fill="url(#t63)"/><rect x="427.25" y="33.00" width="8.60" height="253.80" fill="url(#t64)"/><rect x="435.25" y="33.00" width="8.60" height="253.80" fill="url(#t65)"/><rect x="443.25" y="33.00" width="8.60" height="253.80" fill="url(#t66)"/><rect x="451.25" y="33.00" width="8.60" height="253.80" fill="url(#t67)"/><rect x="459.25" y="33.00" width="8.60" height="253.80" fill="url(#t68)"/><rect x="467.25" y="33.00" width="8.60" height="253.80" fill="url(#t69)"/><rect x="475.25" y="33.00" width="8.60" height="253.80" fill="url(#t70)"/><rect x="483.25" y="33.00" width="8.60" height="253.80" fill="url(#t71)"/><rect x="491.25" y="33.00" width="8.60" height="253.80" fill="url(#t72)"/><rect x="499.25" y="33.00" width="16.60" height="253.80" fill="url(#t73)"/><rect x="515.25" y="33.00" width="16.60" height="253.80" fill="url(#t74)"/><rect x="531.25" y="33.00" width="16.60" height="253.80" fill="url(#t75)"/><rect x="547.25" y="33.00" width="16.60" height="253.80" fill="url(#t76)"/><rect x="563.25" y="33.00" width="16.60" height="253.80" fill="url(#t77)"/><rect x="579.25" y="33.00" width="16.60" height="253.80" fill="url(#t78)"/><rect x="595.25" y="33.00" width="16.60" height="253.80" fill="url(#t79)"/><rect x="611.25" y="33.00" width="16.60" height="253.80" fill="url(#t80)"/><rect x="627.25" y="33.00" width="16.60" height="253.80" fill="url(#t81)"/><rect x="643.25" y="33.00" width="16.60" height="253.80" fill="url(#t82)"/><rect x="659.25" y="33.00" width="16.60" height="253.80" fill="url(#t83)"/><rect x="675.25" y="33.00" width="16.60" height="253.80" fill="url(#t84)"/><rect x="691.25" y="33.00" width="16.60" height="253.80" fill="url(#t85)"/><rect x="707.25" y="33.00" width="16.60" height="253.80" fill="url(#t86)"/><rect x="723.25" y="33.00" width="16.60" height="253.80" fill="url(#t87)"/><rect x="739.25" y="33.00" width="16.60" height="253.80" fill="url(#t88)"/><rect x="755.25" y="33.00" width="16.60" height="253.80" fill="url(#t89)"/><rect x="771.25" y="33.00" width="16.60" height="253.80" fill="url(#t90)"/><rect x="787.25" y="33.00" width="16.60" height="253.80" fill="url(#t91)"/><rect x="803.25" y="33.00" width="16.60" height="253.80" fill="url(#t92)"/><rect x="819.25" y="33.00" width="16.60" height="253.80" fill="url(#t93)"/><rect x="835.25" y="33.00" width="16.60" height="253.80" fill="url(#t94)"/><rect x="851.25" y="33.00" width="16.60" height="253.80" fill="url(#t95)"/><rect x="867.25" y="33.00" width="16.60" height="253.80" fill="url(#t96)"/><rect x="883.25" y="33.00" width="16.60" height="253.80" fill="url(#t97)"/><rect x="899.25" y="33.00" width="16.60" height="253.80" fill="url(#t98)"/><rect x="915.25" y="33.00" width="16.60" height="253.80" fill="url(#t99)"/><rect x="931.25" y="33.00" width="16.60" height="253.80" fill="url(#t100)"/><rect x="947.25" y="33.00" width="16.60" height="253.80" fill="url(#t101)"/><rect x="963.25" y="33.00" width="16.60" height="253.80" fill="url(#t102)"/><rect x="979.25" y="33.00" width="16.60" height="253.80" fill="url(#t103)"/><rect x="995.25" y="33.00" width="16.60" height="253.80" fill="url(#t104)"/><rect x="1011.25" y="33.00" width="16.60" height="253.80" fill="url(#t105)"/><rect x="1027.25" y="33.00" width="16.60" height="253.80" fill="url(#t106)"/><rect x="1043.25" y="33.00" width="16.60" height="253.80" fill="url(#t107)"/><rect x="1059.25" y="33.00" width="16.60" height="253.80" fill="url(#t108)"/><rect x="1075.25" y="33.00" width="16.60" height="253.80" fill="url(#t109)"/><rect x="1091.25" y="33.00" width="16.60" height="253.80" fill="url(#t110)"/><rect x="1107.25" y="33.00" width="16.60" height="253.80" fill="url(#t111)"/><rect x="1123.25" y="33.00" width="12.85" height="253.80" fill="url(#t112)"/><rect x="91.25" y="326.00" width="1046.75" height="3.10" fill="url(#b0)"/><rect x="91.25" y="328.50" width="1046.75" height="3.10" fill="url(#b1)"/><rect x="91.25" y="331.00" width="1046.75" height="3.10" fill="url(#b2)"/><rect x="91.25" y="333.50" width="1046.75" height="3.10" fill="url(#b3)"/><rect x="91.25" y="336.00" width="1046.75" height="3.10" fill="url(#b4)"/><rect x="91.25" y="338.50" width="1046.75" height="3.10" fill="url(#b5)"/><rect x="91.25" y="341.00" width="1046.75" height="3.10" fill="url(#b6)"/><rect x="91.25" y="343.50" width="1046.75" height="3.10" fill="url(#b7)"/><rect x="91.25" y="346.00" width="1046.75" height="3.10" fill="url(#b8)"/><rect x="91.25" y="348.50" width="1046.75" height="3.10" fill="url(#b9)"/><rect x="91.25" y="351.00" width="1046.75" height="3.10" fill="url(#b10)"/><rect x="91.25" y="353.50" width="1046.75" height="3.10" fill="url(#b11)"/><rect x="91.25" y="356.00" width="1046.75" height="3.10" fill="url(#b12)"/><rect x="91.25" y="358.50" width="1046.75" height="3.10" fill="url(#b13)"/><rect x="91.25" y="361.00" width="1046.75" height="3.10" fill="url(#b14)"/><rect x="91.25" y="363.50" width="1046.75" height="3.10" fill="url(#b15)"/><rect x="91.25" y="366.00" width="1046.75" height="3.10" fill="url(#b16)"/><rect x="91.25" y="368.50" width="1046.75" height="3.10" fill="url(#b17)"/><rect x="91.25" y="371.00" width="1046.75" height="3.10" fill="url(#b18)"/><rect x="91.25" y="373.50" width="1046.75" height="3.10" fill="url(#b19)"/><rect x="91.25" y="376.00" width="1046.75" height="3.10" fill="url(#b20)"/><rect x="91.25" y="378.50" width="1046.75" height="3.10" fill="url(#b21)"/><rect x="91.25" y="381.00" width="1046.75" height="3.10" fill="url(#b22)"/><rect x="91.25" y="383.50" width="1046.75" height="3.10" fill="url(#b23)"/><rect x="91.25" y="386.00" width="1046.75" height="3.10" fill="url(#b24)"/><rect x="91.25" y="388.50" width="1046.75" height="3.10" fill="url(#b25)"/><rect x="91.25" y="391.00" width="1046.75" height="3.10" fill="url(#b26)"/><rect x="91.25" y="393.50" width="1046.75" height="3.10" fill="url(#b27)"/><rect x="91.25" y="396.00" width="1046.75" height="3.10" fill="url(#b28)"/><rect x="91.25" y="398.50" width="1046.75" height="3.10" fill="url(#b29)"/><rect x="91.25" y="401.00" width="1046.75" height="3.10" fill="url(#b30)"/><rect x="91.25" y="403.50" width="1046.75" height="3.10" fill="url(#b31)"/><rect x="91.25" y="406.00" width="1046.75" height="3.10" fill="url(#b32)"/><rect x="91.25" y="408.50" width="1046.75" height="3.10" fill="url(#b33)"/><rect x="91.25" y="411.00" width="1046.75" height="3.10" fill="url(#b34)"/><rect x="91.25" y="413.50" width="1046.75" height="3.10" fill="url(#b35)"/><rect x="91.25" y="416.00" width="1046.75" height="3.10" fill="url(#b36)"/><rect x="91.25" y="418.50" width="1046.75" height="3.10" fill="url(#b37)"/><rect x="91.25" y="421.00" width="1046.75" height="3.10" fill="url(#b38)"/><rect x="91.25" y="423.50" width="1046.75" height="3.10" fill="url(#b39)"/><rect x="91.25" y="426.00" width="1046.75" height="3.10" fill="url(#b40)"/><rect x="91.25" y="428.50" width="1046.75" height="3.10" fill="url(#b41)"/><rect x="91.25" y="431.00" width="1046.75" height="3.10" fill="url(#b42)"/><rect x="91.25" y="433.50" width="1046.75" height="3.10" fill="url(#b43)"/><rect x="91.25" y="436.00" width="1046.75" height="3.10" fill="url(#b44)"/><rect x="91.25" y="438.50" width="1046.75" height="3.10" fill="url(#b45)"/><rect x="91.25" y="441.00" width="1046.75" height="3.10" fill="url(#b46)"/><rect x="91.25" y="443.50" width="1046.75" height="3.10" fill="url(#b47)"/><rect x="91.25" y="446.00" width="1046.75" height="3.10" fill="url(#b48)"/><rect x="91.25" y="448.50" width="1046.75" height="3.10" fill="url(#b49)"/><rect x="91.25" y="451.00" width="1046.75" height="3.10" fill="url(#b50)"/><rect x="91.25" y="453.50" width="1046.75" height="3.10" fill="url(#b51)"/><rect x="91.25" y="456.00" width="1046.75" height="3.10" fill="url(#b52)"/><rect x="91.25" y="458.50" width="1046.75" height="3.10" fill="url(#b53)"/><rect x="91.25" y="461.00" width="1046.75" height="3.10" fill="url(#b54)"/><rect x="91.25" y="463.50" width="1046.75" height="3.10" fill="url(#b55)"/><rect x="91.25" y="466.00" width="1046.75" height="3.10" fill="url(#b56)"/><rect x="91.25" y="468.50" width="1046.75" height="3.10" fill="url(#b57)"/><rect x="91.25" y="471.00" width="1046.75" height="3.10" fill="url(#b58)"/><rect x="91.25" y="473.50" width="1046.75" height="3.10" fill="url(#b59)"/><rect x="91.25" y="476.00" width="1046.75" height="3.10" fill="url(#b60)"/><rect x="91.25" y="478.50" width="1046.75" height="3.10" fill="url(#b61)"/><rect x="91.25" y="481.00" width="1046.75" height="3.10" fill="url(#b62)"/><rect x="91.25" y="483.50" width="1046.75" height="3.10" fill="url(#b63)"/><rect x="91.25" y="486.00" width="1046.75" height="3.10" fill="url(#b64)"/><rect x="91.25" y="488.50" width="1046.75" height="3.10" fill="url(#b65)"/><rect x="91.25" y="491.00" width="1046.75" height="3.10" fill="url(#b66)"/><rect x="91.25" y="493.50" width="1046.75" height="3.10" fill="url(#b67)"/><rect x="91.25" y="496.00" width="1046.75" height="3.10" fill="url(#b68)"/><rect x="91.25" y="498.50" width="1046.75" height="3.10" fill="url(#b69)"/><rect x="91.25" y="501.00" width="1046.75" height="3.10" fill="url(#b70)"/><rect x="91.25" y="503.50" width="1046.75" height="3.10" fill="url(#b71)"/><rect x="91.25" y="506.00" width="1046.75" height="3.10" fill="url(#b72)"/><rect x="91.25" y="508.50" width="1046.75" height="3.10" fill="url(#b73)"/><rect x="91.25" y="511.00" width="1046.75" height="3.10" fill="url(#b74)"/><rect x="91.25" y="513.50" width="1046.75" height="3.10" fill="url(#b75)"/><rect x="91.25" y="516.00" width="1046.75" height="3.10" fill="url(#b76)"/><rect x="91.25" y="518.50" width="1046.75" height="3.10" fill="url(#b77)"/><rect x="91.25" y="521.00" width="1046.75" height="3.10" fill="url(#b78)"/><rect x="91.25" y="523.50" width="1046.75" height="3.10" fill="url(#b79)"/><rect x="91.25" y="526.00" width="1046.75" height="3.10" fill="url(#b80)"/><rect x="91.25" y="528.50" width="1046.75" height="3.10" fill="url(#b81)"/><rect x="91.25" y="531.00" width="1046.75" height="3.10" fill="url(#b82)"/><rect x="91.25" y="533.50" width="1046.75" height="3.10" fill="url(#b83)"/><rect x="91.25" y="536.00" width="1046.75" height="3.10" fill="url(#b84)"/><rect x="91.25" y="538.50" width="1046.75" height="3.10" fill="url(#b85)"/><rect x="91.25" y="541.00" width="1046.75" height="3.10" fill="url(#b86)"/><rect x="91.25" y="543.50" width="1046.75" height="3.10" fill="url(#b87)"/><rect x="91.25" y="546.00" width="1046.75" height="3.10" fill="url(#b88)"/><rect x="91.25" y="548.50" width="1046.75" height="3.10" fill="url(#b89)"/><rect x="91.25" y="551.00" width="1046.75" height="3.10" fill="url(#b90)"/><rect x="91.25" y="553.50" width="1046.75" height="3.10" fill="url(#b91)"/><rect x="91.25" y="556.00" width="1046.75" height="3.10" fill="url(#b92)"/><rect x="91.25" y="558.50" width="1046.75" height="3.10" fill="url(#b93)"/></g>
<g fill="none" stroke="#000" stroke-width="2.4" stroke-linejoin="round"><path d="M91.2 252.2 L98.2 250.8 L105.2 249.5 L112.2 248.2 L119.1 246.8 L126.1 245.5"/><path d="M166.2 238.3 L173.2 237.6 L180.2 236.8 L187.1 236.1 L194.1 235.4 L201.1 234.7 L208.1 234.0 L215.0 233.5 L222.0 233.0 L229.0 232.5 L235.9 232.0 L242.9 231.6 L249.9 231.1 L256.9 230.6 L263.8 230.1 L270.8 229.7 L277.8 229.4 L284.8 229.1 L291.7 228.7 L298.7 228.4 L305.7 228.1 L312.7 227.7 L319.6 227.4 L326.6 227.1 L333.6 226.9 L340.5 226.6 L347.5 226.4 L354.5 226.2 L361.5 225.9 L368.4 225.7 L375.4 225.4 L382.4 225.2 L389.4 225.0 L396.3 224.8 L403.3 224.6 L410.3 224.5 L417.3 224.3 L424.2 224.1 L431.2 223.9 L438.2 223.7 L445.1 223.6 L452.1 223.4 L459.1 223.3 L466.1 223.1 L473.0 223.0 L480.0 222.8 L487.0 222.7 L494.0 222.6 L500.9 222.4 L507.9 222.3 L514.9 222.2 L516.6 222.2"/><path d="M558.5 221.5 L565.4 221.4 L572.4 221.3 L579.4 221.2 L586.4 221.1 L593.3 221.0 L600.3 220.9 L607.3 220.8 L614.2 220.8 L621.2 220.7 L628.2 220.6 L635.2 220.5 L642.1 220.4 L649.1 220.3 L656.1 220.2 L663.1 220.1 L670.0 220.0 L677.0 220.0 L684.0 219.9 L691.0 219.9 L697.9 219.8 L704.9 219.7 L711.9 219.7 L718.8 219.6 L725.8 219.5 L732.8 219.5 L739.8 219.4 L746.7 219.3 L753.7 219.3 L760.7 219.2 L767.7 219.1 L774.6 219.1 L781.6 219.0 L788.6 219.0 L795.6 218.9 L802.5 218.9 L809.5 218.8 L816.5 218.8 L823.4 218.7 L830.4 218.7 L837.4 218.6 L844.4 218.6 L851.3 218.5 L858.3 218.5 L865.3 218.4 L872.3 218.4 L879.2 218.3 L886.2 218.3 L893.2 218.2 L900.2 218.2 L907.1 218.1"/><path d="M947.2 217.9 L954.2 217.9 L961.2 217.8 L968.1 217.8 L975.1 217.8 L982.1 217.7 L989.1 217.7 L996.0 217.7 L1003.0 217.6 L1010.0 217.6 L1017.0 217.5 L1023.9 217.5 L1030.9 217.5 L1037.9 217.4 L1044.8 217.4 L1051.8 217.4 L1058.8 217.4 L1065.8 217.3 L1072.7 217.3 L1079.7 217.3 L1086.7 217.2 L1093.7 217.2 L1100.6 217.2 L1107.6 217.1 L1114.6 217.1 L1121.6 217.1 L1128.5 217.0 L1135.5 217.0"/><path d="M91.2 199.3 L98.2 197.2 L105.2 195.0 L112.2 192.9 L119.1 190.7 L126.1 188.6"/><path d="M164.5 177.2 L171.4 176.0 L178.4 174.8 L185.4 173.6 L192.4 172.4 L199.3 171.2 L206.3 170.0 L213.3 169.2 L220.3 168.4 L227.2 167.6 L234.2 166.8 L241.2 166.0 L248.1 165.1 L255.1 164.3 L262.1 163.5 L269.1 162.9 L276.0 162.3 L283.0 161.7 L290.0 161.2 L297.0 160.6 L303.9 160.1 L310.9 159.5 L317.9 158.9 L324.9 158.4 L331.8 158.0 L338.8 157.6 L345.8 157.2 L352.7 156.8 L359.7 156.4 L366.7 156.0 L373.7 155.5 L380.6 155.1 L387.6 154.8 L394.6 154.5 L401.6 154.2 L408.5 153.9 L415.5 153.6 L422.5 153.2 L429.5 152.9 L436.4 152.6 L443.4 152.3 L450.4 152.1 L457.3 151.8 L464.3 151.6 L471.3 151.3 L478.3 151.1 L485.2 150.8 L492.2 150.6 L499.2 150.4 L506.2 150.2 L509.6 150.1"/><path d="M549.7 148.9 L556.7 148.7 L563.7 148.6 L570.7 148.4 L577.6 148.3 L584.6 148.1 L591.6 147.9 L598.6 147.8 L605.5 147.6 L612.5 147.5 L619.5 147.3 L626.4 147.2 L633.4 147.0 L640.4 146.9 L647.4 146.7 L654.3 146.6 L661.3 146.4 L668.3 146.3 L675.3 146.1 L682.2 146.0 L689.2 145.9 L696.2 145.8 L703.2 145.7 L710.1 145.6 L717.1 145.5 L724.1 145.4 L731.0 145.3 L738.0 145.1 L745.0 145.0 L752.0 144.9 L758.9 144.8 L765.9 144.7 L772.9 144.6 L779.9 144.5 L786.8 144.4 L793.8 144.3 L800.8 144.2 L807.8 144.1 L814.7 144.0 L821.7 143.9 L828.7 143.9 L835.6 143.8 L842.6 143.7 L849.6 143.6 L856.6 143.5 L863.5 143.4 L870.5 143.4 L877.5 143.3 L884.5 143.2 L891.4 143.1 L898.4 143.0 L905.4 142.9"/><path d="M945.5 142.6 L952.5 142.5 L959.4 142.4 L966.4 142.4 L973.4 142.3 L980.3 142.2 L987.3 142.2 L994.3 142.1 L1001.3 142.0 L1008.2 142.0 L1015.2 141.9 L1022.2 141.8 L1029.2 141.8 L1036.1 141.7 L1043.1 141.7 L1050.1 141.6 L1057.1 141.6 L1064.0 141.5 L1071.0 141.5 L1078.0 141.4 L1084.9 141.4 L1091.9 141.3 L1098.9 141.3 L1105.9 141.2 L1112.8 141.2 L1119.8 141.1 L1126.8 141.1 L1133.8 141.0 L1135.5 141.0"/><path d="M91.2 149.6 L98.2 146.5 L105.2 143.4 L112.2 140.3 L119.1 137.2 L126.1 134.1"/><path d="M162.7 118.1 L169.7 116.3 L176.7 114.5 L183.6 112.8 L190.6 111.0 L197.6 109.2 L204.6 107.4 L211.5 106.0 L218.5 104.8 L225.5 103.6 L232.5 102.4 L239.4 101.2 L246.4 100.0 L253.4 98.8 L260.4 97.5 L267.3 96.4 L274.3 95.6 L281.3 94.8 L288.2 93.9 L295.2 93.1 L302.2 92.2 L309.2 91.4 L316.1 90.5 L323.1 89.7 L330.1 89.1 L337.1 88.4 L344.0 87.8 L351.0 87.2 L358.0 86.6 L365.0 85.9 L371.9 85.3 L378.9 84.7 L385.9 84.2 L392.8 83.7 L399.8 83.2 L406.8 82.7 L413.8 82.2 L420.7 81.8 L427.7 81.3 L434.7 80.8 L441.7 80.3 L448.6 80.0 L455.6 79.6 L462.6 79.2 L469.6 78.8 L476.5 78.4 L483.5 78.1 L490.5 77.7 L497.4 77.3 L504.4 77.0 L507.9 76.8"/><path d="M548.0 75.1 L555.0 74.8 L561.9 74.5 L568.9 74.3 L575.9 74.0 L582.9 73.8 L589.8 73.6 L596.8 73.3 L603.8 73.1 L610.8 72.9 L617.7 72.6 L624.7 72.4 L631.7 72.2 L638.7 71.9 L645.6 71.7 L652.6 71.4 L659.6 71.2 L666.5 71.0 L673.5 70.8 L680.5 70.6 L687.5 70.4 L694.4 70.2 L701.4 70.1 L708.4 69.9 L715.4 69.7 L722.3 69.6 L729.3 69.4 L736.3 69.2 L743.3 69.0 L750.2 68.9 L757.2 68.7 L764.2 68.5 L771.1 68.4 L778.1 68.2 L785.1 68.0 L792.1 67.9 L799.0 67.7 L806.0 67.6 L813.0 67.5 L820.0 67.4 L826.9 67.2 L833.9 67.1 L840.9 67.0 L847.9 66.8 L854.8 66.7 L861.8 66.6 L868.8 66.4 L875.7 66.3 L882.7 66.2 L889.7 66.1 L896.7 65.9 L898.4 65.9"/><path d="M938.5 65.3 L945.5 65.2 L952.5 65.1 L959.4 65.0 L966.4 64.9 L973.4 64.8 L980.3 64.7 L987.3 64.6 L994.3 64.5 L1001.3 64.4 L1008.2 64.3 L1015.2 64.2 L1022.2 64.1 L1029.2 64.0 L1036.1 63.9 L1043.1 63.8 L1050.1 63.7 L1057.1 63.6 L1064.0 63.6 L1071.0 63.5 L1078.0 63.4 L1084.9 63.3 L1091.9 63.2 L1098.9 63.2 L1105.9 63.1 L1112.8 63.0 L1119.8 62.9 L1126.8 62.8 L1133.8 62.7 L1135.5 62.7"/><path d="M91.2 103.8 L98.2 99.6 L105.2 95.5 L112.2 91.3 L115.7 89.2"/><path d="M150.5 68.3 L157.5 64.1 L164.5 60.9 L171.4 58.4 L178.4 56.0 L185.4 53.6 L192.4 51.1 L199.3 48.7 L206.3 46.3 L213.3 44.5 L220.3 42.8 L227.2 41.2 L234.2 39.5 L241.2 37.8 L248.1 36.1 L255.1 34.5 L260.4 33.2"/><path d="M91.2 66.2 L98.2 61.1 L105.2 55.9 L112.2 50.7 L119.1 45.5 L126.1 40.3 L133.1 35.2 L134.8 33.9"/><path d="M91.5 351.0 L93.7 345.4 L96.0 339.7 L98.2 334.1 L100.4 328.4 L101.0 327.0"/><path d="M91.5 401.0 L94.2 395.6 L96.9 390.1 L99.6 384.7 L102.2 379.2 L104.9 373.8 L107.6 368.4 L110.3 362.9 L113.0 357.5 L115.0 351.7 L117.0 345.9 L118.9 340.1 L120.9 334.3 L122.9 328.5 L123.4 327.0"/><path d="M91.5 455.0 L94.4 449.6 L97.4 444.2 L100.3 438.8 L102.5 434.7"/><path d="M122.2 392.3 L124.5 386.5 L126.6 380.8 L128.7 375.1 L130.8 369.4 L132.9 363.7 L135.0 358.0 L137.2 352.4 L139.3 346.7 L141.5 341.1 L143.7 335.5 L145.8 329.8 L146.9 327.0"/><path d="M91.5 493.0 L95.2 488.0 L99.0 483.0 L102.7 478.0 L106.4 473.0 L108.3 468.8"/><path d="M135.3 415.8 L138.2 410.5 L140.9 405.1 L143.6 399.6 L146.4 394.2 L149.1 388.7 L151.8 383.3 L154.5 377.8 L157.3 372.4 L160.0 366.9 L162.7 361.4 L165.4 355.9 L168.2 350.4 L170.9 344.9 L173.6 339.4 L176.3 333.9 L179.0 328.4 L179.7 327.0"/><path d="M91.5 528.0 L95.4 523.4 L99.4 518.7 L103.3 514.1 L107.2 509.5 L110.8 504.6 L113.4 499.0"/><path d="M135.1 458.3 L138.3 453.1 L141.5 447.8 L144.7 442.6 L147.9 437.3 L151.4 432.3 L155.0 427.3 L158.6 422.4 L162.1 417.4 L165.7 412.5 L169.1 407.4 L172.2 402.2 L175.3 397.1 L178.4 391.9 L181.5 386.7 L184.6 381.6 L187.7 376.4 L190.7 371.2 L193.6 365.8 L196.5 360.5 L199.3 355.1 L202.2 349.8 L205.1 344.4 L207.9 339.0 L210.8 333.7 L213.7 328.3 L214.4 327.0"/><path d="M91.5 557.0 L95.6 552.3 L99.7 547.7 L103.8 543.0 L107.8 538.3 L111.9 533.7 L116.0 529.0 L116.8 527.7"/><path d="M152.0 478.7 L156.0 474.1 L159.7 469.2 L163.2 464.1 L166.7 459.0 L170.3 454.0 L173.8 448.9 L177.3 443.8 L180.8 438.7 L184.0 433.6 L187.3 428.6 L190.5 423.5 L193.7 418.4 L196.9 413.3 L200.2 408.2 L203.4 403.1 L206.9 398.2 L210.6 393.6 L214.4 388.9 L218.1 384.2 L221.9 379.4 L225.6 374.8 L229.4 370.1 L233.1 365.4 L236.7 360.4 L240.0 355.3 L243.4 350.1 L246.7 345.0 L250.0 339.9 L253.4 334.7 L256.7 329.6 L258.4 327.0"/><path d="M117.0 561.0 L120.7 556.1 L124.5 551.2 L128.2 546.4 L132.0 541.5 L135.7 536.6 L139.4 531.7 L143.5 527.1"/><path d="M173.3 492.2 L176.9 487.3 L180.7 482.5 L184.5 477.8 L188.3 473.0 L192.1 468.2 L196.2 463.8 L200.6 459.4 L204.9 455.1 L209.2 450.8 L213.5 446.5 L217.8 442.2 L221.8 437.6 L225.5 432.8 L229.1 428.1 L232.7 423.3 L236.4 418.5 L240.0 413.7 L243.6 409.0 L247.3 404.2 L251.0 399.5 L255.2 395.1 L259.4 390.7 L263.5 386.3 L267.7 381.9 L271.9 377.5 L276.0 373.1 L280.2 368.7 L284.4 364.3 L288.4 359.8 L292.2 355.1 L295.9 350.4 L299.7 345.8 L303.4 341.1 L307.2 336.4 L310.9 331.7 L314.7 327.0"/><path d="M141.0 561.0 L145.7 557.0 L150.4 553.1 L155.1 549.1 L159.8 545.2 L164.5 541.2 L169.2 537.2 L173.9 533.3 L178.5 529.1 L179.6 528.0"/><path d="M221.4 486.3 L225.8 482.0 L230.4 477.9 L234.9 473.8 L239.5 469.7 L244.0 465.6 L248.6 461.5 L253.2 457.4 L257.7 453.3 L262.3 449.2 L266.8 445.1 L271.4 441.0 L275.6 436.7 L279.8 432.2 L284.0 427.8 L288.2 423.3 L292.4 418.9 L296.6 414.4 L300.8 410.0 L305.0 405.5 L309.6 401.4 L314.3 397.4 L319.1 393.4 L323.8 389.4 L328.1 384.8 L332.4 380.1 L336.6 375.3 L340.8 370.6 L345.1 366.3 L349.6 362.2 L354.1 358.0 L358.5 353.9 L363.0 349.8 L367.4 345.6 L371.9 341.5 L376.4 337.3 L380.8 333.2 L385.3 329.1 L387.5 327.0"/><path d="M182.0 561.0 L186.8 557.4 L191.6 553.8 L196.4 550.2 L201.2 546.6 L206.1 542.9 L210.9 539.3 L215.7 535.7 L220.5 532.1 L225.4 528.4"/><path d="M261.3 498.4 L266.1 494.5 L271.1 490.9 L276.2 487.2 L281.2 483.6 L286.2 480.0 L291.2 476.3 L296.2 472.7 L301.2 469.0 L305.8 465.2 L310.4 461.4 L315.0 457.5 L319.6 453.7 L324.2 449.8 L328.8 446.0 L333.4 442.1 L338.0 438.3 L342.6 434.5 L347.2 430.6 L351.8 426.8 L356.5 422.9 L361.1 419.1 L365.7 415.2 L370.3 411.4 L374.9 407.6 L379.5 403.7 L384.2 399.9 L388.9 396.2 L393.7 392.5 L398.5 388.8 L403.2 385.1 L408.0 381.3 L412.8 377.6 L417.5 373.9 L422.3 370.2 L427.0 366.5 L431.8 362.7 L436.6 359.1 L441.4 355.4 L446.3 351.7 L451.1 348.1 L455.9 344.4 L460.7 340.7 L465.5 337.1 L470.4 333.4 L475.2 329.7 L478.8 327.0"/><path d="M236.0 561.0 L241.2 558.0 L246.5 554.9 L251.7 551.9 L256.9 548.8 L262.2 545.8 L267.4 542.7 L272.6 539.7 L277.8 536.6 L283.1 533.6 L288.3 530.4"/><path d="M337.3 497.4 L342.4 493.9 L347.8 491.0 L353.2 488.2 L358.7 485.5 L364.1 482.8 L369.6 480.1 L375.0 477.4 L380.4 474.7 L385.6 471.5 L390.6 468.1 L395.6 464.8 L400.7 461.4 L405.7 458.0 L410.7 454.7 L415.8 451.3 L420.8 448.0 L425.8 444.6 L430.9 441.3 L435.9 437.9 L440.9 434.5 L446.0 431.2 L451.0 427.8 L456.0 424.5 L461.1 421.1 L466.1 417.8 L471.1 414.4 L476.2 411.0 L481.2 407.7 L486.2 404.3 L491.3 401.0 L496.4 397.9 L501.6 394.8 L506.7 391.7 L511.9 388.6 L517.1 385.5 L522.2 382.4 L527.4 379.3 L532.5 376.2 L537.7 373.1 L542.8 370.0 L548.0 366.9 L553.1 363.8 L558.3 360.7 L563.4 357.6 L568.6 354.5 L573.8 351.4 L579.1 348.4 L584.3 345.3 L589.5 342.3 L594.8 339.2 L600.0 336.2 L605.2 333.1 L610.5 330.1 L615.7 327.0"/><path d="M305.0 561.0 L310.5 558.2 L316.0 555.5 L321.4 552.7 L327.2 550.7 L333.0 548.9 L338.9 547.2 L340.3 546.7"/><path d="M383.6 529.7 L388.9 526.6 L394.3 523.9 L399.7 521.2 L405.1 518.5 L410.6 515.8 L416.0 513.0 L421.4 510.3 L426.9 507.6 L432.3 504.9 L437.7 502.2 L443.1 499.5 L448.7 497.0 L454.3 494.7 L459.9 492.3 L465.5 490.0 L471.1 487.6 L476.7 485.3 L482.2 482.9 L487.8 480.6 L493.4 478.2 L499.0 475.9 L504.6 473.5 L510.2 471.2 L515.7 468.7 L521.1 466.1 L526.6 463.6 L532.0 461.0 L537.4 458.4 L542.9 455.9 L548.3 453.3 L553.7 450.7 L559.1 448.1 L564.6 445.6 L570.0 443.0 L575.4 440.4 L580.9 437.9 L586.3 435.3 L591.7 432.6 L597.1 429.8 L602.6 427.1 L608.0 424.3 L613.4 421.5 L618.8 418.8 L624.2 416.0 L629.7 413.2 L635.1 410.5 L640.5 407.7 L645.9 404.9 L651.4 402.2 L656.8 399.4 L662.4 397.1 L668.2 395.3 L673.9 393.4 L679.7 391.6 L685.5 389.8 L691.3 388.0 L692.7 387.5"/><path d="M733.2 363.8 L738.6 360.8 L744.3 358.6 L750.0 356.6 L755.7 354.7 L761.4 352.8 L767.1 350.9 L772.9 349.0 L778.6 347.1 L784.0 344.4 L789.3 341.5 L794.7 338.6 L800.0 335.7 L805.3 332.8 L810.7 329.9 L816.0 327.0"/><path d="M452.0 561.0 L457.8 559.2 L463.7 557.3 L469.5 555.5 L475.4 553.6 L481.2 551.8 L487.1 549.9 L492.9 548.0 L497.3 546.6"/><path d="M554.2 527.0 L560.1 525.0 L565.9 523.4 L571.8 521.8 L577.6 520.3 L583.5 518.7 L589.3 517.1 L595.2 515.5 L601.1 513.9 L606.9 512.4 L612.8 510.8 L618.6 508.8 L624.3 506.4 L630.0 504.1 L635.7 501.7 L641.4 499.3 L647.1 496.9 L652.8 494.6 L658.5 492.2 L664.4 490.1 L670.3 488.4 L676.2 486.7 L682.2 485.0 L688.1 483.2 L694.1 481.5 L700.0 479.8 L705.8 478.0 L711.5 476.1 L717.3 474.3 L723.0 472.4 L728.8 470.6 L734.5 468.7 L740.3 466.9 L746.1 465.0 L751.8 463.2 L757.6 461.3 L763.3 459.5 L769.1 457.6 L774.8 455.8 L780.6 453.9 L786.4 452.1 L792.1 450.2 L797.8 448.2 L803.5 446.1 L809.1 443.9 L814.7 441.8 L820.4 439.6 L826.0 437.5 L831.6 435.3 L837.3 433.2 L842.9 431.0 L848.5 428.9 L854.2 426.7 L859.8 424.6 L865.6 422.7 L867.0 422.3"/><path d="M923.6 403.3 L929.4 401.4 L935.2 399.6 L940.9 397.8 L946.7 396.1 L952.4 394.3 L958.2 392.6 L963.9 390.8 L969.7 389.1 L975.4 387.3 L981.2 385.5 L986.9 383.8 L992.7 382.0 L998.4 380.3 L1004.2 378.5 L1009.9 376.8 L1015.7 375.0 L1021.4 373.0 L1027.1 371.0 L1032.8 368.9 L1038.6 366.9 L1044.3 364.9 L1050.0 362.9 L1055.7 360.9 L1061.4 358.9 L1067.1 356.8 L1072.9 354.8 L1078.6 352.8 L1084.2 350.7 L1089.9 348.5 L1095.6 346.3 L1101.2 344.1 L1106.9 342.0 L1112.5 339.8 L1118.2 337.6 L1123.9 335.4 L1129.5 333.3 L1135.2 331.1 L1138.0 330.0"/><path d="M719.0 561.0 L725.1 560.0 L731.1 558.9 L737.2 557.9 L743.2 556.9 L749.3 555.9 L755.3 554.8 L761.4 553.8 L767.5 552.8 L773.5 551.7 L778.1 550.8"/><path d="M823.1 540.3 L829.0 538.7 L834.9 537.5 L840.8 536.3 L846.7 535.1 L852.6 533.9 L858.5 532.7 L864.4 531.5 L870.3 530.3 L876.2 529.1 L882.1 527.9 L887.9 526.7 L893.8 525.5 L899.7 524.3 L905.6 523.1 L911.5 521.9 L917.5 520.8 L923.4 519.6 L929.4 518.5 L935.3 517.4 L941.3 516.2 L947.2 515.1 L953.2 514.0 L959.1 512.8 L965.1 511.7 L971.0 510.6 L977.0 509.3 L982.9 507.8 L988.8 506.3 L994.7 504.8 L1000.6 503.3 L1006.5 501.9 L1012.4 500.4 L1018.3 498.9 L1024.3 497.4 L1030.2 496.0 L1036.1 494.5 L1042.0 493.0 L1048.0 491.9 L1054.0 490.9 L1060.0 489.8 L1066.0 488.8 L1072.0 487.7 L1078.0 486.6 L1084.0 485.6 L1090.0 484.5 L1096.0 483.4 L1102.0 482.4 L1108.0 481.3 L1114.0 480.2 L1120.0 479.2 L1126.0 478.1 L1132.0 477.1 L1138.0 476.0"/></g>
<g font-family="'Liberation Serif',serif" font-weight="bold" font-size="26.5" fill="#000" text-anchor="middle">
<text transform="translate(146.0 241.7) rotate(-10.0)" y="8.6">30</text>
<text transform="translate(537.5 221.8) rotate(-1.0)" y="8.6">30</text>
<text transform="translate(927.5 218.0) rotate(-0.3)" y="8.6">30</text>
<text transform="translate(145.0 182.7) rotate(-20.0)" y="8.6">40</text>
<text transform="translate(530.0 149.5) rotate(-1.7)" y="8.6">40</text>
<text transform="translate(925.0 142.8) rotate(-0.5)" y="8.6">40</text>
<text transform="translate(145.0 125.6) rotate(-25.0)" y="8.6">50</text>
<text transform="translate(527.5 76.0) rotate(-2.5)" y="8.6">50</text>
<text transform="translate(919.0 65.6) rotate(-0.8)" y="8.6">50</text>
<text transform="translate(132.5 79.1) rotate(-35.0)" y="8.6">60</text>
<text transform="translate(113.6 414.0) rotate(-65.0)" y="8.6">0.6</text>
<text transform="translate(120.6 442.0) rotate(-65.0)" y="8.6">0.55</text>
<text transform="translate(123.0 478.0) rotate(-60.0)" y="8.6">0.5</text>
<text transform="translate(132.0 501.5) rotate(-55.0)" y="8.6">0.45</text>
<text transform="translate(160.0 511.0) rotate(-50.0)" y="8.6">0.4</text>
<text transform="translate(200.5 507.0) rotate(-44.0)" y="8.6">0.35</text>
<text transform="translate(244.0 514.0) rotate(-38.0)" y="8.6">0.3</text>
<text transform="translate(313.0 514.0) rotate(-33.0)" y="8.6">0.25</text>
<text transform="translate(362.8 540.5) rotate(-27.0)" y="8.6">0.2</text>
<text transform="translate(713.0 375.0) rotate(-27.0)" y="8.6">0.2</text>
<text transform="translate(526.3 536.8) rotate(-19.0)" y="8.6">0.15</text>
<text transform="translate(896.0 413.0) rotate(-20.0)" y="8.6">0.15</text>
<text transform="translate(800.8 546.3) rotate(-15.0)" y="8.6">0.1</text>
</g>
<path d="M160.9 286.0 V33.0" stroke="#000" stroke-width="4.6" stroke-dasharray="4.4 6.03" fill="none"/>
<path d="M323.3 286.8 V33.0" stroke="#1818d6" stroke-width="4.4" stroke-dasharray="19.5 17.2" fill="none"/>
<path d="M380.5 286.0 V33.0" stroke="#f5f328" stroke-width="4.6" stroke-dasharray="4.4 6.03" fill="none"/>
<path d="M658.6 286.8 V33.0" stroke="#f5f328" stroke-width="4.4" stroke-dasharray="19.5 17.2" fill="none"/>
<path d="M676.7 286.0 V33.0" stroke="#ea1422" stroke-width="4.6" stroke-dasharray="4.4 6.03" fill="none"/>
<path d="M1112.3 286.8 V33.0" stroke="#ea1422" stroke-width="4.4" stroke-dasharray="19.5 17.2" fill="none"/>
<path d="M161.0 325.6 V561.0" stroke="#000" stroke-width="4.6" stroke-dasharray="4.4 6.16" fill="none"/>
<path d="M323.9 561.0 V326.0" stroke="#1818d6" stroke-width="4.4" stroke-dasharray="19 16.5" fill="none"/>
<path d="M381.2 325.6 V561.0" stroke="#f5f328" stroke-width="4.6" stroke-dasharray="4.4 6.16" fill="none"/>
<path d="M660.0 561.0 V326.0" stroke="#f5f328" stroke-width="4.4" stroke-dasharray="19 16.5" fill="none"/>
<path d="M678.1 325.6 V561.0" stroke="#ea1422" stroke-width="4.6" stroke-dasharray="4.4 6.16" fill="none"/>
<path d="M1114.7 561.0 V326.0" stroke="#ea1422" stroke-width="4.4" stroke-dasharray="19 16.5" fill="none"/>
<path d="M207.3 286.8 v-10 M207.3 33.0 v10 M323.3 286.8 v-10 M323.3 33.0 v10 M439.3 286.8 v-10 M439.3 33.0 v10 M555.4 286.8 v-10 M555.4 33.0 v10 M671.4 286.8 v-10 M671.4 33.0 v10 M787.4 286.8 v-10 M787.4 33.0 v10 M903.4 286.8 v-10 M903.4 33.0 v10 M1019.5 286.8 v-10 M1019.5 33.0 v10 M91.2 117.6 h10 M1135.5 117.6 h-10 M91.2 202.2 h10 M1135.5 202.2 h-10 M207.6 561.0 v-10 M207.6 326.0 v10 M323.9 561.0 v-10 M323.9 326.0 v10 M440.2 561.0 v-10 M440.2 326.0 v10 M556.5 561.0 v-10 M556.5 326.0 v10 M672.8 561.0 v-10 M672.8 326.0 v10 M789.1 561.0 v-10 M789.1 326.0 v10 M905.4 561.0 v-10 M905.4 326.0 v10 M1021.7 561.0 v-10 M1021.7 326.0 v10 M91.2 404.3 h10 M1138.0 404.3 h-10 M91.2 482.7 h10 M1138.0 482.7 h-10" stroke="#333" stroke-width="2" fill="none"/>
<rect x="91.25" y="33.00" width="1044.25" height="253.80" fill="none" stroke="#2a2a2a" stroke-width="3"/>
<rect x="91.25" y="326.00" width="1046.75" height="235.00" fill="none" stroke="#2a2a2a" stroke-width="3"/>
<g font-family="'Liberation Serif',serif" font-weight="bold" font-size="31" fill="#262626" text-anchor="end">
<text x="81.6" y="43.9">500</text>
<text x="81.6" y="128.5">400</text>
<text x="81.6" y="213.1">300</text>
<text x="81.6" y="297.7">200</text>
<text x="81.6" y="336.9">500</text>
<text x="81.6" y="415.2">400</text>
<text x="81.6" y="493.6">300</text>
<text x="81.6" y="571.9">200</text>
</g>
<g font-family="'Liberation Serif',serif" font-weight="bold" font-size="31" fill="#262626" text-anchor="middle">
<text x="91.2" y="599.7">100</text>
<text x="207.6" y="599.7">200</text>
<text x="323.9" y="599.7">300</text>
<text x="440.2" y="599.7">400</text>
<text x="556.5" y="599.7">500</text>
<text x="672.8" y="599.7">600</text>
<text x="789.1" y="599.7">700</text>
<text x="905.4" y="599.7">800</text>
<text x="1021.7" y="599.7">900</text>
<text x="1138.0" y="599.7">1000</text>
</g>
<g font-family="'Liberation Serif',serif" font-weight="bold" font-size="31.2" fill="#1a1a1a">
<text x="94" y="25.5" fill="#111">Now</text>
<text x="181" y="25.5" fill="#1010dc">Li-ion (future)</text>
<text x="469" y="25.5" fill="#f6c62c">Li-S</text>
<text x="809" y="25.5" fill="#e8121c">Li-air</text>
<text x="1134.2" y="23.5" fill="#111" font-size="35">(a)</text>
<text x="1135.8" y="92.6" fill="#111" font-size="30.8">Cost /Pack</text>
<text x="1136.5" y="134.8" fill="#111" font-size="30.8">[1000 $]</text>
<text x="1137.4" y="317.3" fill="#111" font-size="35">(b)</text>
<text x="1138.3" y="381.3" fill="#111" font-size="31">PTC</text>
<text x="614" y="634.5" text-anchor="middle" fill="#262626">Specific Energy [Wh/kg]</text>
<text transform="translate(24.5 311) rotate(-90)" text-anchor="middle" fill="#262626">Range [miles]</text>
</g>
</svg></body></html>
